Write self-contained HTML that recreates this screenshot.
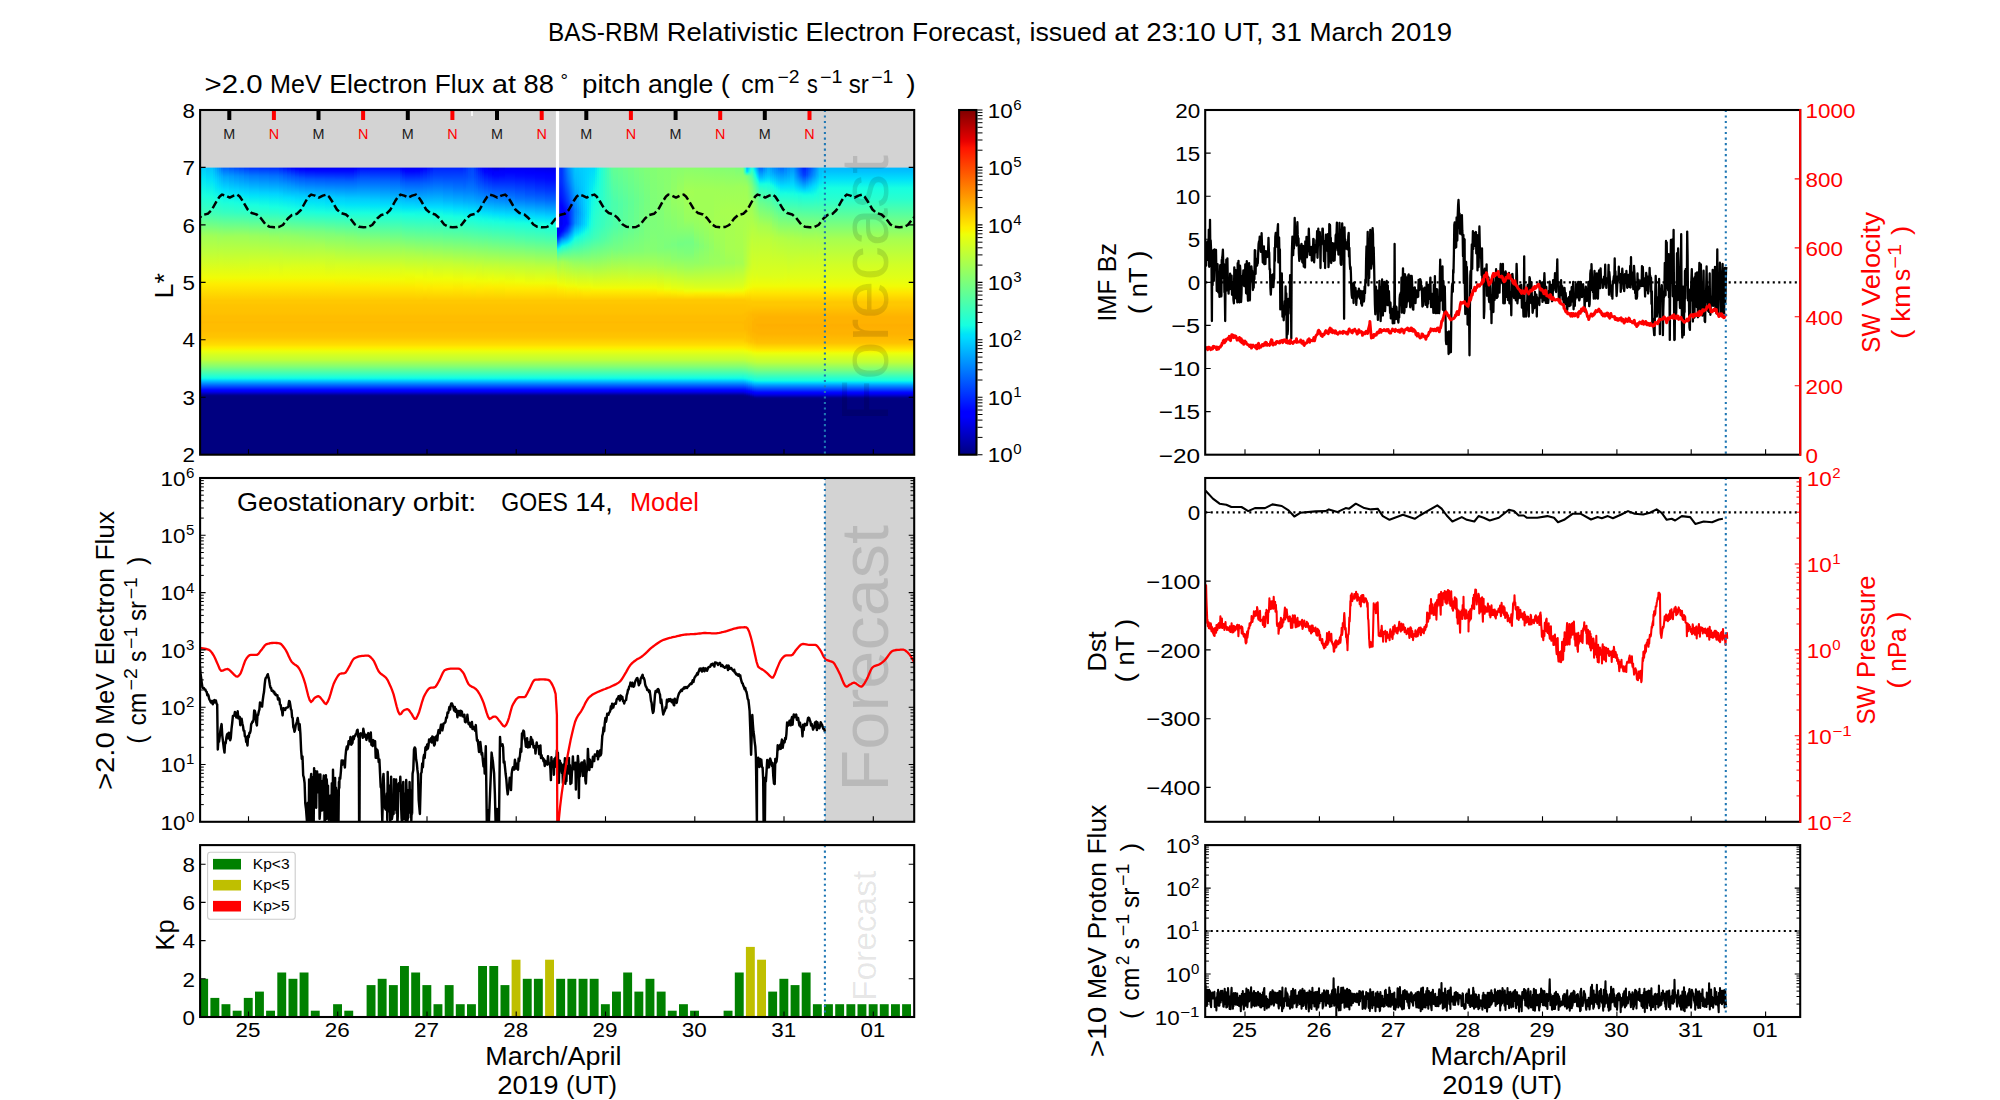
<!DOCTYPE html>
<html><head><meta charset="utf-8"><title>BAS-RBM Relativistic Electron Forecast</title><style>html,body{margin:0;padding:0;background:#fff}svg{display:block}text{font-family:"Liberation Sans",sans-serif}</style></head><body><svg width="2000" height="1100" viewBox="0 0 2000 1100" font-family="Liberation Sans, sans-serif"><defs><linearGradient id="h0" x1="0" y1="0" x2="0" y2="1"><stop offset="0.000" stop-color="#00cbff"/><stop offset="0.075" stop-color="#00e4f8"/><stop offset="0.209" stop-color="#19ffde"/><stop offset="0.336" stop-color="#3cffba"/><stop offset="0.515" stop-color="#a0ff56"/><stop offset="0.642" stop-color="#beff39"/><stop offset="0.828" stop-color="#f1fc06"/><stop offset="0.873" stop-color="#feed00"/><stop offset="1.000" stop-color="#ffc800"/></linearGradient><linearGradient id="h1" x1="0" y1="0" x2="0" y2="1"><stop offset="0.000" stop-color="#00c1ff"/><stop offset="0.097" stop-color="#00e2f9"/><stop offset="0.216" stop-color="#19ffde"/><stop offset="0.336" stop-color="#3bffbc"/><stop offset="0.515" stop-color="#a0ff56"/><stop offset="0.642" stop-color="#beff39"/><stop offset="0.828" stop-color="#f1fc06"/><stop offset="0.873" stop-color="#feed00"/><stop offset="1.000" stop-color="#ffc800"/></linearGradient><linearGradient id="h2" x1="0" y1="0" x2="0" y2="1"><stop offset="0.000" stop-color="#00b4ff"/><stop offset="0.104" stop-color="#00defc"/><stop offset="0.179" stop-color="#0cf4eb"/><stop offset="0.231" stop-color="#19ffde"/><stop offset="0.336" stop-color="#39ffbe"/><stop offset="0.500" stop-color="#97ff60"/><stop offset="0.530" stop-color="#a4ff53"/><stop offset="0.664" stop-color="#c4ff33"/><stop offset="0.828" stop-color="#f1fc06"/><stop offset="0.873" stop-color="#feed00"/><stop offset="1.000" stop-color="#ffc800"/></linearGradient><linearGradient id="h3" x1="0" y1="0" x2="0" y2="1"><stop offset="0.000" stop-color="#00a4ff"/><stop offset="0.104" stop-color="#00d6ff"/><stop offset="0.164" stop-color="#04eaf2"/><stop offset="0.231" stop-color="#18ffe0"/><stop offset="0.336" stop-color="#39ffbe"/><stop offset="0.515" stop-color="#a0ff56"/><stop offset="0.642" stop-color="#beff39"/><stop offset="0.828" stop-color="#f1fc06"/><stop offset="0.873" stop-color="#feed00"/><stop offset="1.000" stop-color="#ffc800"/></linearGradient><linearGradient id="h4" x1="0" y1="0" x2="0" y2="1"><stop offset="0.000" stop-color="#0094ff"/><stop offset="0.030" stop-color="#00a4ff"/><stop offset="0.082" stop-color="#00c4ff"/><stop offset="0.149" stop-color="#00e0fb"/><stop offset="0.239" stop-color="#18ffe0"/><stop offset="0.336" stop-color="#38ffc0"/><stop offset="0.507" stop-color="#9aff5d"/><stop offset="0.828" stop-color="#f1fc06"/><stop offset="0.873" stop-color="#feed00"/><stop offset="1.000" stop-color="#ffc800"/></linearGradient><linearGradient id="h5" x1="0" y1="0" x2="0" y2="1"><stop offset="0.000" stop-color="#0084ff"/><stop offset="0.022" stop-color="#0090ff"/><stop offset="0.082" stop-color="#00baff"/><stop offset="0.164" stop-color="#00e2fa"/><stop offset="0.246" stop-color="#19ffde"/><stop offset="0.343" stop-color="#3affbc"/><stop offset="0.515" stop-color="#9dff5a"/><stop offset="0.672" stop-color="#c7ff30"/><stop offset="0.828" stop-color="#f1fc06"/><stop offset="0.873" stop-color="#feed00"/><stop offset="1.000" stop-color="#ffc800"/></linearGradient><linearGradient id="h6" x1="0" y1="0" x2="0" y2="1"><stop offset="0.000" stop-color="#0070ff"/><stop offset="0.007" stop-color="#0070ff"/><stop offset="0.067" stop-color="#00aaff"/><stop offset="0.172" stop-color="#00e2fa"/><stop offset="0.246" stop-color="#16ffe1"/><stop offset="0.343" stop-color="#39ffbe"/><stop offset="0.485" stop-color="#8dff6a"/><stop offset="0.537" stop-color="#a4ff53"/><stop offset="0.672" stop-color="#c7ff30"/><stop offset="0.828" stop-color="#f1fc06"/><stop offset="0.873" stop-color="#feed00"/><stop offset="1.000" stop-color="#ffc800"/></linearGradient><linearGradient id="h7" x1="0" y1="0" x2="0" y2="1"><stop offset="0.000" stop-color="#0064ff"/><stop offset="0.015" stop-color="#006cff"/><stop offset="0.075" stop-color="#00a5ff"/><stop offset="0.172" stop-color="#00ddfe"/><stop offset="0.231" stop-color="#0ff8e7"/><stop offset="0.276" stop-color="#1fffd7"/><stop offset="0.336" stop-color="#34ffc3"/><stop offset="0.522" stop-color="#a0ff56"/><stop offset="0.642" stop-color="#beff39"/><stop offset="0.828" stop-color="#f1fc06"/><stop offset="0.873" stop-color="#feed00"/><stop offset="1.000" stop-color="#ffc800"/></linearGradient><linearGradient id="h8" x1="0" y1="0" x2="0" y2="1"><stop offset="0.000" stop-color="#0059ff"/><stop offset="0.007" stop-color="#0059ff"/><stop offset="0.067" stop-color="#0098ff"/><stop offset="0.187" stop-color="#00e0fb"/><stop offset="0.261" stop-color="#18ffdf"/><stop offset="0.343" stop-color="#37ffc0"/><stop offset="0.522" stop-color="#a0ff56"/><stop offset="0.642" stop-color="#beff39"/><stop offset="0.828" stop-color="#f1fc06"/><stop offset="0.873" stop-color="#feed00"/><stop offset="1.000" stop-color="#ffc800"/></linearGradient><linearGradient id="h9" x1="0" y1="0" x2="0" y2="1"><stop offset="0.000" stop-color="#0050ff"/><stop offset="0.007" stop-color="#0050ff"/><stop offset="0.067" stop-color="#0090ff"/><stop offset="0.172" stop-color="#00d4ff"/><stop offset="0.216" stop-color="#06ecf1"/><stop offset="0.269" stop-color="#19ffde"/><stop offset="0.336" stop-color="#31ffc6"/><stop offset="0.515" stop-color="#9dff5a"/><stop offset="0.687" stop-color="#caff2c"/><stop offset="0.828" stop-color="#f1fc06"/><stop offset="0.873" stop-color="#feed00"/><stop offset="1.000" stop-color="#ffc800"/></linearGradient><linearGradient id="h10" x1="0" y1="0" x2="0" y2="1"><stop offset="0.000" stop-color="#0047ff"/><stop offset="0.007" stop-color="#0047ff"/><stop offset="0.067" stop-color="#008aff"/><stop offset="0.194" stop-color="#00ddfd"/><stop offset="0.239" stop-color="#0cf4eb"/><stop offset="0.276" stop-color="#19ffde"/><stop offset="0.343" stop-color="#35ffc2"/><stop offset="0.515" stop-color="#9dff5a"/><stop offset="0.687" stop-color="#caff2c"/><stop offset="0.828" stop-color="#f1fc06"/><stop offset="0.873" stop-color="#feed00"/><stop offset="1.000" stop-color="#ffc800"/></linearGradient><linearGradient id="h11" x1="0" y1="0" x2="0" y2="1"><stop offset="0.000" stop-color="#003dff"/><stop offset="0.007" stop-color="#003dff"/><stop offset="0.067" stop-color="#0082ff"/><stop offset="0.157" stop-color="#00c2ff"/><stop offset="0.201" stop-color="#00defd"/><stop offset="0.276" stop-color="#18ffdf"/><stop offset="0.343" stop-color="#33ffc4"/><stop offset="0.515" stop-color="#9dff5a"/><stop offset="0.687" stop-color="#caff2c"/><stop offset="0.828" stop-color="#f1fc06"/><stop offset="0.873" stop-color="#feed00"/><stop offset="1.000" stop-color="#ffc800"/></linearGradient><linearGradient id="h12" x1="0" y1="0" x2="0" y2="1"><stop offset="0.000" stop-color="#0035ff"/><stop offset="0.007" stop-color="#0035ff"/><stop offset="0.067" stop-color="#007bff"/><stop offset="0.179" stop-color="#00ccff"/><stop offset="0.216" stop-color="#00e3f9"/><stop offset="0.284" stop-color="#19ffde"/><stop offset="0.336" stop-color="#2cffca"/><stop offset="0.515" stop-color="#9aff5d"/><stop offset="0.716" stop-color="#d4ff23"/><stop offset="0.828" stop-color="#f1fc06"/><stop offset="0.873" stop-color="#feed00"/><stop offset="1.000" stop-color="#ffc800"/></linearGradient><linearGradient id="h13" x1="0" y1="0" x2="0" y2="1"><stop offset="0.000" stop-color="#0031ff"/><stop offset="0.007" stop-color="#0031ff"/><stop offset="0.067" stop-color="#0076ff"/><stop offset="0.194" stop-color="#00d2ff"/><stop offset="0.239" stop-color="#06ecf1"/><stop offset="0.291" stop-color="#19ffde"/><stop offset="0.343" stop-color="#2fffc8"/><stop offset="0.515" stop-color="#98ff5e"/><stop offset="0.694" stop-color="#ceff29"/><stop offset="0.828" stop-color="#f1fc06"/><stop offset="0.873" stop-color="#feed00"/><stop offset="1.000" stop-color="#ffc800"/></linearGradient><linearGradient id="h14" x1="0" y1="0" x2="0" y2="1"><stop offset="0.000" stop-color="#002eff"/><stop offset="0.007" stop-color="#002eff"/><stop offset="0.067" stop-color="#0071ff"/><stop offset="0.201" stop-color="#00d4ff"/><stop offset="0.246" stop-color="#06ecf1"/><stop offset="0.299" stop-color="#18ffdf"/><stop offset="0.343" stop-color="#2cffca"/><stop offset="0.522" stop-color="#98ff5e"/><stop offset="0.761" stop-color="#e1ff16"/><stop offset="0.828" stop-color="#f1fc06"/><stop offset="0.873" stop-color="#feed00"/><stop offset="1.000" stop-color="#ffc800"/></linearGradient><linearGradient id="h15" x1="0" y1="0" x2="0" y2="1"><stop offset="0.000" stop-color="#0024ff"/><stop offset="0.007" stop-color="#0024ff"/><stop offset="0.067" stop-color="#006aff"/><stop offset="0.201" stop-color="#00d0ff"/><stop offset="0.254" stop-color="#07edf0"/><stop offset="0.306" stop-color="#19ffde"/><stop offset="0.343" stop-color="#29ffce"/><stop offset="0.500" stop-color="#8cff6b"/><stop offset="0.642" stop-color="#beff39"/><stop offset="0.828" stop-color="#f1fc06"/><stop offset="0.873" stop-color="#feed00"/><stop offset="1.000" stop-color="#ffc800"/></linearGradient><linearGradient id="h16" x1="0" y1="0" x2="0" y2="1"><stop offset="0.000" stop-color="#0018ff"/><stop offset="0.007" stop-color="#0018ff"/><stop offset="0.060" stop-color="#005aff"/><stop offset="0.134" stop-color="#009aff"/><stop offset="0.231" stop-color="#00e0fb"/><stop offset="0.306" stop-color="#17ffe0"/><stop offset="0.351" stop-color="#2cffca"/><stop offset="0.515" stop-color="#94ff63"/><stop offset="0.761" stop-color="#e1ff16"/><stop offset="0.828" stop-color="#f1fc06"/><stop offset="0.873" stop-color="#feed00"/><stop offset="1.000" stop-color="#ffc800"/></linearGradient><linearGradient id="h17" x1="0" y1="0" x2="0" y2="1"><stop offset="0.000" stop-color="#000dff"/><stop offset="0.007" stop-color="#000dff"/><stop offset="0.060" stop-color="#0052ff"/><stop offset="0.127" stop-color="#008fff"/><stop offset="0.231" stop-color="#00dffc"/><stop offset="0.313" stop-color="#18ffdf"/><stop offset="0.343" stop-color="#26ffd1"/><stop offset="0.478" stop-color="#7dff7a"/><stop offset="0.522" stop-color="#95ff62"/><stop offset="0.761" stop-color="#e1ff16"/><stop offset="0.828" stop-color="#f1fc06"/><stop offset="0.873" stop-color="#feed00"/><stop offset="1.000" stop-color="#ffc800"/></linearGradient><linearGradient id="h18" x1="0" y1="0" x2="0" y2="1"><stop offset="0.000" stop-color="#0003ff"/><stop offset="0.007" stop-color="#0003ff"/><stop offset="0.067" stop-color="#0053ff"/><stop offset="0.142" stop-color="#0097ff"/><stop offset="0.231" stop-color="#00dcfe"/><stop offset="0.313" stop-color="#16ffe1"/><stop offset="0.358" stop-color="#30ffc7"/><stop offset="0.515" stop-color="#91ff65"/><stop offset="0.739" stop-color="#dbff1c"/><stop offset="0.828" stop-color="#f1fc06"/><stop offset="0.873" stop-color="#feed00"/><stop offset="1.000" stop-color="#ffc800"/></linearGradient><linearGradient id="h19" x1="0" y1="0" x2="0" y2="1"><stop offset="0.000" stop-color="#0000ff"/><stop offset="0.015" stop-color="#0004ff"/><stop offset="0.075" stop-color="#0054ff"/><stop offset="0.194" stop-color="#00bfff"/><stop offset="0.246" stop-color="#00e1fa"/><stop offset="0.321" stop-color="#18ffe0"/><stop offset="0.515" stop-color="#90ff66"/><stop offset="0.739" stop-color="#dbff1c"/><stop offset="0.828" stop-color="#f1fc06"/><stop offset="0.873" stop-color="#feed00"/><stop offset="1.000" stop-color="#ffc800"/></linearGradient><linearGradient id="h20" x1="0" y1="0" x2="0" y2="1"><stop offset="0.000" stop-color="#0000fa"/><stop offset="0.022" stop-color="#0005ff"/><stop offset="0.082" stop-color="#0055ff"/><stop offset="0.209" stop-color="#00c7ff"/><stop offset="0.254" stop-color="#00e3f8"/><stop offset="0.328" stop-color="#18ffde"/><stop offset="0.478" stop-color="#7aff7d"/><stop offset="0.530" stop-color="#94ff62"/><stop offset="0.739" stop-color="#dbff1c"/><stop offset="0.828" stop-color="#f1fc06"/><stop offset="0.873" stop-color="#feed00"/><stop offset="1.000" stop-color="#ffc800"/></linearGradient><linearGradient id="h21" x1="0" y1="0" x2="0" y2="1"><stop offset="0.000" stop-color="#0000f1"/><stop offset="0.007" stop-color="#0000f1"/><stop offset="0.015" stop-color="#0000ff"/><stop offset="0.022" stop-color="#0000ff"/><stop offset="0.090" stop-color="#0057ff"/><stop offset="0.224" stop-color="#00d0ff"/><stop offset="0.269" stop-color="#02e7f5"/><stop offset="0.336" stop-color="#1bffdc"/><stop offset="0.485" stop-color="#7cff7b"/><stop offset="0.552" stop-color="#9bff5c"/><stop offset="0.739" stop-color="#dbff1c"/><stop offset="0.828" stop-color="#f1fc06"/><stop offset="0.873" stop-color="#feed00"/><stop offset="1.000" stop-color="#ffc800"/></linearGradient><linearGradient id="h22" x1="0" y1="0" x2="0" y2="1"><stop offset="0.000" stop-color="#0000f1"/><stop offset="0.007" stop-color="#0000f1"/><stop offset="0.015" stop-color="#0000ff"/><stop offset="0.030" stop-color="#0008ff"/><stop offset="0.090" stop-color="#0054ff"/><stop offset="0.231" stop-color="#00d3ff"/><stop offset="0.284" stop-color="#05ebf2"/><stop offset="0.336" stop-color="#19ffde"/><stop offset="0.485" stop-color="#7aff7d"/><stop offset="0.582" stop-color="#a6ff52"/><stop offset="0.739" stop-color="#dbff1c"/><stop offset="0.828" stop-color="#f1fc06"/><stop offset="0.873" stop-color="#feed00"/><stop offset="1.000" stop-color="#ffc800"/></linearGradient><linearGradient id="h23" x1="0" y1="0" x2="0" y2="1"><stop offset="0.000" stop-color="#0000f1"/><stop offset="0.007" stop-color="#0000f1"/><stop offset="0.015" stop-color="#0000ff"/><stop offset="0.030" stop-color="#0008ff"/><stop offset="0.090" stop-color="#0051ff"/><stop offset="0.224" stop-color="#00caff"/><stop offset="0.276" stop-color="#00e4f8"/><stop offset="0.343" stop-color="#1cffdb"/><stop offset="0.500" stop-color="#7fff78"/><stop offset="0.664" stop-color="#c1ff36"/><stop offset="0.828" stop-color="#f1fc06"/><stop offset="0.873" stop-color="#feed00"/><stop offset="1.000" stop-color="#ffc800"/></linearGradient><linearGradient id="h24" x1="0" y1="0" x2="0" y2="1"><stop offset="0.000" stop-color="#0000f1"/><stop offset="0.007" stop-color="#0000f1"/><stop offset="0.015" stop-color="#0000ff"/><stop offset="0.030" stop-color="#0008ff"/><stop offset="0.097" stop-color="#0057ff"/><stop offset="0.231" stop-color="#00ccff"/><stop offset="0.276" stop-color="#00e2f9"/><stop offset="0.343" stop-color="#1bffdc"/><stop offset="0.522" stop-color="#88ff6f"/><stop offset="0.731" stop-color="#d6ff21"/><stop offset="0.828" stop-color="#f1fc06"/><stop offset="0.896" stop-color="#ffe600"/><stop offset="1.000" stop-color="#ffc800"/></linearGradient><linearGradient id="h25" x1="0" y1="0" x2="0" y2="1"><stop offset="0.000" stop-color="#0000f3"/><stop offset="0.007" stop-color="#0000f3"/><stop offset="0.015" stop-color="#0000ff"/><stop offset="0.030" stop-color="#0008ff"/><stop offset="0.112" stop-color="#0064ff"/><stop offset="0.231" stop-color="#00c8ff"/><stop offset="0.284" stop-color="#00e4f8"/><stop offset="0.343" stop-color="#19ffde"/><stop offset="0.522" stop-color="#84ff72"/><stop offset="0.724" stop-color="#d3ff24"/><stop offset="0.828" stop-color="#f1fc06"/><stop offset="0.896" stop-color="#ffe600"/><stop offset="1.000" stop-color="#ffc800"/></linearGradient><linearGradient id="h26" x1="0" y1="0" x2="0" y2="1"><stop offset="0.000" stop-color="#0000ff"/><stop offset="0.015" stop-color="#0001ff"/><stop offset="0.097" stop-color="#0059ff"/><stop offset="0.231" stop-color="#00c8ff"/><stop offset="0.284" stop-color="#00e4f8"/><stop offset="0.343" stop-color="#19ffde"/><stop offset="0.522" stop-color="#82ff74"/><stop offset="0.716" stop-color="#d1ff26"/><stop offset="0.828" stop-color="#f1fc06"/><stop offset="0.896" stop-color="#ffe600"/><stop offset="1.000" stop-color="#ffc800"/></linearGradient><linearGradient id="h27" x1="0" y1="0" x2="0" y2="1"><stop offset="0.000" stop-color="#0003ff"/><stop offset="0.007" stop-color="#0003ff"/><stop offset="0.097" stop-color="#005fff"/><stop offset="0.231" stop-color="#00c8ff"/><stop offset="0.284" stop-color="#00e4f8"/><stop offset="0.343" stop-color="#19ffde"/><stop offset="0.522" stop-color="#80ff77"/><stop offset="0.709" stop-color="#ceff29"/><stop offset="0.828" stop-color="#f1fc06"/><stop offset="0.896" stop-color="#ffe600"/><stop offset="1.000" stop-color="#ffc800"/></linearGradient><linearGradient id="h28" x1="0" y1="0" x2="0" y2="1"><stop offset="0.000" stop-color="#000cff"/><stop offset="0.007" stop-color="#000cff"/><stop offset="0.075" stop-color="#0050ff"/><stop offset="0.239" stop-color="#00cbff"/><stop offset="0.284" stop-color="#00e3f9"/><stop offset="0.343" stop-color="#19ffde"/><stop offset="0.545" stop-color="#89ff6e"/><stop offset="0.739" stop-color="#d5ff22"/><stop offset="0.836" stop-color="#f2fb05"/><stop offset="0.896" stop-color="#ffe600"/><stop offset="1.000" stop-color="#ffc800"/></linearGradient><linearGradient id="h29" x1="0" y1="0" x2="0" y2="1"><stop offset="0.000" stop-color="#000cff"/><stop offset="0.015" stop-color="#0014ff"/><stop offset="0.090" stop-color="#005aff"/><stop offset="0.246" stop-color="#00ccff"/><stop offset="0.291" stop-color="#00e4f8"/><stop offset="0.351" stop-color="#1cffdb"/><stop offset="0.545" stop-color="#86ff71"/><stop offset="0.754" stop-color="#daff1d"/><stop offset="0.836" stop-color="#f1fc06"/><stop offset="0.881" stop-color="#feed00"/><stop offset="1.000" stop-color="#ffc800"/></linearGradient><linearGradient id="h30" x1="0" y1="0" x2="0" y2="1"><stop offset="0.000" stop-color="#000cff"/><stop offset="0.015" stop-color="#0014ff"/><stop offset="0.104" stop-color="#0064ff"/><stop offset="0.254" stop-color="#00ccff"/><stop offset="0.291" stop-color="#00e2fa"/><stop offset="0.343" stop-color="#16ffe1"/><stop offset="0.567" stop-color="#8dff6a"/><stop offset="0.746" stop-color="#d6ff21"/><stop offset="0.836" stop-color="#f1fc06"/><stop offset="0.903" stop-color="#ffe600"/><stop offset="1.000" stop-color="#ffc800"/></linearGradient><linearGradient id="h31" x1="0" y1="0" x2="0" y2="1"><stop offset="0.000" stop-color="#000bff"/><stop offset="0.015" stop-color="#0013ff"/><stop offset="0.112" stop-color="#0067ff"/><stop offset="0.291" stop-color="#00e0fb"/><stop offset="0.328" stop-color="#0df6e9"/><stop offset="0.351" stop-color="#19ffde"/><stop offset="0.597" stop-color="#98ff5f"/><stop offset="0.776" stop-color="#dfff18"/><stop offset="0.836" stop-color="#f1fc06"/><stop offset="0.903" stop-color="#ffe600"/><stop offset="1.000" stop-color="#ffc800"/></linearGradient><linearGradient id="h32" x1="0" y1="0" x2="0" y2="1"><stop offset="0.000" stop-color="#0000ff"/><stop offset="0.015" stop-color="#0004ff"/><stop offset="0.067" stop-color="#0038ff"/><stop offset="0.231" stop-color="#00b8ff"/><stop offset="0.299" stop-color="#00e2fa"/><stop offset="0.351" stop-color="#19ffde"/><stop offset="0.515" stop-color="#6eff88"/><stop offset="0.724" stop-color="#ceff29"/><stop offset="0.836" stop-color="#f1fc06"/><stop offset="0.903" stop-color="#ffe600"/><stop offset="1.000" stop-color="#ffc800"/></linearGradient><linearGradient id="h33" x1="0" y1="0" x2="0" y2="1"><stop offset="0.000" stop-color="#0000fa"/><stop offset="0.022" stop-color="#0001ff"/><stop offset="0.112" stop-color="#0059ff"/><stop offset="0.254" stop-color="#00c4ff"/><stop offset="0.306" stop-color="#00e4f8"/><stop offset="0.351" stop-color="#17ffe0"/><stop offset="0.627" stop-color="#a4ff53"/><stop offset="0.761" stop-color="#dbff1c"/><stop offset="0.836" stop-color="#f1fc06"/><stop offset="0.903" stop-color="#ffe600"/><stop offset="1.000" stop-color="#ffc800"/></linearGradient><linearGradient id="h34" x1="0" y1="0" x2="0" y2="1"><stop offset="0.000" stop-color="#0000f1"/><stop offset="0.007" stop-color="#0000f1"/><stop offset="0.015" stop-color="#0000ff"/><stop offset="0.030" stop-color="#0000ff"/><stop offset="0.119" stop-color="#005aff"/><stop offset="0.269" stop-color="#00cbff"/><stop offset="0.306" stop-color="#00e4f8"/><stop offset="0.351" stop-color="#16ffe1"/><stop offset="0.642" stop-color="#a8ff4f"/><stop offset="0.799" stop-color="#e7ff0f"/><stop offset="0.851" stop-color="#f4f802"/><stop offset="0.903" stop-color="#ffe600"/><stop offset="1.000" stop-color="#ffc800"/></linearGradient><linearGradient id="h35" x1="0" y1="0" x2="0" y2="1"><stop offset="0.000" stop-color="#0000f5"/><stop offset="0.007" stop-color="#0000f5"/><stop offset="0.015" stop-color="#0000ff"/><stop offset="0.030" stop-color="#0002ff"/><stop offset="0.112" stop-color="#0054ff"/><stop offset="0.239" stop-color="#00b4ff"/><stop offset="0.299" stop-color="#00dcfe"/><stop offset="0.336" stop-color="#0ff8e7"/><stop offset="0.366" stop-color="#1cffdb"/><stop offset="0.672" stop-color="#b4ff43"/><stop offset="0.821" stop-color="#eeff09"/><stop offset="0.888" stop-color="#feed00"/><stop offset="1.000" stop-color="#ffc800"/></linearGradient><linearGradient id="h36" x1="0" y1="0" x2="0" y2="1"><stop offset="0.000" stop-color="#0000ff"/><stop offset="0.022" stop-color="#0004ff"/><stop offset="0.119" stop-color="#005cff"/><stop offset="0.299" stop-color="#00dcfe"/><stop offset="0.336" stop-color="#0ff8e7"/><stop offset="0.366" stop-color="#1cffdb"/><stop offset="0.485" stop-color="#56ffa0"/><stop offset="0.672" stop-color="#b4ff43"/><stop offset="0.821" stop-color="#eeff09"/><stop offset="0.888" stop-color="#feed00"/><stop offset="1.000" stop-color="#ffc800"/></linearGradient><linearGradient id="h37" x1="0" y1="0" x2="0" y2="1"><stop offset="0.000" stop-color="#0001ff"/><stop offset="0.015" stop-color="#0007ff"/><stop offset="0.127" stop-color="#0065ff"/><stop offset="0.299" stop-color="#00dcfe"/><stop offset="0.336" stop-color="#0ff8e7"/><stop offset="0.366" stop-color="#1cffdb"/><stop offset="0.478" stop-color="#53ffa4"/><stop offset="0.724" stop-color="#caff2c"/><stop offset="0.836" stop-color="#f1fc06"/><stop offset="0.903" stop-color="#ffea00"/><stop offset="0.993" stop-color="#ffc800"/><stop offset="1.000" stop-color="#ffc800"/></linearGradient><linearGradient id="h38" x1="0" y1="0" x2="0" y2="1"><stop offset="0.000" stop-color="#000cff"/><stop offset="0.015" stop-color="#0013ff"/><stop offset="0.179" stop-color="#008cff"/><stop offset="0.299" stop-color="#00dcfe"/><stop offset="0.336" stop-color="#0ff8e7"/><stop offset="0.366" stop-color="#1cffdb"/><stop offset="0.485" stop-color="#55ffa1"/><stop offset="0.649" stop-color="#a7ff50"/><stop offset="0.791" stop-color="#e4ff13"/><stop offset="0.843" stop-color="#f1fc06"/><stop offset="0.888" stop-color="#feed00"/><stop offset="1.000" stop-color="#ffc800"/></linearGradient><linearGradient id="h39" x1="0" y1="0" x2="0" y2="1"><stop offset="0.000" stop-color="#0015ff"/><stop offset="0.022" stop-color="#0021ff"/><stop offset="0.216" stop-color="#00a4ff"/><stop offset="0.299" stop-color="#00dcfe"/><stop offset="0.336" stop-color="#0ff8e7"/><stop offset="0.366" stop-color="#1cffdb"/><stop offset="0.485" stop-color="#53ffa4"/><stop offset="0.649" stop-color="#a7ff50"/><stop offset="0.791" stop-color="#e4ff13"/><stop offset="0.843" stop-color="#f1fc06"/><stop offset="0.910" stop-color="#ffe600"/><stop offset="1.000" stop-color="#ffc800"/></linearGradient><linearGradient id="h40" x1="0" y1="0" x2="0" y2="1"><stop offset="0.000" stop-color="#0020ff"/><stop offset="0.060" stop-color="#0040ff"/><stop offset="0.299" stop-color="#00dcfe"/><stop offset="0.351" stop-color="#14fde3"/><stop offset="0.485" stop-color="#52ffa5"/><stop offset="0.701" stop-color="#beff39"/><stop offset="0.836" stop-color="#f0fd07"/><stop offset="0.903" stop-color="#ffea00"/><stop offset="1.000" stop-color="#ffc800"/></linearGradient><linearGradient id="h41" x1="0" y1="0" x2="0" y2="1"><stop offset="0.000" stop-color="#0020ff"/><stop offset="0.075" stop-color="#0048ff"/><stop offset="0.254" stop-color="#00b7ff"/><stop offset="0.306" stop-color="#00defd"/><stop offset="0.366" stop-color="#17ffe0"/><stop offset="0.500" stop-color="#56ffa0"/><stop offset="0.716" stop-color="#c3ff34"/><stop offset="0.828" stop-color="#eeff09"/><stop offset="0.896" stop-color="#feed00"/><stop offset="1.000" stop-color="#ffc800"/></linearGradient><linearGradient id="h42" x1="0" y1="0" x2="0" y2="1"><stop offset="0.000" stop-color="#0020ff"/><stop offset="0.164" stop-color="#0078ff"/><stop offset="0.269" stop-color="#00bcff"/><stop offset="0.313" stop-color="#00ddfd"/><stop offset="0.373" stop-color="#17ffe0"/><stop offset="0.552" stop-color="#6eff88"/><stop offset="0.731" stop-color="#c7ff30"/><stop offset="0.843" stop-color="#f1fc06"/><stop offset="0.910" stop-color="#ffe600"/><stop offset="1.000" stop-color="#ffc800"/></linearGradient><linearGradient id="h43" x1="0" y1="0" x2="0" y2="1"><stop offset="0.000" stop-color="#0028ff"/><stop offset="0.142" stop-color="#0068ff"/><stop offset="0.254" stop-color="#00acff"/><stop offset="0.321" stop-color="#00e0fb"/><stop offset="0.381" stop-color="#17ffe0"/><stop offset="0.567" stop-color="#74ff82"/><stop offset="0.739" stop-color="#c9ff2d"/><stop offset="0.836" stop-color="#eeff09"/><stop offset="0.896" stop-color="#feed00"/><stop offset="1.000" stop-color="#ffc800"/></linearGradient><linearGradient id="h44" x1="0" y1="0" x2="0" y2="1"><stop offset="0.000" stop-color="#0034ff"/><stop offset="0.075" stop-color="#004cff"/><stop offset="0.194" stop-color="#0088ff"/><stop offset="0.261" stop-color="#00b2ff"/><stop offset="0.321" stop-color="#00e0fb"/><stop offset="0.388" stop-color="#19ffde"/><stop offset="0.575" stop-color="#78ff7e"/><stop offset="0.724" stop-color="#c1ff36"/><stop offset="0.836" stop-color="#eeff09"/><stop offset="0.896" stop-color="#feed00"/><stop offset="1.000" stop-color="#ffc800"/></linearGradient><linearGradient id="h45" x1="0" y1="0" x2="0" y2="1"><stop offset="0.000" stop-color="#0040ff"/><stop offset="0.075" stop-color="#0051ff"/><stop offset="0.179" stop-color="#0080ff"/><stop offset="0.261" stop-color="#00b0ff"/><stop offset="0.321" stop-color="#00dcfe"/><stop offset="0.381" stop-color="#16ffe1"/><stop offset="0.575" stop-color="#77ff80"/><stop offset="0.731" stop-color="#c4ff33"/><stop offset="0.836" stop-color="#eeff09"/><stop offset="0.896" stop-color="#feed00"/><stop offset="1.000" stop-color="#ffc800"/></linearGradient><linearGradient id="h46" x1="0" y1="0" x2="0" y2="1"><stop offset="0.000" stop-color="#0045ff"/><stop offset="0.075" stop-color="#0053ff"/><stop offset="0.172" stop-color="#007bff"/><stop offset="0.269" stop-color="#00b5ff"/><stop offset="0.328" stop-color="#00e1fa"/><stop offset="0.381" stop-color="#16ffe1"/><stop offset="0.560" stop-color="#6eff89"/><stop offset="0.716" stop-color="#beff39"/><stop offset="0.836" stop-color="#edff0a"/><stop offset="0.888" stop-color="#fbf100"/><stop offset="1.000" stop-color="#ffc800"/></linearGradient><linearGradient id="h47" x1="0" y1="0" x2="0" y2="1"><stop offset="0.000" stop-color="#0034ff"/><stop offset="0.075" stop-color="#004aff"/><stop offset="0.179" stop-color="#007aff"/><stop offset="0.246" stop-color="#00a2ff"/><stop offset="0.328" stop-color="#00e0fb"/><stop offset="0.388" stop-color="#18ffe0"/><stop offset="0.567" stop-color="#70ff87"/><stop offset="0.664" stop-color="#a4ff53"/><stop offset="0.828" stop-color="#ebff0c"/><stop offset="0.888" stop-color="#fbf100"/><stop offset="1.000" stop-color="#ffc800"/></linearGradient><linearGradient id="h48" x1="0" y1="0" x2="0" y2="1"><stop offset="0.000" stop-color="#0024ff"/><stop offset="0.119" stop-color="#0056ff"/><stop offset="0.246" stop-color="#009eff"/><stop offset="0.328" stop-color="#00defc"/><stop offset="0.388" stop-color="#16ffe1"/><stop offset="0.575" stop-color="#75ff82"/><stop offset="0.761" stop-color="#d1ff26"/><stop offset="0.851" stop-color="#f1fc06"/><stop offset="0.918" stop-color="#ffe600"/><stop offset="1.000" stop-color="#ffc800"/></linearGradient><linearGradient id="h49" x1="0" y1="0" x2="0" y2="1"><stop offset="0.000" stop-color="#0014ff"/><stop offset="0.149" stop-color="#005eff"/><stop offset="0.254" stop-color="#00a2ff"/><stop offset="0.336" stop-color="#00e0fb"/><stop offset="0.373" stop-color="#0ff8e7"/><stop offset="0.403" stop-color="#1cffdb"/><stop offset="0.575" stop-color="#73ff83"/><stop offset="0.739" stop-color="#c7ff30"/><stop offset="0.851" stop-color="#f1fc06"/><stop offset="0.918" stop-color="#ffe600"/><stop offset="1.000" stop-color="#ffc800"/></linearGradient><linearGradient id="h50" x1="0" y1="0" x2="0" y2="1"><stop offset="0.000" stop-color="#0008ff"/><stop offset="0.075" stop-color="#0030ff"/><stop offset="0.246" stop-color="#0098ff"/><stop offset="0.336" stop-color="#00e0fb"/><stop offset="0.381" stop-color="#11fae6"/><stop offset="0.418" stop-color="#23ffd4"/><stop offset="0.582" stop-color="#77ff80"/><stop offset="0.739" stop-color="#c7ff30"/><stop offset="0.851" stop-color="#f1fc06"/><stop offset="0.918" stop-color="#ffe600"/><stop offset="1.000" stop-color="#ffc800"/></linearGradient><linearGradient id="h51" x1="0" y1="0" x2="0" y2="1"><stop offset="0.000" stop-color="#0000ff"/><stop offset="0.030" stop-color="#000cff"/><stop offset="0.254" stop-color="#009cff"/><stop offset="0.336" stop-color="#00dcfe"/><stop offset="0.396" stop-color="#18ffe0"/><stop offset="0.560" stop-color="#6aff8d"/><stop offset="0.701" stop-color="#b4ff43"/><stop offset="0.851" stop-color="#f1fc06"/><stop offset="0.918" stop-color="#ffe600"/><stop offset="1.000" stop-color="#ffc800"/></linearGradient><linearGradient id="h52" x1="0" y1="0" x2="0" y2="1"><stop offset="0.000" stop-color="#0000fa"/><stop offset="0.037" stop-color="#0004ff"/><stop offset="0.254" stop-color="#0099ff"/><stop offset="0.343" stop-color="#00e0fb"/><stop offset="0.381" stop-color="#0ff8e7"/><stop offset="0.410" stop-color="#1dffda"/><stop offset="0.597" stop-color="#7eff78"/><stop offset="0.761" stop-color="#ceff29"/><stop offset="0.851" stop-color="#f0fd07"/><stop offset="0.903" stop-color="#ffea00"/><stop offset="1.000" stop-color="#ffc800"/></linearGradient><linearGradient id="h53" x1="0" y1="0" x2="0" y2="1"><stop offset="0.000" stop-color="#0000ec"/><stop offset="0.015" stop-color="#0000f4"/><stop offset="0.030" stop-color="#0000ff"/><stop offset="0.060" stop-color="#000cff"/><stop offset="0.254" stop-color="#0095ff"/><stop offset="0.343" stop-color="#00ddfd"/><stop offset="0.396" stop-color="#15fee2"/><stop offset="0.575" stop-color="#70ff87"/><stop offset="0.739" stop-color="#c4ff33"/><stop offset="0.843" stop-color="#eeff09"/><stop offset="0.896" stop-color="#feed00"/><stop offset="1.000" stop-color="#ffc800"/></linearGradient><linearGradient id="h54" x1="0" y1="0" x2="0" y2="1"><stop offset="0.000" stop-color="#0000e1"/><stop offset="0.007" stop-color="#0000e1"/><stop offset="0.030" stop-color="#0000fc"/><stop offset="0.052" stop-color="#0000ff"/><stop offset="0.209" stop-color="#0070ff"/><stop offset="0.299" stop-color="#00b8ff"/><stop offset="0.351" stop-color="#00e0fb"/><stop offset="0.403" stop-color="#18ffe0"/><stop offset="0.537" stop-color="#5aff9d"/><stop offset="0.687" stop-color="#aaff4d"/><stop offset="0.813" stop-color="#e4ff13"/><stop offset="0.858" stop-color="#f1fc06"/><stop offset="0.903" stop-color="#ffea00"/><stop offset="1.000" stop-color="#ffc800"/></linearGradient><linearGradient id="h55" x1="0" y1="0" x2="0" y2="1"><stop offset="0.000" stop-color="#0000dd"/><stop offset="0.007" stop-color="#0000dd"/><stop offset="0.037" stop-color="#0000ff"/><stop offset="0.067" stop-color="#0008ff"/><stop offset="0.127" stop-color="#0034ff"/><stop offset="0.254" stop-color="#0090ff"/><stop offset="0.351" stop-color="#00defc"/><stop offset="0.388" stop-color="#0ff8e7"/><stop offset="0.418" stop-color="#1effd8"/><stop offset="0.552" stop-color="#62ff95"/><stop offset="0.731" stop-color="#c0ff37"/><stop offset="0.843" stop-color="#ecff0b"/><stop offset="0.888" stop-color="#fbf100"/><stop offset="1.000" stop-color="#ffc800"/></linearGradient><linearGradient id="h56" x1="0" y1="0" x2="0" y2="1"><stop offset="0.000" stop-color="#0000e6"/><stop offset="0.007" stop-color="#0000e6"/><stop offset="0.030" stop-color="#0000fd"/><stop offset="0.060" stop-color="#0006ff"/><stop offset="0.246" stop-color="#0087ff"/><stop offset="0.351" stop-color="#00dcfe"/><stop offset="0.388" stop-color="#0cf4eb"/><stop offset="0.410" stop-color="#19ffde"/><stop offset="0.560" stop-color="#64ff93"/><stop offset="0.724" stop-color="#baff3c"/><stop offset="0.836" stop-color="#eaff0c"/><stop offset="0.888" stop-color="#fbf100"/><stop offset="1.000" stop-color="#ffc800"/></linearGradient><linearGradient id="h57" x1="0" y1="0" x2="0" y2="1"><stop offset="0.000" stop-color="#0000f0"/><stop offset="0.015" stop-color="#0000f8"/><stop offset="0.037" stop-color="#0000ff"/><stop offset="0.090" stop-color="#001cff"/><stop offset="0.246" stop-color="#0082ff"/><stop offset="0.358" stop-color="#00defd"/><stop offset="0.396" stop-color="#0ef7e8"/><stop offset="0.425" stop-color="#1effd8"/><stop offset="0.560" stop-color="#62ff95"/><stop offset="0.746" stop-color="#c4ff33"/><stop offset="0.858" stop-color="#f1fc06"/><stop offset="0.910" stop-color="#ffea00"/><stop offset="1.000" stop-color="#ffc800"/></linearGradient><linearGradient id="h58" x1="0" y1="0" x2="0" y2="1"><stop offset="0.000" stop-color="#0000ee"/><stop offset="0.015" stop-color="#0000f6"/><stop offset="0.037" stop-color="#0000ff"/><stop offset="0.067" stop-color="#000aff"/><stop offset="0.239" stop-color="#0074ff"/><stop offset="0.358" stop-color="#00d9ff"/><stop offset="0.388" stop-color="#07eef0"/><stop offset="0.418" stop-color="#18ffdf"/><stop offset="0.537" stop-color="#52ffa6"/><stop offset="0.716" stop-color="#b4ff43"/><stop offset="0.851" stop-color="#eeff09"/><stop offset="0.903" stop-color="#feed00"/><stop offset="1.000" stop-color="#ffc800"/></linearGradient><linearGradient id="h59" x1="0" y1="0" x2="0" y2="1"><stop offset="0.000" stop-color="#0000ec"/><stop offset="0.022" stop-color="#0000f8"/><stop offset="0.045" stop-color="#0000ff"/><stop offset="0.082" stop-color="#000fff"/><stop offset="0.209" stop-color="#0059ff"/><stop offset="0.254" stop-color="#007aff"/><stop offset="0.351" stop-color="#00ceff"/><stop offset="0.381" stop-color="#00e4f8"/><stop offset="0.418" stop-color="#16ffe1"/><stop offset="0.545" stop-color="#52ffa5"/><stop offset="0.724" stop-color="#b6ff42"/><stop offset="0.866" stop-color="#f1fc06"/><stop offset="0.910" stop-color="#ffea00"/><stop offset="1.000" stop-color="#ffc800"/></linearGradient><linearGradient id="h60" x1="0" y1="0" x2="0" y2="1"><stop offset="0.000" stop-color="#0000e8"/><stop offset="0.015" stop-color="#0000ef"/><stop offset="0.045" stop-color="#0000ff"/><stop offset="0.082" stop-color="#000aff"/><stop offset="0.172" stop-color="#003bff"/><stop offset="0.246" stop-color="#006dff"/><stop offset="0.366" stop-color="#00d5ff"/><stop offset="0.396" stop-color="#05ebf2"/><stop offset="0.425" stop-color="#17ffe0"/><stop offset="0.545" stop-color="#4fffa8"/><stop offset="0.739" stop-color="#baff3c"/><stop offset="0.836" stop-color="#e4ff13"/><stop offset="0.866" stop-color="#f1fc06"/><stop offset="0.910" stop-color="#ffea00"/><stop offset="1.000" stop-color="#ffc800"/></linearGradient><linearGradient id="h61" x1="0" y1="0" x2="0" y2="1"><stop offset="0.000" stop-color="#0000e6"/><stop offset="0.022" stop-color="#0000f1"/><stop offset="0.052" stop-color="#0000ff"/><stop offset="0.090" stop-color="#0009ff"/><stop offset="0.179" stop-color="#0039ff"/><stop offset="0.246" stop-color="#0066ff"/><stop offset="0.373" stop-color="#00d6ff"/><stop offset="0.403" stop-color="#07edf0"/><stop offset="0.433" stop-color="#17ffe0"/><stop offset="0.545" stop-color="#4cffab"/><stop offset="0.754" stop-color="#c1ff36"/><stop offset="0.866" stop-color="#f1fc06"/><stop offset="0.918" stop-color="#ffe600"/><stop offset="1.000" stop-color="#ffc800"/></linearGradient><linearGradient id="h62" x1="0" y1="0" x2="0" y2="1"><stop offset="0.000" stop-color="#0000e3"/><stop offset="0.015" stop-color="#0000e8"/><stop offset="0.045" stop-color="#0000ff"/><stop offset="0.090" stop-color="#0006ff"/><stop offset="0.149" stop-color="#0022ff"/><stop offset="0.239" stop-color="#005cff"/><stop offset="0.358" stop-color="#00c8ff"/><stop offset="0.388" stop-color="#00e0fb"/><stop offset="0.433" stop-color="#16ffe1"/><stop offset="0.530" stop-color="#40ffb7"/><stop offset="0.687" stop-color="#9dff5a"/><stop offset="0.866" stop-color="#f1fc06"/><stop offset="0.918" stop-color="#ffe600"/><stop offset="1.000" stop-color="#ffc800"/></linearGradient><linearGradient id="h63" x1="0" y1="0" x2="0" y2="1"><stop offset="0.000" stop-color="#002cff"/><stop offset="0.104" stop-color="#0028ff"/><stop offset="0.246" stop-color="#0008ff"/><stop offset="0.291" stop-color="#0000ff"/><stop offset="0.321" stop-color="#0000fa"/><stop offset="0.433" stop-color="#0000ed"/><stop offset="0.478" stop-color="#0000f1"/><stop offset="0.493" stop-color="#0000ff"/><stop offset="0.515" stop-color="#0004ff"/><stop offset="0.567" stop-color="#0084ff"/><stop offset="0.597" stop-color="#00d0ff"/><stop offset="0.604" stop-color="#00e4f8"/><stop offset="0.612" stop-color="#0ff8e7"/><stop offset="0.627" stop-color="#29ffce"/><stop offset="0.657" stop-color="#5dff9a"/><stop offset="0.709" stop-color="#9dff5a"/><stop offset="0.866" stop-color="#ebff0c"/><stop offset="0.910" stop-color="#feed00"/><stop offset="1.000" stop-color="#ffc800"/></linearGradient><linearGradient id="h64" x1="0" y1="0" x2="0" y2="1"><stop offset="0.000" stop-color="#002cff"/><stop offset="0.112" stop-color="#0028ff"/><stop offset="0.239" stop-color="#000cff"/><stop offset="0.284" stop-color="#0000ff"/><stop offset="0.328" stop-color="#0000fa"/><stop offset="0.433" stop-color="#0000ed"/><stop offset="0.478" stop-color="#0000f6"/><stop offset="0.485" stop-color="#0000ff"/><stop offset="0.507" stop-color="#0004ff"/><stop offset="0.522" stop-color="#001cff"/><stop offset="0.597" stop-color="#00d8ff"/><stop offset="0.604" stop-color="#06ecf1"/><stop offset="0.612" stop-color="#16ffe1"/><stop offset="0.664" stop-color="#66ff90"/><stop offset="0.709" stop-color="#9dff5a"/><stop offset="0.866" stop-color="#ebff0c"/><stop offset="0.910" stop-color="#feed00"/><stop offset="1.000" stop-color="#ffc800"/></linearGradient><linearGradient id="h65" x1="0" y1="0" x2="0" y2="1"><stop offset="0.000" stop-color="#0030ff"/><stop offset="0.104" stop-color="#002cff"/><stop offset="0.246" stop-color="#000cff"/><stop offset="0.291" stop-color="#0000ff"/><stop offset="0.336" stop-color="#0000fa"/><stop offset="0.425" stop-color="#0000ed"/><stop offset="0.493" stop-color="#0000ff"/><stop offset="0.515" stop-color="#001cff"/><stop offset="0.545" stop-color="#0068ff"/><stop offset="0.590" stop-color="#00d4ff"/><stop offset="0.597" stop-color="#00e4f8"/><stop offset="0.604" stop-color="#0ff8e7"/><stop offset="0.619" stop-color="#29ffce"/><stop offset="0.649" stop-color="#5aff9d"/><stop offset="0.709" stop-color="#a0ff56"/><stop offset="0.881" stop-color="#f1fc06"/><stop offset="0.925" stop-color="#ffe600"/><stop offset="1.000" stop-color="#ffc800"/></linearGradient><linearGradient id="h66" x1="0" y1="0" x2="0" y2="1"><stop offset="0.000" stop-color="#0034ff"/><stop offset="0.090" stop-color="#0030ff"/><stop offset="0.239" stop-color="#0010ff"/><stop offset="0.284" stop-color="#0000ff"/><stop offset="0.321" stop-color="#0000ff"/><stop offset="0.418" stop-color="#0000f1"/><stop offset="0.470" stop-color="#0000ff"/><stop offset="0.485" stop-color="#0000ff"/><stop offset="0.515" stop-color="#0028ff"/><stop offset="0.537" stop-color="#006cff"/><stop offset="0.582" stop-color="#00d4ff"/><stop offset="0.590" stop-color="#00e4f8"/><stop offset="0.604" stop-color="#19ffde"/><stop offset="0.657" stop-color="#66ff90"/><stop offset="0.709" stop-color="#a0ff56"/><stop offset="0.881" stop-color="#f1fc06"/><stop offset="0.925" stop-color="#ffe600"/><stop offset="1.000" stop-color="#ffc800"/></linearGradient><linearGradient id="h67" x1="0" y1="0" x2="0" y2="1"><stop offset="0.000" stop-color="#0034ff"/><stop offset="0.112" stop-color="#0030ff"/><stop offset="0.239" stop-color="#0014ff"/><stop offset="0.291" stop-color="#0000ff"/><stop offset="0.328" stop-color="#0000ff"/><stop offset="0.425" stop-color="#0000f1"/><stop offset="0.455" stop-color="#0000ff"/><stop offset="0.478" stop-color="#0000ff"/><stop offset="0.515" stop-color="#0038ff"/><stop offset="0.537" stop-color="#0080ff"/><stop offset="0.575" stop-color="#00d0ff"/><stop offset="0.582" stop-color="#00e4f8"/><stop offset="0.597" stop-color="#19ffde"/><stop offset="0.679" stop-color="#83ff73"/><stop offset="0.709" stop-color="#a4ff53"/><stop offset="0.881" stop-color="#f1fc06"/><stop offset="0.925" stop-color="#ffe600"/><stop offset="1.000" stop-color="#ffc800"/></linearGradient><linearGradient id="h68" x1="0" y1="0" x2="0" y2="1"><stop offset="0.000" stop-color="#003cff"/><stop offset="0.097" stop-color="#0038ff"/><stop offset="0.231" stop-color="#001cff"/><stop offset="0.299" stop-color="#0000ff"/><stop offset="0.358" stop-color="#0000ff"/><stop offset="0.425" stop-color="#0000f6"/><stop offset="0.433" stop-color="#0000ff"/><stop offset="0.470" stop-color="#0004ff"/><stop offset="0.485" stop-color="#0014ff"/><stop offset="0.515" stop-color="#0048ff"/><stop offset="0.537" stop-color="#008cff"/><stop offset="0.575" stop-color="#00dcfe"/><stop offset="0.590" stop-color="#13fce4"/><stop offset="0.664" stop-color="#73ff83"/><stop offset="0.709" stop-color="#a4ff53"/><stop offset="0.881" stop-color="#f1fc06"/><stop offset="0.925" stop-color="#ffe600"/><stop offset="1.000" stop-color="#ffc800"/></linearGradient><linearGradient id="h69" x1="0" y1="0" x2="0" y2="1"><stop offset="0.000" stop-color="#004cff"/><stop offset="0.119" stop-color="#0040ff"/><stop offset="0.239" stop-color="#0020ff"/><stop offset="0.321" stop-color="#0000ff"/><stop offset="0.455" stop-color="#0004ff"/><stop offset="0.478" stop-color="#0014ff"/><stop offset="0.515" stop-color="#0054ff"/><stop offset="0.545" stop-color="#00a4ff"/><stop offset="0.575" stop-color="#00e0fb"/><stop offset="0.590" stop-color="#16ffe1"/><stop offset="0.649" stop-color="#63ff94"/><stop offset="0.709" stop-color="#a4ff53"/><stop offset="0.881" stop-color="#f1fc06"/><stop offset="0.925" stop-color="#ffe600"/><stop offset="1.000" stop-color="#ffc800"/></linearGradient><linearGradient id="h70" x1="0" y1="0" x2="0" y2="1"><stop offset="0.000" stop-color="#0058ff"/><stop offset="0.090" stop-color="#0050ff"/><stop offset="0.239" stop-color="#0028ff"/><stop offset="0.336" stop-color="#0000ff"/><stop offset="0.440" stop-color="#0004ff"/><stop offset="0.478" stop-color="#0020ff"/><stop offset="0.522" stop-color="#0074ff"/><stop offset="0.545" stop-color="#00acff"/><stop offset="0.567" stop-color="#00d8ff"/><stop offset="0.582" stop-color="#0cf4eb"/><stop offset="0.590" stop-color="#19ffde"/><stop offset="0.634" stop-color="#53ffa4"/><stop offset="0.709" stop-color="#a0ff56"/><stop offset="0.881" stop-color="#f1fc06"/><stop offset="0.925" stop-color="#ffea00"/><stop offset="1.000" stop-color="#ffc800"/></linearGradient><linearGradient id="h71" x1="0" y1="0" x2="0" y2="1"><stop offset="0.000" stop-color="#0068ff"/><stop offset="0.142" stop-color="#0050ff"/><stop offset="0.261" stop-color="#0028ff"/><stop offset="0.336" stop-color="#0004ff"/><stop offset="0.433" stop-color="#0004ff"/><stop offset="0.478" stop-color="#002cff"/><stop offset="0.522" stop-color="#0080ff"/><stop offset="0.560" stop-color="#00d0ff"/><stop offset="0.567" stop-color="#00dcfe"/><stop offset="0.582" stop-color="#0ff8e7"/><stop offset="0.597" stop-color="#26ffd1"/><stop offset="0.642" stop-color="#5dff9a"/><stop offset="0.709" stop-color="#a0ff56"/><stop offset="0.881" stop-color="#eeff09"/><stop offset="0.896" stop-color="#f8f500"/><stop offset="0.963" stop-color="#ffd700"/><stop offset="1.000" stop-color="#ffc800"/></linearGradient><linearGradient id="h72" x1="0" y1="0" x2="0" y2="1"><stop offset="0.000" stop-color="#0074ff"/><stop offset="0.097" stop-color="#0064ff"/><stop offset="0.246" stop-color="#0038ff"/><stop offset="0.336" stop-color="#000cff"/><stop offset="0.418" stop-color="#0004ff"/><stop offset="0.448" stop-color="#001cff"/><stop offset="0.478" stop-color="#0038ff"/><stop offset="0.560" stop-color="#00d4ff"/><stop offset="0.567" stop-color="#00e4f8"/><stop offset="0.582" stop-color="#13fce4"/><stop offset="0.627" stop-color="#4dffaa"/><stop offset="0.709" stop-color="#9dff5a"/><stop offset="0.888" stop-color="#f1fc06"/><stop offset="0.910" stop-color="#fbf100"/><stop offset="1.000" stop-color="#ffc800"/></linearGradient><linearGradient id="h73" x1="0" y1="0" x2="0" y2="1"><stop offset="0.000" stop-color="#0080ff"/><stop offset="0.097" stop-color="#0070ff"/><stop offset="0.246" stop-color="#0040ff"/><stop offset="0.336" stop-color="#0014ff"/><stop offset="0.425" stop-color="#000cff"/><stop offset="0.478" stop-color="#0044ff"/><stop offset="0.560" stop-color="#00dcfe"/><stop offset="0.575" stop-color="#0cf4eb"/><stop offset="0.582" stop-color="#16ffe1"/><stop offset="0.627" stop-color="#50ffa7"/><stop offset="0.709" stop-color="#9dff5a"/><stop offset="0.888" stop-color="#f1fc06"/><stop offset="0.933" stop-color="#ffe600"/><stop offset="1.000" stop-color="#ffc800"/></linearGradient><linearGradient id="h74" x1="0" y1="0" x2="0" y2="1"><stop offset="0.000" stop-color="#008cff"/><stop offset="0.090" stop-color="#007cff"/><stop offset="0.239" stop-color="#004cff"/><stop offset="0.343" stop-color="#001cff"/><stop offset="0.425" stop-color="#0018ff"/><stop offset="0.485" stop-color="#0060ff"/><stop offset="0.530" stop-color="#00b0ff"/><stop offset="0.552" stop-color="#00d8ff"/><stop offset="0.560" stop-color="#00e4f8"/><stop offset="0.575" stop-color="#13fce4"/><stop offset="0.619" stop-color="#49ffad"/><stop offset="0.716" stop-color="#a0ff56"/><stop offset="0.888" stop-color="#f1fc06"/><stop offset="0.933" stop-color="#ffe600"/><stop offset="1.000" stop-color="#ffc800"/></linearGradient><linearGradient id="h75" x1="0" y1="0" x2="0" y2="1"><stop offset="0.000" stop-color="#0094ff"/><stop offset="0.097" stop-color="#0084ff"/><stop offset="0.239" stop-color="#0058ff"/><stop offset="0.336" stop-color="#002cff"/><stop offset="0.425" stop-color="#002cff"/><stop offset="0.478" stop-color="#0064ff"/><stop offset="0.515" stop-color="#00a8ff"/><stop offset="0.552" stop-color="#00e0fb"/><stop offset="0.575" stop-color="#16ffe1"/><stop offset="0.619" stop-color="#4dffaa"/><stop offset="0.716" stop-color="#9dff5a"/><stop offset="0.888" stop-color="#f1fc06"/><stop offset="0.933" stop-color="#ffe600"/><stop offset="1.000" stop-color="#ffc800"/></linearGradient><linearGradient id="h76" x1="0" y1="0" x2="0" y2="1"><stop offset="0.000" stop-color="#00a0ff"/><stop offset="0.119" stop-color="#0088ff"/><stop offset="0.239" stop-color="#0064ff"/><stop offset="0.336" stop-color="#003cff"/><stop offset="0.425" stop-color="#003cff"/><stop offset="0.478" stop-color="#0078ff"/><stop offset="0.537" stop-color="#00d4ff"/><stop offset="0.545" stop-color="#00dcfe"/><stop offset="0.560" stop-color="#0cf4eb"/><stop offset="0.575" stop-color="#1cffdb"/><stop offset="0.619" stop-color="#4dffaa"/><stop offset="0.716" stop-color="#9dff5a"/><stop offset="0.888" stop-color="#f1fc06"/><stop offset="0.933" stop-color="#ffe600"/><stop offset="1.000" stop-color="#ffc800"/></linearGradient><linearGradient id="h77" x1="0" y1="0" x2="0" y2="1"><stop offset="0.000" stop-color="#00a8ff"/><stop offset="0.112" stop-color="#0094ff"/><stop offset="0.239" stop-color="#0070ff"/><stop offset="0.328" stop-color="#004cff"/><stop offset="0.425" stop-color="#0050ff"/><stop offset="0.485" stop-color="#0094ff"/><stop offset="0.537" stop-color="#00e0fb"/><stop offset="0.552" stop-color="#09f0ee"/><stop offset="0.560" stop-color="#13fce4"/><stop offset="0.634" stop-color="#5dff9a"/><stop offset="0.716" stop-color="#9dff5a"/><stop offset="0.888" stop-color="#f1fc06"/><stop offset="0.933" stop-color="#ffe600"/><stop offset="1.000" stop-color="#ffc800"/></linearGradient><linearGradient id="h78" x1="0" y1="0" x2="0" y2="1"><stop offset="0.000" stop-color="#00b0ff"/><stop offset="0.142" stop-color="#0098ff"/><stop offset="0.261" stop-color="#0074ff"/><stop offset="0.336" stop-color="#0058ff"/><stop offset="0.425" stop-color="#0060ff"/><stop offset="0.485" stop-color="#00a4ff"/><stop offset="0.530" stop-color="#00e0fb"/><stop offset="0.545" stop-color="#09f0ee"/><stop offset="0.552" stop-color="#13fce4"/><stop offset="0.619" stop-color="#53ffa4"/><stop offset="0.716" stop-color="#9aff5d"/><stop offset="0.851" stop-color="#deff19"/><stop offset="0.888" stop-color="#f1fc06"/><stop offset="0.933" stop-color="#ffe600"/><stop offset="1.000" stop-color="#ffc800"/></linearGradient><linearGradient id="h79" x1="0" y1="0" x2="0" y2="1"><stop offset="0.000" stop-color="#00b8ff"/><stop offset="0.075" stop-color="#00b0ff"/><stop offset="0.239" stop-color="#0088ff"/><stop offset="0.336" stop-color="#0068ff"/><stop offset="0.425" stop-color="#0070ff"/><stop offset="0.515" stop-color="#00dcfe"/><stop offset="0.537" stop-color="#0cf4eb"/><stop offset="0.552" stop-color="#19ffde"/><stop offset="0.634" stop-color="#60ff97"/><stop offset="0.716" stop-color="#9aff5d"/><stop offset="0.888" stop-color="#f1fc06"/><stop offset="0.933" stop-color="#ffe600"/><stop offset="1.000" stop-color="#ffc800"/></linearGradient><linearGradient id="h80" x1="0" y1="0" x2="0" y2="1"><stop offset="0.000" stop-color="#00c0ff"/><stop offset="0.082" stop-color="#00b8ff"/><stop offset="0.239" stop-color="#0094ff"/><stop offset="0.328" stop-color="#0078ff"/><stop offset="0.418" stop-color="#0080ff"/><stop offset="0.507" stop-color="#00e0fb"/><stop offset="0.537" stop-color="#16ffe1"/><stop offset="0.664" stop-color="#77ff80"/><stop offset="0.739" stop-color="#a4ff53"/><stop offset="0.888" stop-color="#f1fc06"/><stop offset="0.933" stop-color="#ffe600"/><stop offset="1.000" stop-color="#ffc800"/></linearGradient><linearGradient id="h81" x1="0" y1="0" x2="0" y2="1"><stop offset="0.000" stop-color="#00c8ff"/><stop offset="0.157" stop-color="#00b2ff"/><stop offset="0.328" stop-color="#0084ff"/><stop offset="0.418" stop-color="#0090ff"/><stop offset="0.493" stop-color="#00dafe"/><stop offset="0.515" stop-color="#0af2ec"/><stop offset="0.530" stop-color="#16ffe1"/><stop offset="0.709" stop-color="#94ff63"/><stop offset="0.881" stop-color="#ebff0c"/><stop offset="0.910" stop-color="#fbf100"/><stop offset="1.000" stop-color="#ffc800"/></linearGradient><linearGradient id="h82" x1="0" y1="0" x2="0" y2="1"><stop offset="0.000" stop-color="#00c8ff"/><stop offset="0.127" stop-color="#00beff"/><stop offset="0.284" stop-color="#00a0ff"/><stop offset="0.336" stop-color="#0094ff"/><stop offset="0.425" stop-color="#00a2ff"/><stop offset="0.493" stop-color="#00e2fa"/><stop offset="0.522" stop-color="#14fee2"/><stop offset="0.709" stop-color="#94ff63"/><stop offset="0.896" stop-color="#f1fc06"/><stop offset="0.925" stop-color="#ffea00"/><stop offset="1.000" stop-color="#ffc800"/></linearGradient><linearGradient id="h83" x1="0" y1="0" x2="0" y2="1"><stop offset="0.000" stop-color="#00ccff"/><stop offset="0.187" stop-color="#00beff"/><stop offset="0.343" stop-color="#00a4ff"/><stop offset="0.425" stop-color="#00b0ff"/><stop offset="0.478" stop-color="#00defc"/><stop offset="0.500" stop-color="#0af2ec"/><stop offset="0.522" stop-color="#1affdc"/><stop offset="0.731" stop-color="#a0ff56"/><stop offset="0.896" stop-color="#f1fc06"/><stop offset="0.940" stop-color="#ffe200"/><stop offset="1.000" stop-color="#ffc800"/></linearGradient><linearGradient id="h84" x1="0" y1="0" x2="0" y2="1"><stop offset="0.000" stop-color="#00ccff"/><stop offset="0.134" stop-color="#00c8ff"/><stop offset="0.284" stop-color="#00baff"/><stop offset="0.351" stop-color="#00b4ff"/><stop offset="0.425" stop-color="#00c0ff"/><stop offset="0.470" stop-color="#00e2fa"/><stop offset="0.507" stop-color="#14fee2"/><stop offset="0.731" stop-color="#a0ff56"/><stop offset="0.896" stop-color="#f1fc06"/><stop offset="0.940" stop-color="#ffe400"/><stop offset="1.000" stop-color="#ffc800"/></linearGradient><linearGradient id="h85" x1="0" y1="0" x2="0" y2="1"><stop offset="0.000" stop-color="#00d0ff"/><stop offset="0.261" stop-color="#00caff"/><stop offset="0.358" stop-color="#00c4ff"/><stop offset="0.425" stop-color="#00ceff"/><stop offset="0.463" stop-color="#03e8f4"/><stop offset="0.500" stop-color="#18ffe0"/><stop offset="0.739" stop-color="#a4ff53"/><stop offset="0.896" stop-color="#f1fc06"/><stop offset="0.940" stop-color="#ffe600"/><stop offset="1.000" stop-color="#ffc800"/></linearGradient><linearGradient id="h86" x1="0" y1="0" x2="0" y2="1"><stop offset="0.000" stop-color="#00d2ff"/><stop offset="0.269" stop-color="#00d6ff"/><stop offset="0.336" stop-color="#00d2ff"/><stop offset="0.433" stop-color="#00e0fb"/><stop offset="0.485" stop-color="#18ffe0"/><stop offset="0.582" stop-color="#4bffac"/><stop offset="0.754" stop-color="#aaff4d"/><stop offset="0.896" stop-color="#f1fc06"/><stop offset="0.940" stop-color="#ffe600"/><stop offset="1.000" stop-color="#ffc800"/></linearGradient><linearGradient id="h87" x1="0" y1="0" x2="0" y2="1"><stop offset="0.000" stop-color="#00d4ff"/><stop offset="0.276" stop-color="#00e2fa"/><stop offset="0.373" stop-color="#01e4f8"/><stop offset="0.433" stop-color="#09f0ee"/><stop offset="0.478" stop-color="#1affdc"/><stop offset="0.590" stop-color="#52ffa6"/><stop offset="0.799" stop-color="#c1ff36"/><stop offset="0.896" stop-color="#f1fc06"/><stop offset="0.940" stop-color="#ffe600"/><stop offset="1.000" stop-color="#ffc800"/></linearGradient><linearGradient id="h88" x1="0" y1="0" x2="0" y2="1"><stop offset="0.000" stop-color="#00d6ff"/><stop offset="0.187" stop-color="#03e8f4"/><stop offset="0.336" stop-color="#09f0ee"/><stop offset="0.425" stop-color="#12fce4"/><stop offset="0.530" stop-color="#36ffc1"/><stop offset="0.858" stop-color="#deff19"/><stop offset="0.896" stop-color="#f1fc06"/><stop offset="0.940" stop-color="#ffe600"/><stop offset="1.000" stop-color="#ffc800"/></linearGradient><linearGradient id="h89" x1="0" y1="0" x2="0" y2="1"><stop offset="0.000" stop-color="#00d8ff"/><stop offset="0.157" stop-color="#04eaf2"/><stop offset="0.261" stop-color="#11fae6"/><stop offset="0.440" stop-color="#21ffd6"/><stop offset="0.530" stop-color="#3affbc"/><stop offset="0.694" stop-color="#8dff6a"/><stop offset="0.896" stop-color="#f0fe08"/><stop offset="0.925" stop-color="#feed00"/><stop offset="1.000" stop-color="#ffc800"/></linearGradient><linearGradient id="h90" x1="0" y1="0" x2="0" y2="1"><stop offset="0.000" stop-color="#00dafe"/><stop offset="0.104" stop-color="#04eaf2"/><stop offset="0.194" stop-color="#11fae6"/><stop offset="0.343" stop-color="#21ffd6"/><stop offset="0.440" stop-color="#2affcc"/><stop offset="0.530" stop-color="#40ffb7"/><stop offset="0.679" stop-color="#85ff72"/><stop offset="0.903" stop-color="#f1fc06"/><stop offset="0.925" stop-color="#feed00"/><stop offset="1.000" stop-color="#ffc800"/></linearGradient><linearGradient id="h91" x1="0" y1="0" x2="0" y2="1"><stop offset="0.000" stop-color="#03e8f4"/><stop offset="0.209" stop-color="#1affdc"/><stop offset="0.440" stop-color="#30ffc7"/><stop offset="0.522" stop-color="#40ffb7"/><stop offset="0.657" stop-color="#7aff7d"/><stop offset="0.903" stop-color="#f1fc06"/><stop offset="0.925" stop-color="#feed00"/><stop offset="1.000" stop-color="#ffc800"/></linearGradient><linearGradient id="h92" x1="0" y1="0" x2="0" y2="1"><stop offset="0.000" stop-color="#0ef6e9"/><stop offset="0.164" stop-color="#1affdc"/><stop offset="0.313" stop-color="#28ffd0"/><stop offset="0.455" stop-color="#36ffc1"/><stop offset="0.530" stop-color="#46ffb1"/><stop offset="0.687" stop-color="#8aff6d"/><stop offset="0.903" stop-color="#f1fc06"/><stop offset="0.925" stop-color="#feed00"/><stop offset="1.000" stop-color="#ffc800"/></linearGradient><linearGradient id="h93" x1="0" y1="0" x2="0" y2="1"><stop offset="0.000" stop-color="#19ffde"/><stop offset="0.440" stop-color="#36ffc1"/><stop offset="0.545" stop-color="#4effa8"/><stop offset="0.672" stop-color="#83ff73"/><stop offset="0.903" stop-color="#f1fc06"/><stop offset="0.925" stop-color="#feed00"/><stop offset="1.000" stop-color="#ffc800"/></linearGradient><linearGradient id="h94" x1="0" y1="0" x2="0" y2="1"><stop offset="0.000" stop-color="#24ffd2"/><stop offset="0.209" stop-color="#2affcc"/><stop offset="0.448" stop-color="#3affbc"/><stop offset="0.560" stop-color="#56ffa0"/><stop offset="0.657" stop-color="#7eff78"/><stop offset="0.903" stop-color="#f1fc06"/><stop offset="0.925" stop-color="#feed00"/><stop offset="1.000" stop-color="#ffc800"/></linearGradient><linearGradient id="h95" x1="0" y1="0" x2="0" y2="1"><stop offset="0.000" stop-color="#30ffc7"/><stop offset="0.276" stop-color="#33ffc4"/><stop offset="0.433" stop-color="#3cffba"/><stop offset="0.545" stop-color="#54ffa2"/><stop offset="0.657" stop-color="#80ff77"/><stop offset="0.903" stop-color="#f1fc06"/><stop offset="0.925" stop-color="#feed00"/><stop offset="1.000" stop-color="#ffc800"/></linearGradient><linearGradient id="h96" x1="0" y1="0" x2="0" y2="1"><stop offset="0.000" stop-color="#3affbc"/><stop offset="0.358" stop-color="#39ffbe"/><stop offset="0.515" stop-color="#4effa8"/><stop offset="0.649" stop-color="#7dff7a"/><stop offset="0.903" stop-color="#f1fc06"/><stop offset="0.925" stop-color="#feed00"/><stop offset="1.000" stop-color="#ffc800"/></linearGradient><linearGradient id="h97" x1="0" y1="0" x2="0" y2="1"><stop offset="0.000" stop-color="#46ffb0"/><stop offset="0.313" stop-color="#3cffba"/><stop offset="0.448" stop-color="#46ffb1"/><stop offset="0.552" stop-color="#5dff9a"/><stop offset="0.627" stop-color="#77ff80"/><stop offset="0.903" stop-color="#f1fc06"/><stop offset="0.925" stop-color="#feed00"/><stop offset="1.000" stop-color="#ffc800"/></linearGradient><linearGradient id="h98" x1="0" y1="0" x2="0" y2="1"><stop offset="0.000" stop-color="#52ffa6"/><stop offset="0.239" stop-color="#42ffb6"/><stop offset="0.433" stop-color="#46ffb1"/><stop offset="0.552" stop-color="#60ff97"/><stop offset="0.649" stop-color="#80ff77"/><stop offset="0.903" stop-color="#f1fc06"/><stop offset="0.925" stop-color="#feed00"/><stop offset="1.000" stop-color="#ffc800"/></linearGradient><linearGradient id="h99" x1="0" y1="0" x2="0" y2="1"><stop offset="0.000" stop-color="#5dff9a"/><stop offset="0.239" stop-color="#48ffaf"/><stop offset="0.425" stop-color="#48ffaf"/><stop offset="0.582" stop-color="#6aff8d"/><stop offset="0.903" stop-color="#f1fc06"/><stop offset="0.925" stop-color="#feed00"/><stop offset="1.000" stop-color="#ffc800"/></linearGradient><linearGradient id="h100" x1="0" y1="0" x2="0" y2="1"><stop offset="0.000" stop-color="#64ff92"/><stop offset="0.276" stop-color="#4bffab"/><stop offset="0.440" stop-color="#50ffa7"/><stop offset="0.619" stop-color="#77ff80"/><stop offset="0.903" stop-color="#f1fc06"/><stop offset="0.925" stop-color="#feed00"/><stop offset="1.000" stop-color="#ffc800"/></linearGradient><linearGradient id="h101" x1="0" y1="0" x2="0" y2="1"><stop offset="0.000" stop-color="#69ff8e"/><stop offset="0.284" stop-color="#52ffa5"/><stop offset="0.440" stop-color="#56ffa0"/><stop offset="0.612" stop-color="#77ff80"/><stop offset="0.903" stop-color="#f1fc06"/><stop offset="0.925" stop-color="#feed00"/><stop offset="1.000" stop-color="#ffc800"/></linearGradient><linearGradient id="h102" x1="0" y1="0" x2="0" y2="1"><stop offset="0.000" stop-color="#6eff89"/><stop offset="0.269" stop-color="#59ff9e"/><stop offset="0.455" stop-color="#5fff98"/><stop offset="0.634" stop-color="#80ff77"/><stop offset="0.903" stop-color="#f1fc06"/><stop offset="0.925" stop-color="#feed00"/><stop offset="1.000" stop-color="#ffc800"/></linearGradient><linearGradient id="h103" x1="0" y1="0" x2="0" y2="1"><stop offset="0.000" stop-color="#72ff84"/><stop offset="0.269" stop-color="#60ff96"/><stop offset="0.455" stop-color="#65ff92"/><stop offset="0.627" stop-color="#80ff77"/><stop offset="0.806" stop-color="#c7ff30"/><stop offset="0.903" stop-color="#f1fc06"/><stop offset="0.925" stop-color="#feed00"/><stop offset="1.000" stop-color="#ffc800"/></linearGradient><linearGradient id="h104" x1="0" y1="0" x2="0" y2="1"><stop offset="0.000" stop-color="#78ff7f"/><stop offset="0.246" stop-color="#68ff8e"/><stop offset="0.463" stop-color="#6cff8b"/><stop offset="0.627" stop-color="#82ff75"/><stop offset="0.761" stop-color="#b4ff43"/><stop offset="0.903" stop-color="#f1fc06"/><stop offset="0.925" stop-color="#feed00"/><stop offset="1.000" stop-color="#ffc800"/></linearGradient><linearGradient id="h105" x1="0" y1="0" x2="0" y2="1"><stop offset="0.000" stop-color="#7cff7b"/><stop offset="0.239" stop-color="#6fff88"/><stop offset="0.478" stop-color="#73ff83"/><stop offset="0.627" stop-color="#83ff73"/><stop offset="0.739" stop-color="#aaff4d"/><stop offset="0.903" stop-color="#f1fc06"/><stop offset="0.925" stop-color="#feed00"/><stop offset="1.000" stop-color="#ffc800"/></linearGradient><linearGradient id="h106" x1="0" y1="0" x2="0" y2="1"><stop offset="0.000" stop-color="#80ff77"/><stop offset="0.239" stop-color="#76ff80"/><stop offset="0.522" stop-color="#7cff7b"/><stop offset="0.634" stop-color="#88ff6f"/><stop offset="0.739" stop-color="#aaff4d"/><stop offset="0.903" stop-color="#f1fc06"/><stop offset="0.925" stop-color="#feed00"/><stop offset="1.000" stop-color="#ffc800"/></linearGradient><linearGradient id="h107" x1="0" y1="0" x2="0" y2="1"><stop offset="0.000" stop-color="#83ff73"/><stop offset="0.440" stop-color="#7dff7a"/><stop offset="0.619" stop-color="#84ff72"/><stop offset="0.731" stop-color="#a5ff52"/><stop offset="0.903" stop-color="#f1fc06"/><stop offset="0.940" stop-color="#ffe600"/><stop offset="1.000" stop-color="#ffc800"/></linearGradient><linearGradient id="h108" x1="0" y1="0" x2="0" y2="1"><stop offset="0.000" stop-color="#87ff70"/><stop offset="0.515" stop-color="#7eff79"/><stop offset="0.619" stop-color="#81ff76"/><stop offset="0.739" stop-color="#a5ff52"/><stop offset="0.910" stop-color="#f1fb05"/><stop offset="0.940" stop-color="#ffea00"/><stop offset="0.993" stop-color="#ffc800"/><stop offset="1.000" stop-color="#ffc800"/></linearGradient><linearGradient id="h109" x1="0" y1="0" x2="0" y2="1"><stop offset="0.000" stop-color="#87ff70"/><stop offset="0.299" stop-color="#8bff6c"/><stop offset="0.597" stop-color="#7bff7c"/><stop offset="0.731" stop-color="#9eff58"/><stop offset="0.910" stop-color="#eeff09"/><stop offset="0.933" stop-color="#fbf000"/><stop offset="0.993" stop-color="#ffc800"/><stop offset="1.000" stop-color="#ffc800"/></linearGradient><linearGradient id="h110" x1="0" y1="0" x2="0" y2="1"><stop offset="0.000" stop-color="#8aff6e"/><stop offset="0.254" stop-color="#94ff62"/><stop offset="0.463" stop-color="#84ff72"/><stop offset="0.582" stop-color="#78ff80"/><stop offset="0.694" stop-color="#8eff69"/><stop offset="0.903" stop-color="#e6ff10"/><stop offset="0.933" stop-color="#faf300"/><stop offset="0.993" stop-color="#ffc800"/><stop offset="1.000" stop-color="#ffc800"/></linearGradient><linearGradient id="h111" x1="0" y1="0" x2="0" y2="1"><stop offset="0.000" stop-color="#8aff6d"/><stop offset="0.201" stop-color="#9bff5c"/><stop offset="0.440" stop-color="#8bff6c"/><stop offset="0.575" stop-color="#73ff83"/><stop offset="0.672" stop-color="#86ff71"/><stop offset="0.761" stop-color="#a5ff52"/><stop offset="0.910" stop-color="#e8ff0e"/><stop offset="0.940" stop-color="#fcf000"/><stop offset="0.993" stop-color="#ffc800"/><stop offset="1.000" stop-color="#ffc800"/></linearGradient><linearGradient id="h112" x1="0" y1="0" x2="0" y2="1"><stop offset="0.000" stop-color="#8bff6c"/><stop offset="0.187" stop-color="#a3ff54"/><stop offset="0.396" stop-color="#97ff60"/><stop offset="0.560" stop-color="#74ff83"/><stop offset="0.642" stop-color="#7dff7a"/><stop offset="0.746" stop-color="#9cff5c"/><stop offset="0.903" stop-color="#e1ff16"/><stop offset="0.925" stop-color="#effe08"/><stop offset="0.955" stop-color="#ffe600"/><stop offset="0.993" stop-color="#ffc800"/><stop offset="1.000" stop-color="#ffc800"/></linearGradient><linearGradient id="h113" x1="0" y1="0" x2="0" y2="1"><stop offset="0.000" stop-color="#8aff6d"/><stop offset="0.172" stop-color="#a0ff56"/><stop offset="0.321" stop-color="#a0ff56"/><stop offset="0.463" stop-color="#91ff65"/><stop offset="0.582" stop-color="#7cff7b"/><stop offset="0.716" stop-color="#93ff64"/><stop offset="0.896" stop-color="#dbff1c"/><stop offset="0.925" stop-color="#eeff09"/><stop offset="0.940" stop-color="#fbf100"/><stop offset="0.993" stop-color="#ffc800"/><stop offset="1.000" stop-color="#ffc800"/></linearGradient><linearGradient id="h114" x1="0" y1="0" x2="0" y2="1"><stop offset="0.000" stop-color="#8aff6d"/><stop offset="0.172" stop-color="#a0ff56"/><stop offset="0.343" stop-color="#a0ff56"/><stop offset="0.478" stop-color="#92ff65"/><stop offset="0.590" stop-color="#84ff73"/><stop offset="0.724" stop-color="#97ff60"/><stop offset="0.896" stop-color="#dbff1c"/><stop offset="0.925" stop-color="#eeff09"/><stop offset="0.940" stop-color="#fbf100"/><stop offset="0.993" stop-color="#ffc800"/><stop offset="1.000" stop-color="#ffc800"/></linearGradient><linearGradient id="h115" x1="0" y1="0" x2="0" y2="1"><stop offset="0.000" stop-color="#88ff6f"/><stop offset="0.172" stop-color="#a0ff56"/><stop offset="0.381" stop-color="#a0ff56"/><stop offset="0.597" stop-color="#8bff6c"/><stop offset="0.716" stop-color="#97ff60"/><stop offset="0.896" stop-color="#dbff1c"/><stop offset="0.925" stop-color="#eeff09"/><stop offset="0.940" stop-color="#fbf100"/><stop offset="0.993" stop-color="#ffc800"/><stop offset="1.000" stop-color="#ffc800"/></linearGradient><linearGradient id="h116" x1="0" y1="0" x2="0" y2="1"><stop offset="0.000" stop-color="#87ff70"/><stop offset="0.172" stop-color="#a0ff56"/><stop offset="0.425" stop-color="#a0ff56"/><stop offset="0.597" stop-color="#92ff65"/><stop offset="0.724" stop-color="#9bff5c"/><stop offset="0.896" stop-color="#dbff1c"/><stop offset="0.925" stop-color="#eeff09"/><stop offset="0.940" stop-color="#fbf100"/><stop offset="0.993" stop-color="#ffc800"/><stop offset="1.000" stop-color="#ffc800"/></linearGradient><linearGradient id="h117" x1="0" y1="0" x2="0" y2="1"><stop offset="0.000" stop-color="#86ff70"/><stop offset="0.179" stop-color="#a0ff56"/><stop offset="0.388" stop-color="#a5ff52"/><stop offset="0.657" stop-color="#98ff5e"/><stop offset="0.724" stop-color="#9dff5a"/><stop offset="0.896" stop-color="#dbff1c"/><stop offset="0.925" stop-color="#eeff09"/><stop offset="0.940" stop-color="#fbf100"/><stop offset="0.993" stop-color="#ffc800"/><stop offset="1.000" stop-color="#ffc800"/></linearGradient><linearGradient id="h118" x1="0" y1="0" x2="0" y2="1"><stop offset="0.000" stop-color="#83ff73"/><stop offset="0.149" stop-color="#9dff5a"/><stop offset="0.336" stop-color="#a7ff50"/><stop offset="0.664" stop-color="#9dff5a"/><stop offset="0.716" stop-color="#9dff5a"/><stop offset="0.896" stop-color="#dbff1c"/><stop offset="0.925" stop-color="#eeff09"/><stop offset="0.940" stop-color="#fbf100"/><stop offset="0.993" stop-color="#ffc800"/><stop offset="1.000" stop-color="#ffc800"/></linearGradient><linearGradient id="h119" x1="0" y1="0" x2="0" y2="1"><stop offset="0.000" stop-color="#82ff75"/><stop offset="0.157" stop-color="#9dff5a"/><stop offset="0.313" stop-color="#a7ff50"/><stop offset="0.612" stop-color="#a6ff51"/><stop offset="0.716" stop-color="#a0ff56"/><stop offset="0.896" stop-color="#dcff1b"/><stop offset="0.925" stop-color="#f0fd07"/><stop offset="0.955" stop-color="#ffe600"/><stop offset="0.993" stop-color="#ffc800"/><stop offset="1.000" stop-color="#ffc800"/></linearGradient><linearGradient id="h120" x1="0" y1="0" x2="0" y2="1"><stop offset="0.000" stop-color="#7dff7a"/><stop offset="0.149" stop-color="#9dff5a"/><stop offset="0.373" stop-color="#aaff4d"/><stop offset="0.597" stop-color="#a8ff4e"/><stop offset="0.716" stop-color="#a5ff52"/><stop offset="0.888" stop-color="#dbff1c"/><stop offset="0.925" stop-color="#f1fc06"/><stop offset="0.948" stop-color="#ffea00"/><stop offset="0.993" stop-color="#ffc800"/><stop offset="1.000" stop-color="#ffc800"/></linearGradient><linearGradient id="h121" x1="0" y1="0" x2="0" y2="1"><stop offset="0.000" stop-color="#66ff90"/><stop offset="0.045" stop-color="#7aff7d"/><stop offset="0.075" stop-color="#8dff6a"/><stop offset="0.179" stop-color="#a0ff56"/><stop offset="0.500" stop-color="#adff49"/><stop offset="0.724" stop-color="#aaff4d"/><stop offset="0.881" stop-color="#dbff1c"/><stop offset="0.918" stop-color="#eeff09"/><stop offset="0.933" stop-color="#f8f500"/><stop offset="0.955" stop-color="#ffe600"/><stop offset="0.993" stop-color="#ffc800"/><stop offset="1.000" stop-color="#ffc800"/></linearGradient><linearGradient id="h122" x1="0" y1="0" x2="0" y2="1"><stop offset="0.000" stop-color="#3cffba"/><stop offset="0.037" stop-color="#4dffaa"/><stop offset="0.067" stop-color="#87ff70"/><stop offset="0.149" stop-color="#9dff5a"/><stop offset="0.373" stop-color="#aaff4d"/><stop offset="0.731" stop-color="#b1ff46"/><stop offset="0.858" stop-color="#d7ff1f"/><stop offset="0.918" stop-color="#f1fc06"/><stop offset="0.948" stop-color="#ffea00"/><stop offset="0.993" stop-color="#ffc800"/><stop offset="1.000" stop-color="#ffc800"/></linearGradient><linearGradient id="h123" x1="0" y1="0" x2="0" y2="1"><stop offset="0.000" stop-color="#16ffe1"/><stop offset="0.037" stop-color="#26ffd1"/><stop offset="0.067" stop-color="#83ff73"/><stop offset="0.149" stop-color="#9dff5a"/><stop offset="0.373" stop-color="#aaff4d"/><stop offset="0.664" stop-color="#b1ff46"/><stop offset="0.731" stop-color="#b7ff40"/><stop offset="0.851" stop-color="#d7ff1f"/><stop offset="0.910" stop-color="#eeff09"/><stop offset="0.925" stop-color="#f8f500"/><stop offset="0.970" stop-color="#ffd700"/><stop offset="1.000" stop-color="#ffc800"/></linearGradient><linearGradient id="h124" x1="0" y1="0" x2="0" y2="1"><stop offset="0.000" stop-color="#00ccff"/><stop offset="0.015" stop-color="#00d0ff"/><stop offset="0.037" stop-color="#02e8f4"/><stop offset="0.045" stop-color="#1fffd7"/><stop offset="0.067" stop-color="#7dff7a"/><stop offset="0.149" stop-color="#9dff5a"/><stop offset="0.373" stop-color="#aaff4d"/><stop offset="0.716" stop-color="#b7ff40"/><stop offset="0.858" stop-color="#deff19"/><stop offset="0.910" stop-color="#f1fc06"/><stop offset="0.940" stop-color="#ffea00"/><stop offset="1.000" stop-color="#ffc800"/></linearGradient><linearGradient id="h125" x1="0" y1="0" x2="0" y2="1"><stop offset="0.000" stop-color="#00bcff"/><stop offset="0.015" stop-color="#00c4ff"/><stop offset="0.037" stop-color="#00dcfe"/><stop offset="0.045" stop-color="#16ffe1"/><stop offset="0.067" stop-color="#77ff80"/><stop offset="0.149" stop-color="#9aff5d"/><stop offset="0.306" stop-color="#a7ff50"/><stop offset="0.724" stop-color="#beff39"/><stop offset="0.881" stop-color="#e7ff0f"/><stop offset="0.903" stop-color="#eeff09"/><stop offset="0.918" stop-color="#f8f500"/><stop offset="0.963" stop-color="#ffdb00"/><stop offset="1.000" stop-color="#ffc800"/></linearGradient><linearGradient id="h126" x1="0" y1="0" x2="0" y2="1"><stop offset="0.000" stop-color="#00d0ff"/><stop offset="0.015" stop-color="#00d8ff"/><stop offset="0.037" stop-color="#09f0ee"/><stop offset="0.045" stop-color="#23ffd4"/><stop offset="0.067" stop-color="#70ff87"/><stop offset="0.149" stop-color="#94ff63"/><stop offset="0.291" stop-color="#a4ff53"/><stop offset="0.634" stop-color="#baff3c"/><stop offset="0.739" stop-color="#c4ff33"/><stop offset="0.896" stop-color="#eeff09"/><stop offset="0.933" stop-color="#feed00"/><stop offset="1.000" stop-color="#ffc800"/></linearGradient><linearGradient id="h127" x1="0" y1="0" x2="0" y2="1"><stop offset="0.000" stop-color="#00e4f8"/><stop offset="0.015" stop-color="#06ecf1"/><stop offset="0.037" stop-color="#19ffde"/><stop offset="0.067" stop-color="#6aff8d"/><stop offset="0.157" stop-color="#90ff66"/><stop offset="0.366" stop-color="#aaff4d"/><stop offset="0.627" stop-color="#beff39"/><stop offset="0.731" stop-color="#c7ff30"/><stop offset="0.836" stop-color="#deff19"/><stop offset="0.903" stop-color="#f1fc06"/><stop offset="0.940" stop-color="#ffe600"/><stop offset="1.000" stop-color="#ffc800"/></linearGradient><linearGradient id="h128" x1="0" y1="0" x2="0" y2="1"><stop offset="0.000" stop-color="#0ff8e7"/><stop offset="0.015" stop-color="#16ffe1"/><stop offset="0.037" stop-color="#29ffce"/><stop offset="0.067" stop-color="#60ff97"/><stop offset="0.142" stop-color="#87ff70"/><stop offset="0.291" stop-color="#a0ff56"/><stop offset="0.575" stop-color="#beff39"/><stop offset="0.731" stop-color="#caff2c"/><stop offset="0.851" stop-color="#e4ff13"/><stop offset="0.896" stop-color="#f1fc06"/><stop offset="0.940" stop-color="#ffe600"/><stop offset="1.000" stop-color="#ffc800"/></linearGradient><linearGradient id="h129" x1="0" y1="0" x2="0" y2="1"><stop offset="0.000" stop-color="#1fffd7"/><stop offset="0.015" stop-color="#26ffd1"/><stop offset="0.075" stop-color="#5dff9a"/><stop offset="0.142" stop-color="#80ff77"/><stop offset="0.276" stop-color="#9dff5a"/><stop offset="0.567" stop-color="#c1ff36"/><stop offset="0.731" stop-color="#ceff29"/><stop offset="0.821" stop-color="#deff19"/><stop offset="0.896" stop-color="#f1fc06"/><stop offset="0.940" stop-color="#ffe600"/><stop offset="1.000" stop-color="#ffcc00"/></linearGradient><linearGradient id="h130" x1="0" y1="0" x2="0" y2="1"><stop offset="0.000" stop-color="#1fffd7"/><stop offset="0.015" stop-color="#26ffd1"/><stop offset="0.082" stop-color="#56ffa0"/><stop offset="0.149" stop-color="#7aff7d"/><stop offset="0.299" stop-color="#9dff5a"/><stop offset="0.552" stop-color="#c1ff36"/><stop offset="0.761" stop-color="#d4ff23"/><stop offset="0.851" stop-color="#e7ff0f"/><stop offset="0.888" stop-color="#f1fc06"/><stop offset="0.933" stop-color="#ffea00"/><stop offset="1.000" stop-color="#ffcc00"/></linearGradient><linearGradient id="h131" x1="0" y1="0" x2="0" y2="1"><stop offset="0.000" stop-color="#0cf4eb"/><stop offset="0.015" stop-color="#13fce4"/><stop offset="0.090" stop-color="#4dffaa"/><stop offset="0.149" stop-color="#6dff8a"/><stop offset="0.246" stop-color="#8dff6a"/><stop offset="0.455" stop-color="#b4ff43"/><stop offset="0.672" stop-color="#caff2c"/><stop offset="0.821" stop-color="#deff19"/><stop offset="0.888" stop-color="#f1fc06"/><stop offset="0.933" stop-color="#ffea00"/><stop offset="1.000" stop-color="#ffcc00"/></linearGradient><linearGradient id="h132" x1="0" y1="0" x2="0" y2="1"><stop offset="0.000" stop-color="#00e0fb"/><stop offset="0.022" stop-color="#06ecf1"/><stop offset="0.045" stop-color="#19ffde"/><stop offset="0.142" stop-color="#60ff97"/><stop offset="0.246" stop-color="#87ff70"/><stop offset="0.463" stop-color="#b4ff43"/><stop offset="0.597" stop-color="#c4ff33"/><stop offset="0.806" stop-color="#dbff1c"/><stop offset="0.888" stop-color="#f1fc06"/><stop offset="0.940" stop-color="#ffe600"/><stop offset="1.000" stop-color="#ffcc00"/></linearGradient><linearGradient id="h133" x1="0" y1="0" x2="0" y2="1"><stop offset="0.000" stop-color="#00c8ff"/><stop offset="0.015" stop-color="#00d0ff"/><stop offset="0.037" stop-color="#02e8f4"/><stop offset="0.060" stop-color="#16ffe1"/><stop offset="0.149" stop-color="#5aff9d"/><stop offset="0.291" stop-color="#8dff6a"/><stop offset="0.470" stop-color="#b4ff43"/><stop offset="0.634" stop-color="#c7ff30"/><stop offset="0.806" stop-color="#dbff1c"/><stop offset="0.888" stop-color="#f1fc06"/><stop offset="0.940" stop-color="#ffe600"/><stop offset="1.000" stop-color="#ffcc00"/></linearGradient><linearGradient id="h134" x1="0" y1="0" x2="0" y2="1"><stop offset="0.000" stop-color="#00b0ff"/><stop offset="0.015" stop-color="#00b8ff"/><stop offset="0.052" stop-color="#00e0fb"/><stop offset="0.082" stop-color="#16ffe1"/><stop offset="0.142" stop-color="#49ffad"/><stop offset="0.269" stop-color="#80ff77"/><stop offset="0.433" stop-color="#adff49"/><stop offset="0.567" stop-color="#c1ff36"/><stop offset="0.761" stop-color="#d4ff23"/><stop offset="0.851" stop-color="#e7ff0f"/><stop offset="0.888" stop-color="#f1fc06"/><stop offset="0.940" stop-color="#ffe600"/><stop offset="1.000" stop-color="#ffcc00"/></linearGradient><linearGradient id="h135" x1="0" y1="0" x2="0" y2="1"><stop offset="0.000" stop-color="#0098ff"/><stop offset="0.015" stop-color="#00a0ff"/><stop offset="0.067" stop-color="#00dcfe"/><stop offset="0.082" stop-color="#06ecf1"/><stop offset="0.097" stop-color="#16ffe1"/><stop offset="0.149" stop-color="#43ffb4"/><stop offset="0.239" stop-color="#70ff87"/><stop offset="0.381" stop-color="#9dff5a"/><stop offset="0.515" stop-color="#baff3c"/><stop offset="0.761" stop-color="#d4ff23"/><stop offset="0.851" stop-color="#e7ff0f"/><stop offset="0.888" stop-color="#f1fc06"/><stop offset="0.940" stop-color="#ffe600"/><stop offset="1.000" stop-color="#ffcc00"/></linearGradient><linearGradient id="h136" x1="0" y1="0" x2="0" y2="1"><stop offset="0.000" stop-color="#0080ff"/><stop offset="0.007" stop-color="#0080ff"/><stop offset="0.075" stop-color="#00d0ff"/><stop offset="0.097" stop-color="#06ecf1"/><stop offset="0.112" stop-color="#16ffe1"/><stop offset="0.157" stop-color="#3cffba"/><stop offset="0.239" stop-color="#66ff90"/><stop offset="0.388" stop-color="#9dff5a"/><stop offset="0.522" stop-color="#baff3c"/><stop offset="0.806" stop-color="#dbff1c"/><stop offset="0.888" stop-color="#f1fc06"/><stop offset="0.940" stop-color="#ffe600"/><stop offset="1.000" stop-color="#ffcc00"/></linearGradient><linearGradient id="h137" x1="0" y1="0" x2="0" y2="1"><stop offset="0.000" stop-color="#006cff"/><stop offset="0.015" stop-color="#0074ff"/><stop offset="0.075" stop-color="#00b9ff"/><stop offset="0.104" stop-color="#00e2fa"/><stop offset="0.127" stop-color="#16fee1"/><stop offset="0.157" stop-color="#2effc8"/><stop offset="0.269" stop-color="#6aff8d"/><stop offset="0.433" stop-color="#a7ff50"/><stop offset="0.545" stop-color="#beff39"/><stop offset="0.806" stop-color="#dbff1c"/><stop offset="0.888" stop-color="#f1fc06"/><stop offset="0.940" stop-color="#ffe600"/><stop offset="1.000" stop-color="#ffcc00"/></linearGradient><linearGradient id="h138" x1="0" y1="0" x2="0" y2="1"><stop offset="0.000" stop-color="#0084ff"/><stop offset="0.022" stop-color="#0090ff"/><stop offset="0.082" stop-color="#00caff"/><stop offset="0.104" stop-color="#01e6f6"/><stop offset="0.127" stop-color="#16ffe1"/><stop offset="0.187" stop-color="#3cffba"/><stop offset="0.276" stop-color="#6aff8d"/><stop offset="0.448" stop-color="#aaff4d"/><stop offset="0.545" stop-color="#beff39"/><stop offset="0.806" stop-color="#dbff1c"/><stop offset="0.888" stop-color="#f1fc06"/><stop offset="0.940" stop-color="#ffe600"/><stop offset="1.000" stop-color="#ffcc00"/></linearGradient><linearGradient id="h139" x1="0" y1="0" x2="0" y2="1"><stop offset="0.000" stop-color="#0094ff"/><stop offset="0.030" stop-color="#00a4ff"/><stop offset="0.090" stop-color="#00dafe"/><stop offset="0.112" stop-color="#0af2ec"/><stop offset="0.127" stop-color="#18ffe0"/><stop offset="0.172" stop-color="#33ffc4"/><stop offset="0.261" stop-color="#60ff97"/><stop offset="0.440" stop-color="#a7ff50"/><stop offset="0.545" stop-color="#beff39"/><stop offset="0.806" stop-color="#dbff1c"/><stop offset="0.888" stop-color="#f1fc06"/><stop offset="0.940" stop-color="#ffe600"/><stop offset="1.000" stop-color="#ffcc00"/></linearGradient><linearGradient id="h140" x1="0" y1="0" x2="0" y2="1"><stop offset="0.000" stop-color="#00a3ff"/><stop offset="0.060" stop-color="#00c3ff"/><stop offset="0.090" stop-color="#00dffc"/><stop offset="0.127" stop-color="#16fee1"/><stop offset="0.261" stop-color="#5dff9a"/><stop offset="0.440" stop-color="#a5ff52"/><stop offset="0.545" stop-color="#beff39"/><stop offset="0.806" stop-color="#dbff1c"/><stop offset="0.888" stop-color="#f1fc06"/><stop offset="0.940" stop-color="#ffe600"/><stop offset="1.000" stop-color="#ffcc00"/></linearGradient><linearGradient id="h141" x1="0" y1="0" x2="0" y2="1"><stop offset="0.000" stop-color="#009aff"/><stop offset="0.060" stop-color="#00baff"/><stop offset="0.104" stop-color="#00e2fa"/><stop offset="0.134" stop-color="#14fee2"/><stop offset="0.246" stop-color="#4effa8"/><stop offset="0.425" stop-color="#9cff5c"/><stop offset="0.537" stop-color="#baff3c"/><stop offset="0.806" stop-color="#dbff1c"/><stop offset="0.888" stop-color="#f1fc06"/><stop offset="0.940" stop-color="#ffe600"/><stop offset="1.000" stop-color="#ffcc00"/></linearGradient><linearGradient id="h142" x1="0" y1="0" x2="0" y2="1"><stop offset="0.000" stop-color="#008eff"/><stop offset="0.037" stop-color="#00a2ff"/><stop offset="0.090" stop-color="#00ceff"/><stop offset="0.112" stop-color="#00e2fa"/><stop offset="0.142" stop-color="#14fee2"/><stop offset="0.343" stop-color="#75ff82"/><stop offset="0.515" stop-color="#b4ff43"/><stop offset="0.679" stop-color="#caff2c"/><stop offset="0.821" stop-color="#deff19"/><stop offset="0.888" stop-color="#f1fc06"/><stop offset="0.940" stop-color="#ffe600"/><stop offset="1.000" stop-color="#ffcc00"/></linearGradient><linearGradient id="h143" x1="0" y1="0" x2="0" y2="1"><stop offset="0.000" stop-color="#0086ff"/><stop offset="0.045" stop-color="#009eff"/><stop offset="0.119" stop-color="#00e2fa"/><stop offset="0.157" stop-color="#14fee2"/><stop offset="0.299" stop-color="#5cff9c"/><stop offset="0.478" stop-color="#a6ff52"/><stop offset="0.567" stop-color="#bcff3a"/><stop offset="0.821" stop-color="#deff19"/><stop offset="0.888" stop-color="#f1fc06"/><stop offset="0.940" stop-color="#ffe600"/><stop offset="1.000" stop-color="#ffcc00"/></linearGradient><linearGradient id="h144" x1="0" y1="0" x2="0" y2="1"><stop offset="0.000" stop-color="#007eff"/><stop offset="0.045" stop-color="#0096ff"/><stop offset="0.127" stop-color="#00defc"/><stop offset="0.157" stop-color="#0ef6e9"/><stop offset="0.179" stop-color="#1affdc"/><stop offset="0.381" stop-color="#7cff7c"/><stop offset="0.530" stop-color="#b4ff43"/><stop offset="0.679" stop-color="#caff2c"/><stop offset="0.821" stop-color="#deff19"/><stop offset="0.888" stop-color="#f1fc06"/><stop offset="0.940" stop-color="#ffe600"/><stop offset="1.000" stop-color="#ffcc00"/></linearGradient><linearGradient id="h145" x1="0" y1="0" x2="0" y2="1"><stop offset="0.000" stop-color="#0072ff"/><stop offset="0.015" stop-color="#007aff"/><stop offset="0.090" stop-color="#00b6ff"/><stop offset="0.134" stop-color="#00defc"/><stop offset="0.179" stop-color="#14fee2"/><stop offset="0.351" stop-color="#68ff8e"/><stop offset="0.530" stop-color="#b2ff44"/><stop offset="0.679" stop-color="#caff2c"/><stop offset="0.821" stop-color="#deff19"/><stop offset="0.888" stop-color="#f1fc06"/><stop offset="0.940" stop-color="#ffe600"/><stop offset="1.000" stop-color="#ffcc00"/></linearGradient><linearGradient id="h146" x1="0" y1="0" x2="0" y2="1"><stop offset="0.000" stop-color="#006fff"/><stop offset="0.015" stop-color="#0073ff"/><stop offset="0.142" stop-color="#00ddfd"/><stop offset="0.179" stop-color="#0df5ea"/><stop offset="0.201" stop-color="#19ffde"/><stop offset="0.381" stop-color="#71ff86"/><stop offset="0.530" stop-color="#b1ff46"/><stop offset="0.679" stop-color="#caff2c"/><stop offset="0.821" stop-color="#deff19"/><stop offset="0.888" stop-color="#f1fc06"/><stop offset="0.940" stop-color="#ffe600"/><stop offset="1.000" stop-color="#ffcc00"/></linearGradient><linearGradient id="h147" x1="0" y1="0" x2="0" y2="1"><stop offset="0.000" stop-color="#007cff"/><stop offset="0.045" stop-color="#0094ff"/><stop offset="0.142" stop-color="#00dffc"/><stop offset="0.179" stop-color="#0cf4eb"/><stop offset="0.194" stop-color="#16ffe1"/><stop offset="0.403" stop-color="#7aff7d"/><stop offset="0.537" stop-color="#b1ff46"/><stop offset="0.687" stop-color="#caff2c"/><stop offset="0.828" stop-color="#e1ff16"/><stop offset="0.888" stop-color="#f1fc06"/><stop offset="0.940" stop-color="#ffe600"/><stop offset="1.000" stop-color="#ffcc00"/></linearGradient><linearGradient id="h148" x1="0" y1="0" x2="0" y2="1"><stop offset="0.000" stop-color="#0088ff"/><stop offset="0.067" stop-color="#00abff"/><stop offset="0.142" stop-color="#00e0fb"/><stop offset="0.187" stop-color="#0ff8e7"/><stop offset="0.201" stop-color="#19ffde"/><stop offset="0.478" stop-color="#9aff5d"/><stop offset="0.552" stop-color="#b3ff44"/><stop offset="0.784" stop-color="#d7ff1f"/><stop offset="0.888" stop-color="#f1fc06"/><stop offset="0.940" stop-color="#ffe600"/><stop offset="1.000" stop-color="#ffcc00"/></linearGradient><linearGradient id="h149" x1="0" y1="0" x2="0" y2="1"><stop offset="0.000" stop-color="#0098ff"/><stop offset="0.030" stop-color="#00a0ff"/><stop offset="0.127" stop-color="#00d7ff"/><stop offset="0.164" stop-color="#06ecf1"/><stop offset="0.201" stop-color="#18ffdf"/><stop offset="0.418" stop-color="#7dff7a"/><stop offset="0.530" stop-color="#adff49"/><stop offset="0.754" stop-color="#d4ff23"/><stop offset="0.828" stop-color="#e1ff16"/><stop offset="0.888" stop-color="#f1fc06"/><stop offset="0.940" stop-color="#ffe600"/><stop offset="1.000" stop-color="#ffcc00"/></linearGradient><linearGradient id="h150" x1="0" y1="0" x2="0" y2="1"><stop offset="0.000" stop-color="#008cff"/><stop offset="0.030" stop-color="#0094ff"/><stop offset="0.090" stop-color="#00b4ff"/><stop offset="0.149" stop-color="#00e0fb"/><stop offset="0.187" stop-color="#0ff8e7"/><stop offset="0.216" stop-color="#1cffdb"/><stop offset="0.381" stop-color="#6dff8a"/><stop offset="0.537" stop-color="#adff49"/><stop offset="0.731" stop-color="#d1ff26"/><stop offset="0.828" stop-color="#e1ff16"/><stop offset="0.888" stop-color="#f1fc06"/><stop offset="0.940" stop-color="#ffe600"/><stop offset="1.000" stop-color="#ffcc00"/></linearGradient><linearGradient id="h151" x1="0" y1="0" x2="0" y2="1"><stop offset="0.000" stop-color="#0080ff"/><stop offset="0.030" stop-color="#0088ff"/><stop offset="0.075" stop-color="#00a0ff"/><stop offset="0.157" stop-color="#00e0fb"/><stop offset="0.201" stop-color="#16ffe1"/><stop offset="0.403" stop-color="#77ff80"/><stop offset="0.537" stop-color="#adff49"/><stop offset="0.731" stop-color="#d1ff26"/><stop offset="0.828" stop-color="#e1ff16"/><stop offset="0.888" stop-color="#f1fc06"/><stop offset="0.940" stop-color="#ffe600"/><stop offset="1.000" stop-color="#ffcc00"/></linearGradient><linearGradient id="h152" x1="0" y1="0" x2="0" y2="1"><stop offset="0.000" stop-color="#0074ff"/><stop offset="0.030" stop-color="#007cff"/><stop offset="0.082" stop-color="#009cff"/><stop offset="0.157" stop-color="#00dcfe"/><stop offset="0.187" stop-color="#0cf4eb"/><stop offset="0.201" stop-color="#16ffe1"/><stop offset="0.403" stop-color="#77ff80"/><stop offset="0.537" stop-color="#adff49"/><stop offset="0.731" stop-color="#d1ff26"/><stop offset="0.828" stop-color="#e1ff16"/><stop offset="0.888" stop-color="#f1fc06"/><stop offset="0.940" stop-color="#ffe600"/><stop offset="1.000" stop-color="#ffcc00"/></linearGradient><linearGradient id="h153" x1="0" y1="0" x2="0" y2="1"><stop offset="0.000" stop-color="#0068ff"/><stop offset="0.030" stop-color="#0070ff"/><stop offset="0.075" stop-color="#008cff"/><stop offset="0.164" stop-color="#00e0fb"/><stop offset="0.194" stop-color="#0ff8e7"/><stop offset="0.209" stop-color="#19ffde"/><stop offset="0.448" stop-color="#8aff6d"/><stop offset="0.537" stop-color="#adff49"/><stop offset="0.731" stop-color="#d1ff26"/><stop offset="0.828" stop-color="#e1ff16"/><stop offset="0.888" stop-color="#f1fc06"/><stop offset="0.940" stop-color="#ffe600"/><stop offset="1.000" stop-color="#ffcc00"/></linearGradient><linearGradient id="h154" x1="0" y1="0" x2="0" y2="1"><stop offset="0.000" stop-color="#005cff"/><stop offset="0.030" stop-color="#0064ff"/><stop offset="0.067" stop-color="#007cff"/><stop offset="0.164" stop-color="#00dcfe"/><stop offset="0.201" stop-color="#13fce4"/><stop offset="0.358" stop-color="#60ff97"/><stop offset="0.537" stop-color="#adff49"/><stop offset="0.731" stop-color="#d1ff26"/><stop offset="0.828" stop-color="#e1ff16"/><stop offset="0.888" stop-color="#f1fc06"/><stop offset="0.940" stop-color="#ffe600"/><stop offset="1.000" stop-color="#ffcc00"/></linearGradient><linearGradient id="h155" x1="0" y1="0" x2="0" y2="1"><stop offset="0.000" stop-color="#0050ff"/><stop offset="0.030" stop-color="#0058ff"/><stop offset="0.067" stop-color="#0070ff"/><stop offset="0.172" stop-color="#00e0fb"/><stop offset="0.201" stop-color="#13fce4"/><stop offset="0.358" stop-color="#60ff97"/><stop offset="0.530" stop-color="#aaff4d"/><stop offset="0.687" stop-color="#caff2c"/><stop offset="0.828" stop-color="#e1ff16"/><stop offset="0.888" stop-color="#f1fc06"/><stop offset="0.940" stop-color="#ffe600"/><stop offset="1.000" stop-color="#ffcc00"/></linearGradient><linearGradient id="h156" x1="0" y1="0" x2="0" y2="1"><stop offset="0.000" stop-color="#0040ff"/><stop offset="0.060" stop-color="#005cff"/><stop offset="0.172" stop-color="#00e0fb"/><stop offset="0.201" stop-color="#13fce4"/><stop offset="0.358" stop-color="#60ff97"/><stop offset="0.530" stop-color="#aaff4d"/><stop offset="0.687" stop-color="#caff2c"/><stop offset="0.828" stop-color="#e1ff16"/><stop offset="0.888" stop-color="#f1fc06"/><stop offset="0.940" stop-color="#ffe600"/><stop offset="1.000" stop-color="#ffcc00"/></linearGradient><linearGradient id="h157" x1="0" y1="0" x2="0" y2="1"><stop offset="0.000" stop-color="#0034ff"/><stop offset="0.060" stop-color="#0054ff"/><stop offset="0.172" stop-color="#00dcfe"/><stop offset="0.187" stop-color="#06ecf1"/><stop offset="0.201" stop-color="#13fce4"/><stop offset="0.381" stop-color="#6aff8d"/><stop offset="0.530" stop-color="#aaff4d"/><stop offset="0.687" stop-color="#caff2c"/><stop offset="0.828" stop-color="#e1ff16"/><stop offset="0.888" stop-color="#f1fc06"/><stop offset="0.940" stop-color="#ffe600"/><stop offset="1.000" stop-color="#ffcc00"/></linearGradient><linearGradient id="h158" x1="0" y1="0" x2="0" y2="1"><stop offset="0.000" stop-color="#0028ff"/><stop offset="0.045" stop-color="#0040ff"/><stop offset="0.067" stop-color="#0050ff"/><stop offset="0.172" stop-color="#00d8ff"/><stop offset="0.194" stop-color="#0cf4eb"/><stop offset="0.209" stop-color="#16ffe1"/><stop offset="0.366" stop-color="#63ff94"/><stop offset="0.545" stop-color="#adff49"/><stop offset="0.687" stop-color="#caff2c"/><stop offset="0.828" stop-color="#e1ff16"/><stop offset="0.888" stop-color="#f1fc06"/><stop offset="0.940" stop-color="#ffe600"/><stop offset="1.000" stop-color="#ffcc00"/></linearGradient><linearGradient id="h159" x1="0" y1="0" x2="0" y2="1"><stop offset="0.000" stop-color="#001fff"/><stop offset="0.060" stop-color="#003fff"/><stop offset="0.179" stop-color="#00e0fb"/><stop offset="0.201" stop-color="#0ff8e7"/><stop offset="0.216" stop-color="#19ffde"/><stop offset="0.388" stop-color="#6dff8a"/><stop offset="0.545" stop-color="#adff49"/><stop offset="0.687" stop-color="#caff2c"/><stop offset="0.828" stop-color="#e1ff16"/><stop offset="0.888" stop-color="#f1fc06"/><stop offset="0.940" stop-color="#ffe600"/><stop offset="1.000" stop-color="#ffcc00"/></linearGradient><linearGradient id="h160" x1="0" y1="0" x2="0" y2="1"><stop offset="0.000" stop-color="#0034ff"/><stop offset="0.060" stop-color="#0050ff"/><stop offset="0.149" stop-color="#00c2ff"/><stop offset="0.172" stop-color="#00dcfe"/><stop offset="0.201" stop-color="#0ff8e7"/><stop offset="0.216" stop-color="#19ffde"/><stop offset="0.388" stop-color="#6dff8a"/><stop offset="0.545" stop-color="#adff49"/><stop offset="0.687" stop-color="#caff2c"/><stop offset="0.828" stop-color="#e1ff16"/><stop offset="0.888" stop-color="#f1fc06"/><stop offset="0.940" stop-color="#ffe600"/><stop offset="1.000" stop-color="#ffcc00"/></linearGradient><linearGradient id="h161" x1="0" y1="0" x2="0" y2="1"><stop offset="0.000" stop-color="#0040ff"/><stop offset="0.060" stop-color="#0060ff"/><stop offset="0.164" stop-color="#00d8ff"/><stop offset="0.187" stop-color="#06ecf1"/><stop offset="0.209" stop-color="#16ffe1"/><stop offset="0.396" stop-color="#70ff87"/><stop offset="0.545" stop-color="#adff49"/><stop offset="0.687" stop-color="#caff2c"/><stop offset="0.828" stop-color="#e1ff16"/><stop offset="0.888" stop-color="#f1fc06"/><stop offset="0.940" stop-color="#ffe600"/><stop offset="1.000" stop-color="#ffcc00"/></linearGradient><linearGradient id="h162" x1="0" y1="0" x2="0" y2="1"><stop offset="0.000" stop-color="#0048ff"/><stop offset="0.060" stop-color="#0068ff"/><stop offset="0.142" stop-color="#00c8ff"/><stop offset="0.172" stop-color="#00e0fb"/><stop offset="0.209" stop-color="#16ffe1"/><stop offset="0.396" stop-color="#70ff87"/><stop offset="0.545" stop-color="#adff49"/><stop offset="0.687" stop-color="#caff2c"/><stop offset="0.828" stop-color="#e1ff16"/><stop offset="0.888" stop-color="#f1fc06"/><stop offset="0.940" stop-color="#ffe600"/><stop offset="1.000" stop-color="#ffcc00"/></linearGradient><linearGradient id="h163" x1="0" y1="0" x2="0" y2="1"><stop offset="0.000" stop-color="#0050ff"/><stop offset="0.045" stop-color="#0068ff"/><stop offset="0.075" stop-color="#0080ff"/><stop offset="0.157" stop-color="#00d8ff"/><stop offset="0.179" stop-color="#02e8f4"/><stop offset="0.209" stop-color="#16ffe1"/><stop offset="0.396" stop-color="#70ff87"/><stop offset="0.545" stop-color="#adff49"/><stop offset="0.687" stop-color="#caff2c"/><stop offset="0.828" stop-color="#e1ff16"/><stop offset="0.888" stop-color="#f1fc06"/><stop offset="0.940" stop-color="#ffe600"/><stop offset="1.000" stop-color="#ffcc00"/></linearGradient><linearGradient id="h164" x1="0" y1="0" x2="0" y2="1"><stop offset="0.000" stop-color="#005cff"/><stop offset="0.067" stop-color="#0080ff"/><stop offset="0.157" stop-color="#00dcfe"/><stop offset="0.179" stop-color="#06ecf1"/><stop offset="0.216" stop-color="#19ffde"/><stop offset="0.388" stop-color="#6dff8a"/><stop offset="0.545" stop-color="#adff49"/><stop offset="0.687" stop-color="#caff2c"/><stop offset="0.828" stop-color="#e1ff16"/><stop offset="0.888" stop-color="#f1fc06"/><stop offset="0.940" stop-color="#ffe600"/><stop offset="1.000" stop-color="#ffcc00"/></linearGradient><linearGradient id="h165" x1="0" y1="0" x2="0" y2="1"><stop offset="0.000" stop-color="#0064ff"/><stop offset="0.060" stop-color="#0084ff"/><stop offset="0.142" stop-color="#00d4ff"/><stop offset="0.179" stop-color="#06ecf1"/><stop offset="0.209" stop-color="#16ffe1"/><stop offset="0.396" stop-color="#70ff87"/><stop offset="0.545" stop-color="#adff49"/><stop offset="0.687" stop-color="#caff2c"/><stop offset="0.828" stop-color="#e1ff16"/><stop offset="0.888" stop-color="#f1fc06"/><stop offset="0.940" stop-color="#ffe600"/><stop offset="1.000" stop-color="#ffcc00"/></linearGradient><linearGradient id="h166" x1="0" y1="0" x2="0" y2="1"><stop offset="0.000" stop-color="#0070ff"/><stop offset="0.067" stop-color="#0094ff"/><stop offset="0.142" stop-color="#00d8ff"/><stop offset="0.187" stop-color="#0cf4eb"/><stop offset="0.216" stop-color="#19ffde"/><stop offset="0.388" stop-color="#6dff8a"/><stop offset="0.545" stop-color="#adff49"/><stop offset="0.687" stop-color="#caff2c"/><stop offset="0.828" stop-color="#e1ff16"/><stop offset="0.888" stop-color="#f1fc06"/><stop offset="0.940" stop-color="#ffe600"/><stop offset="1.000" stop-color="#ffcc00"/></linearGradient><linearGradient id="h167" x1="0" y1="0" x2="0" y2="1"><stop offset="0.000" stop-color="#007cff"/><stop offset="0.060" stop-color="#0094ff"/><stop offset="0.142" stop-color="#00dcfe"/><stop offset="0.179" stop-color="#09f0ee"/><stop offset="0.201" stop-color="#16ffe1"/><stop offset="0.485" stop-color="#97ff60"/><stop offset="0.560" stop-color="#b1ff46"/><stop offset="0.731" stop-color="#d1ff26"/><stop offset="0.828" stop-color="#e1ff16"/><stop offset="0.888" stop-color="#f1fc06"/><stop offset="0.940" stop-color="#ffe600"/><stop offset="1.000" stop-color="#ffcc00"/></linearGradient><linearGradient id="h168" x1="0" y1="0" x2="0" y2="1"><stop offset="0.000" stop-color="#0088ff"/><stop offset="0.045" stop-color="#0098ff"/><stop offset="0.075" stop-color="#00a8ff"/><stop offset="0.134" stop-color="#00dcfe"/><stop offset="0.179" stop-color="#0cf4eb"/><stop offset="0.209" stop-color="#19ffde"/><stop offset="0.478" stop-color="#94ff63"/><stop offset="0.560" stop-color="#b1ff46"/><stop offset="0.731" stop-color="#d1ff26"/><stop offset="0.828" stop-color="#e1ff16"/><stop offset="0.888" stop-color="#f1fc06"/><stop offset="0.940" stop-color="#ffe600"/><stop offset="1.000" stop-color="#ffcc00"/></linearGradient><linearGradient id="h169" x1="0" y1="0" x2="0" y2="1"><stop offset="0.000" stop-color="#0094ff"/><stop offset="0.030" stop-color="#009cff"/><stop offset="0.090" stop-color="#00bcff"/><stop offset="0.142" stop-color="#00e4f8"/><stop offset="0.201" stop-color="#19ffde"/><stop offset="0.313" stop-color="#49ffad"/><stop offset="0.522" stop-color="#a7ff50"/><stop offset="0.687" stop-color="#caff2c"/><stop offset="0.828" stop-color="#e1ff16"/><stop offset="0.888" stop-color="#f1fc06"/><stop offset="0.940" stop-color="#ffe600"/><stop offset="1.000" stop-color="#ffcc00"/></linearGradient><linearGradient id="h170" x1="0" y1="0" x2="0" y2="1"><stop offset="0.000" stop-color="#00a0ff"/><stop offset="0.060" stop-color="#00b0ff"/><stop offset="0.127" stop-color="#00e0fb"/><stop offset="0.179" stop-color="#13fce4"/><stop offset="0.246" stop-color="#29ffce"/><stop offset="0.425" stop-color="#7dff7a"/><stop offset="0.545" stop-color="#adff49"/><stop offset="0.687" stop-color="#caff2c"/><stop offset="0.828" stop-color="#e1ff16"/><stop offset="0.888" stop-color="#f1fc06"/><stop offset="0.940" stop-color="#ffe600"/><stop offset="1.000" stop-color="#ffcc00"/></linearGradient><linearGradient id="h171" x1="0" y1="0" x2="0" y2="1"><stop offset="0.000" stop-color="#00acff"/><stop offset="0.067" stop-color="#00bcff"/><stop offset="0.119" stop-color="#00e0fb"/><stop offset="0.172" stop-color="#13fce4"/><stop offset="0.239" stop-color="#26ffd1"/><stop offset="0.433" stop-color="#80ff77"/><stop offset="0.545" stop-color="#adff49"/><stop offset="0.687" stop-color="#caff2c"/><stop offset="0.828" stop-color="#e1ff16"/><stop offset="0.888" stop-color="#f1fc06"/><stop offset="0.940" stop-color="#ffe600"/><stop offset="1.000" stop-color="#ffcc00"/></linearGradient><linearGradient id="h172" x1="0" y1="0" x2="0" y2="1"><stop offset="0.000" stop-color="#00b8ff"/><stop offset="0.067" stop-color="#00c9ff"/><stop offset="0.112" stop-color="#01e4f8"/><stop offset="0.157" stop-color="#12fbe5"/><stop offset="0.239" stop-color="#29ffce"/><stop offset="0.530" stop-color="#a7ff50"/><stop offset="0.649" stop-color="#c4ff33"/><stop offset="0.828" stop-color="#e1ff16"/><stop offset="0.888" stop-color="#f1fc06"/><stop offset="0.940" stop-color="#ffe600"/><stop offset="1.000" stop-color="#ffcc00"/></linearGradient><linearGradient id="h173" x1="0" y1="0" x2="0" y2="1"><stop offset="0.000" stop-color="#00b8ff"/><stop offset="0.075" stop-color="#00d6ff"/><stop offset="0.112" stop-color="#04eaf2"/><stop offset="0.164" stop-color="#16ffe1"/><stop offset="0.246" stop-color="#2cffca"/><stop offset="0.530" stop-color="#a6ff52"/><stop offset="0.709" stop-color="#ceff29"/><stop offset="0.821" stop-color="#deff19"/><stop offset="0.888" stop-color="#f1fc06"/><stop offset="0.940" stop-color="#ffe600"/><stop offset="1.000" stop-color="#ffcc00"/></linearGradient><linearGradient id="h174" x1="0" y1="0" x2="0" y2="1"><stop offset="0.000" stop-color="#00b8ff"/><stop offset="0.030" stop-color="#00c0ff"/><stop offset="0.090" stop-color="#00e0fb"/><stop offset="0.157" stop-color="#16ffe1"/><stop offset="0.239" stop-color="#29ffce"/><stop offset="0.537" stop-color="#a7ff50"/><stop offset="0.731" stop-color="#d1ff26"/><stop offset="0.828" stop-color="#e1ff16"/><stop offset="0.888" stop-color="#f1fc06"/><stop offset="0.940" stop-color="#ffe600"/><stop offset="1.000" stop-color="#ffcc00"/></linearGradient><linearGradient id="h175" x1="0" y1="0" x2="0" y2="1"><stop offset="0.000" stop-color="#ffc800"/><stop offset="0.019" stop-color="#ffc800"/><stop offset="0.032" stop-color="#ffc400"/><stop offset="0.090" stop-color="#ffc100"/><stop offset="0.103" stop-color="#ffbd00"/><stop offset="0.135" stop-color="#ffbd00"/><stop offset="0.142" stop-color="#ffb900"/><stop offset="0.155" stop-color="#ffbd00"/><stop offset="0.200" stop-color="#ffbd00"/><stop offset="0.213" stop-color="#ffc100"/><stop offset="0.239" stop-color="#ffc400"/><stop offset="0.277" stop-color="#ffd700"/><stop offset="0.290" stop-color="#ffde00"/><stop offset="0.303" stop-color="#ffea00"/><stop offset="0.316" stop-color="#f8f500"/><stop offset="0.329" stop-color="#ebff0c"/><stop offset="0.355" stop-color="#d4ff23"/><stop offset="0.387" stop-color="#beff39"/><stop offset="0.400" stop-color="#aaff4d"/><stop offset="0.413" stop-color="#9aff5d"/><stop offset="0.432" stop-color="#80ff77"/><stop offset="0.458" stop-color="#56ffa0"/><stop offset="0.497" stop-color="#1cffdb"/><stop offset="0.503" stop-color="#13fce4"/><stop offset="0.510" stop-color="#09f0ee"/><stop offset="0.516" stop-color="#00d8ff"/><stop offset="0.548" stop-color="#006cff"/><stop offset="0.581" stop-color="#0004ff"/><stop offset="0.587" stop-color="#0000ff"/><stop offset="0.600" stop-color="#0000cd"/><stop offset="0.613" stop-color="#000092"/><stop offset="0.619" stop-color="#000084"/><stop offset="0.632" stop-color="#000080"/><stop offset="1.000" stop-color="#000080"/></linearGradient><linearGradient id="h176" x1="0" y1="0" x2="0" y2="1"><stop offset="0.000" stop-color="#ffc800"/><stop offset="0.019" stop-color="#ffc800"/><stop offset="0.032" stop-color="#ffc400"/><stop offset="0.084" stop-color="#ffc100"/><stop offset="0.097" stop-color="#ffbd00"/><stop offset="0.135" stop-color="#ffbd00"/><stop offset="0.148" stop-color="#ffb900"/><stop offset="0.161" stop-color="#ffbd00"/><stop offset="0.200" stop-color="#ffbd00"/><stop offset="0.213" stop-color="#ffc100"/><stop offset="0.239" stop-color="#ffc400"/><stop offset="0.277" stop-color="#ffd700"/><stop offset="0.290" stop-color="#ffde00"/><stop offset="0.303" stop-color="#ffea00"/><stop offset="0.316" stop-color="#f8f500"/><stop offset="0.329" stop-color="#ebff0c"/><stop offset="0.355" stop-color="#d4ff23"/><stop offset="0.387" stop-color="#beff39"/><stop offset="0.400" stop-color="#aaff4d"/><stop offset="0.413" stop-color="#9aff5d"/><stop offset="0.439" stop-color="#77ff80"/><stop offset="0.465" stop-color="#4dffaa"/><stop offset="0.503" stop-color="#13fce4"/><stop offset="0.510" stop-color="#09f0ee"/><stop offset="0.516" stop-color="#00d8ff"/><stop offset="0.548" stop-color="#006cff"/><stop offset="0.581" stop-color="#0004ff"/><stop offset="0.587" stop-color="#0000ff"/><stop offset="0.600" stop-color="#0000cd"/><stop offset="0.613" stop-color="#000092"/><stop offset="0.619" stop-color="#000084"/><stop offset="0.632" stop-color="#000080"/><stop offset="1.000" stop-color="#000080"/></linearGradient><linearGradient id="h177" x1="0" y1="0" x2="0" y2="1"><stop offset="0.000" stop-color="#ffc800"/><stop offset="0.019" stop-color="#ffc800"/><stop offset="0.032" stop-color="#ffc400"/><stop offset="0.077" stop-color="#ffc100"/><stop offset="0.090" stop-color="#ffbd00"/><stop offset="0.123" stop-color="#ffbd00"/><stop offset="0.135" stop-color="#ffb900"/><stop offset="0.187" stop-color="#ffb900"/><stop offset="0.200" stop-color="#ffbd00"/><stop offset="0.265" stop-color="#ffcc00"/><stop offset="0.310" stop-color="#feed00"/><stop offset="0.316" stop-color="#f8f500"/><stop offset="0.329" stop-color="#eeff09"/><stop offset="0.361" stop-color="#d1ff26"/><stop offset="0.387" stop-color="#beff39"/><stop offset="0.439" stop-color="#77ff80"/><stop offset="0.465" stop-color="#50ffa7"/><stop offset="0.484" stop-color="#30ffc7"/><stop offset="0.503" stop-color="#16ffe1"/><stop offset="0.510" stop-color="#0cf4eb"/><stop offset="0.516" stop-color="#00e0fb"/><stop offset="0.529" stop-color="#00b0ff"/><stop offset="0.574" stop-color="#001cff"/><stop offset="0.581" stop-color="#0008ff"/><stop offset="0.587" stop-color="#0000ff"/><stop offset="0.600" stop-color="#0000d6"/><stop offset="0.613" stop-color="#000096"/><stop offset="0.626" stop-color="#000080"/><stop offset="1.000" stop-color="#000080"/></linearGradient><linearGradient id="h178" x1="0" y1="0" x2="0" y2="1"><stop offset="0.000" stop-color="#ffcc00"/><stop offset="0.013" stop-color="#ffc800"/><stop offset="0.071" stop-color="#ffc100"/><stop offset="0.084" stop-color="#ffbd00"/><stop offset="0.103" stop-color="#ffbd00"/><stop offset="0.116" stop-color="#ffb900"/><stop offset="0.194" stop-color="#ffb900"/><stop offset="0.206" stop-color="#ffbd00"/><stop offset="0.219" stop-color="#ffbd00"/><stop offset="0.232" stop-color="#ffc100"/><stop offset="0.265" stop-color="#ffc800"/><stop offset="0.277" stop-color="#ffd300"/><stop offset="0.310" stop-color="#ffea00"/><stop offset="0.323" stop-color="#f4f802"/><stop offset="0.329" stop-color="#eeff09"/><stop offset="0.355" stop-color="#d7ff1f"/><stop offset="0.394" stop-color="#baff3c"/><stop offset="0.413" stop-color="#9dff5a"/><stop offset="0.426" stop-color="#8dff6a"/><stop offset="0.471" stop-color="#49ffad"/><stop offset="0.484" stop-color="#33ffc4"/><stop offset="0.497" stop-color="#23ffd4"/><stop offset="0.503" stop-color="#19ffde"/><stop offset="0.510" stop-color="#0ff8e7"/><stop offset="0.516" stop-color="#02e8f4"/><stop offset="0.523" stop-color="#00d0ff"/><stop offset="0.548" stop-color="#0078ff"/><stop offset="0.581" stop-color="#0010ff"/><stop offset="0.587" stop-color="#0000ff"/><stop offset="0.594" stop-color="#0000f6"/><stop offset="0.600" stop-color="#0000df"/><stop offset="0.613" stop-color="#0000a4"/><stop offset="0.619" stop-color="#000089"/><stop offset="0.632" stop-color="#000080"/><stop offset="1.000" stop-color="#000080"/></linearGradient><linearGradient id="h179" x1="0" y1="0" x2="0" y2="1"><stop offset="0.000" stop-color="#ffcc00"/><stop offset="0.013" stop-color="#ffc800"/><stop offset="0.026" stop-color="#ffc800"/><stop offset="0.039" stop-color="#ffc400"/><stop offset="0.065" stop-color="#ffc100"/><stop offset="0.077" stop-color="#ffbd00"/><stop offset="0.110" stop-color="#ffb900"/><stop offset="0.187" stop-color="#ffb600"/><stop offset="0.213" stop-color="#ffb900"/><stop offset="0.226" stop-color="#ffbd00"/><stop offset="0.271" stop-color="#ffc800"/><stop offset="0.297" stop-color="#ffde00"/><stop offset="0.316" stop-color="#feed00"/><stop offset="0.323" stop-color="#f8f500"/><stop offset="0.335" stop-color="#ebff0c"/><stop offset="0.361" stop-color="#d4ff23"/><stop offset="0.394" stop-color="#beff39"/><stop offset="0.406" stop-color="#aaff4d"/><stop offset="0.419" stop-color="#9aff5d"/><stop offset="0.445" stop-color="#77ff80"/><stop offset="0.471" stop-color="#4dffaa"/><stop offset="0.510" stop-color="#13fce4"/><stop offset="0.516" stop-color="#09f0ee"/><stop offset="0.523" stop-color="#00d8ff"/><stop offset="0.555" stop-color="#006cff"/><stop offset="0.587" stop-color="#0004ff"/><stop offset="0.594" stop-color="#0000ff"/><stop offset="0.606" stop-color="#0000cd"/><stop offset="0.619" stop-color="#000092"/><stop offset="0.626" stop-color="#000084"/><stop offset="0.639" stop-color="#000080"/><stop offset="1.000" stop-color="#000080"/></linearGradient><linearGradient id="h180" x1="0" y1="0" x2="0" y2="1"><stop offset="0.000" stop-color="#ffcc00"/><stop offset="0.065" stop-color="#ffc100"/><stop offset="0.090" stop-color="#ffb900"/><stop offset="0.200" stop-color="#ffb600"/><stop offset="0.226" stop-color="#ffb900"/><stop offset="0.239" stop-color="#ffbd00"/><stop offset="0.271" stop-color="#ffc400"/><stop offset="0.297" stop-color="#ffdb00"/><stop offset="0.316" stop-color="#ffea00"/><stop offset="0.329" stop-color="#f4f802"/><stop offset="0.335" stop-color="#eeff09"/><stop offset="0.361" stop-color="#d7ff1f"/><stop offset="0.394" stop-color="#c1ff36"/><stop offset="0.452" stop-color="#70ff87"/><stop offset="0.503" stop-color="#1fffd7"/><stop offset="0.510" stop-color="#19ffde"/><stop offset="0.516" stop-color="#0ff8e7"/><stop offset="0.523" stop-color="#00e4f8"/><stop offset="0.529" stop-color="#00ccff"/><stop offset="0.561" stop-color="#0060ff"/><stop offset="0.574" stop-color="#0038ff"/><stop offset="0.587" stop-color="#000cff"/><stop offset="0.594" stop-color="#0000ff"/><stop offset="0.600" stop-color="#0000f1"/><stop offset="0.613" stop-color="#0000bf"/><stop offset="0.619" stop-color="#00009f"/><stop offset="0.626" stop-color="#000089"/><stop offset="0.639" stop-color="#000080"/><stop offset="1.000" stop-color="#000080"/></linearGradient><linearGradient id="h181" x1="0" y1="0" x2="0" y2="1"><stop offset="0.000" stop-color="#ffd000"/><stop offset="0.013" stop-color="#ffc800"/><stop offset="0.032" stop-color="#ffc800"/><stop offset="0.097" stop-color="#ffb600"/><stop offset="0.129" stop-color="#ffb600"/><stop offset="0.142" stop-color="#ffb200"/><stop offset="0.200" stop-color="#ffb200"/><stop offset="0.213" stop-color="#ffb600"/><stop offset="0.239" stop-color="#ffb900"/><stop offset="0.277" stop-color="#ffc800"/><stop offset="0.323" stop-color="#feed00"/><stop offset="0.329" stop-color="#f8f500"/><stop offset="0.342" stop-color="#ebff0c"/><stop offset="0.368" stop-color="#d4ff23"/><stop offset="0.394" stop-color="#c1ff36"/><stop offset="0.413" stop-color="#aaff4d"/><stop offset="0.458" stop-color="#6aff8d"/><stop offset="0.490" stop-color="#36ffc1"/><stop offset="0.503" stop-color="#26ffd1"/><stop offset="0.516" stop-color="#13fce4"/><stop offset="0.523" stop-color="#06ecf1"/><stop offset="0.529" stop-color="#00d8ff"/><stop offset="0.568" stop-color="#0054ff"/><stop offset="0.581" stop-color="#002cff"/><stop offset="0.594" stop-color="#0000ff"/><stop offset="0.600" stop-color="#0000fa"/><stop offset="0.606" stop-color="#0000e8"/><stop offset="0.619" stop-color="#0000ad"/><stop offset="0.626" stop-color="#00008d"/><stop offset="0.639" stop-color="#000080"/><stop offset="1.000" stop-color="#000080"/></linearGradient><linearGradient id="h182" x1="0" y1="0" x2="0" y2="1"><stop offset="0.000" stop-color="#ffd000"/><stop offset="0.013" stop-color="#ffc800"/><stop offset="0.032" stop-color="#ffc800"/><stop offset="0.045" stop-color="#ffc400"/><stop offset="0.097" stop-color="#ffb600"/><stop offset="0.110" stop-color="#ffb600"/><stop offset="0.123" stop-color="#ffb200"/><stop offset="0.206" stop-color="#ffb200"/><stop offset="0.219" stop-color="#ffb600"/><stop offset="0.245" stop-color="#ffb900"/><stop offset="0.258" stop-color="#ffbd00"/><stop offset="0.277" stop-color="#ffc400"/><stop offset="0.316" stop-color="#ffe600"/><stop offset="0.329" stop-color="#f8f500"/><stop offset="0.342" stop-color="#eeff09"/><stop offset="0.374" stop-color="#d1ff26"/><stop offset="0.400" stop-color="#beff39"/><stop offset="0.452" stop-color="#77ff80"/><stop offset="0.484" stop-color="#46ffb1"/><stop offset="0.490" stop-color="#39ffbe"/><stop offset="0.503" stop-color="#29ffce"/><stop offset="0.516" stop-color="#16ffe1"/><stop offset="0.523" stop-color="#0cf4eb"/><stop offset="0.529" stop-color="#00e0fb"/><stop offset="0.542" stop-color="#00b4ff"/><stop offset="0.568" stop-color="#005cff"/><stop offset="0.594" stop-color="#0008ff"/><stop offset="0.600" stop-color="#0000ff"/><stop offset="0.613" stop-color="#0000d6"/><stop offset="0.626" stop-color="#00009b"/><stop offset="0.632" stop-color="#000089"/><stop offset="0.639" stop-color="#000080"/><stop offset="1.000" stop-color="#000080"/></linearGradient><linearGradient id="h183" x1="0" y1="0" x2="0" y2="1"><stop offset="0.000" stop-color="#ffd000"/><stop offset="0.013" stop-color="#ffc800"/><stop offset="0.032" stop-color="#ffc800"/><stop offset="0.045" stop-color="#ffc400"/><stop offset="0.097" stop-color="#ffb600"/><stop offset="0.129" stop-color="#ffb200"/><stop offset="0.148" stop-color="#ffb200"/><stop offset="0.161" stop-color="#ffae00"/><stop offset="0.174" stop-color="#ffb200"/><stop offset="0.213" stop-color="#ffb200"/><stop offset="0.226" stop-color="#ffb600"/><stop offset="0.252" stop-color="#ffb900"/><stop offset="0.277" stop-color="#ffc100"/><stop offset="0.310" stop-color="#ffde00"/><stop offset="0.323" stop-color="#ffea00"/><stop offset="0.335" stop-color="#f4f802"/><stop offset="0.342" stop-color="#eeff09"/><stop offset="0.368" stop-color="#d7ff1f"/><stop offset="0.400" stop-color="#c1ff36"/><stop offset="0.458" stop-color="#70ff87"/><stop offset="0.510" stop-color="#1fffd7"/><stop offset="0.516" stop-color="#19ffde"/><stop offset="0.523" stop-color="#0ff8e7"/><stop offset="0.529" stop-color="#00e4f8"/><stop offset="0.535" stop-color="#00ccff"/><stop offset="0.568" stop-color="#0060ff"/><stop offset="0.594" stop-color="#000cff"/><stop offset="0.600" stop-color="#0000ff"/><stop offset="0.606" stop-color="#0000f1"/><stop offset="0.619" stop-color="#0000bf"/><stop offset="0.626" stop-color="#00009f"/><stop offset="0.632" stop-color="#000089"/><stop offset="0.645" stop-color="#000080"/><stop offset="1.000" stop-color="#000080"/></linearGradient><linearGradient id="h184" x1="0" y1="0" x2="0" y2="1"><stop offset="0.000" stop-color="#ffd000"/><stop offset="0.013" stop-color="#ffc800"/><stop offset="0.032" stop-color="#ffc800"/><stop offset="0.045" stop-color="#ffc400"/><stop offset="0.110" stop-color="#ffb200"/><stop offset="0.148" stop-color="#ffb200"/><stop offset="0.161" stop-color="#ffae00"/><stop offset="0.194" stop-color="#ffb200"/><stop offset="0.219" stop-color="#ffb200"/><stop offset="0.232" stop-color="#ffb600"/><stop offset="0.277" stop-color="#ffc100"/><stop offset="0.310" stop-color="#ffde00"/><stop offset="0.323" stop-color="#ffea00"/><stop offset="0.335" stop-color="#f4f802"/><stop offset="0.342" stop-color="#eeff09"/><stop offset="0.368" stop-color="#d7ff1f"/><stop offset="0.400" stop-color="#c1ff36"/><stop offset="0.452" stop-color="#7aff7d"/><stop offset="0.503" stop-color="#29ffce"/><stop offset="0.516" stop-color="#19ffde"/><stop offset="0.523" stop-color="#0ff8e7"/><stop offset="0.529" stop-color="#00e4f8"/><stop offset="0.535" stop-color="#00d0ff"/><stop offset="0.548" stop-color="#00a0ff"/><stop offset="0.581" stop-color="#0038ff"/><stop offset="0.594" stop-color="#000cff"/><stop offset="0.600" stop-color="#0000ff"/><stop offset="0.606" stop-color="#0000f1"/><stop offset="0.619" stop-color="#0000bf"/><stop offset="0.626" stop-color="#00009f"/><stop offset="0.632" stop-color="#000089"/><stop offset="0.645" stop-color="#000080"/><stop offset="1.000" stop-color="#000080"/></linearGradient><clipPath id="c1"><rect x="200.1" y="110.0" width="714.1" height="344.7"/></clipPath><linearGradient id="cb" x1="0" y1="0" x2="0" y2="1"><stop offset="0.000" stop-color="#800000"/><stop offset="0.090" stop-color="#e80000"/><stop offset="0.110" stop-color="#ff1300"/><stop offset="0.340" stop-color="#feed00"/><stop offset="0.350" stop-color="#f8f500"/><stop offset="0.360" stop-color="#eeff09"/><stop offset="0.625" stop-color="#16ffe1"/><stop offset="0.650" stop-color="#00e4f8"/><stop offset="0.660" stop-color="#00dcfe"/><stop offset="0.875" stop-color="#0000ff"/><stop offset="0.890" stop-color="#0000ff"/><stop offset="1.000" stop-color="#000080"/></linearGradient><clipPath id="c2"><rect x="200.1" y="478.0" width="714.1" height="343.8"/></clipPath><clipPath id="c3"><rect x="200.1" y="845.1" width="714.1" height="171.9"/></clipPath><clipPath id="r1"><rect x="1205.2" y="110.0" width="595.0" height="344.7"/></clipPath><clipPath id="r2"><rect x="1205.2" y="478.0" width="595.0" height="343.8"/></clipPath><clipPath id="r3"><rect x="1205.2" y="845.1" width="595.0" height="171.9"/></clipPath></defs><rect width="2000" height="1100" fill="#fff"/><g><text x="548.00" y="40.50" font-size="25.20" textLength="111.14" lengthAdjust="spacingAndGlyphs">BAS-RBM</text><text x="666.81" y="40.50" font-size="25.20" textLength="131.07" lengthAdjust="spacingAndGlyphs">Relativistic</text><text x="805.54" y="40.50" font-size="25.20" textLength="98.90" lengthAdjust="spacingAndGlyphs">Electron</text><text x="912.10" y="40.50" font-size="25.20" textLength="109.69" lengthAdjust="spacingAndGlyphs">Forecast,</text><text x="1029.46" y="40.50" font-size="25.20" textLength="77.25" lengthAdjust="spacingAndGlyphs">issued</text><text x="1114.37" y="40.50" font-size="25.20" textLength="24.23" lengthAdjust="spacingAndGlyphs">at</text><text x="1146.27" y="40.50" font-size="25.20" textLength="69.49" lengthAdjust="spacingAndGlyphs">23:10</text><text x="1223.42" y="40.50" font-size="25.20" textLength="40.04" lengthAdjust="spacingAndGlyphs">UT,</text><text x="1271.12" y="40.50" font-size="25.20" textLength="30.68" lengthAdjust="spacingAndGlyphs">31</text><text x="1309.47" y="40.50" font-size="25.20" textLength="73.50" lengthAdjust="spacingAndGlyphs">March</text><text x="1390.64" y="40.50" font-size="25.20" textLength="61.36" lengthAdjust="spacingAndGlyphs">2019</text></g><g clip-path="url(#c1)"><rect x="200" y="167" width="6.7" height="134" fill="url(#h0)"/><rect x="206" y="167" width="7.7" height="134" fill="url(#h1)"/><rect x="213" y="167" width="2.7" height="134" fill="url(#h2)"/><rect x="215" y="167" width="2.7" height="134" fill="url(#h3)"/><rect x="217" y="167" width="2.7" height="134" fill="url(#h4)"/><rect x="219" y="167" width="2.7" height="134" fill="url(#h5)"/><rect x="221" y="167" width="2.7" height="134" fill="url(#h6)"/><rect x="223" y="167" width="6.7" height="134" fill="url(#h7)"/><rect x="229" y="167" width="5.7" height="134" fill="url(#h8)"/><rect x="234" y="167" width="5.7" height="134" fill="url(#h9)"/><rect x="239" y="167" width="5.7" height="134" fill="url(#h10)"/><rect x="244" y="167" width="5.7" height="134" fill="url(#h11)"/><rect x="249" y="167" width="10.7" height="134" fill="url(#h12)"/><rect x="259" y="167" width="10.7" height="134" fill="url(#h13)"/><rect x="269" y="167" width="10.7" height="134" fill="url(#h14)"/><rect x="279" y="167" width="4.7" height="134" fill="url(#h15)"/><rect x="283" y="167" width="4.7" height="134" fill="url(#h16)"/><rect x="287" y="167" width="4.7" height="134" fill="url(#h17)"/><rect x="291" y="167" width="4.7" height="134" fill="url(#h18)"/><rect x="295" y="167" width="4.7" height="134" fill="url(#h19)"/><rect x="299" y="167" width="6.7" height="134" fill="url(#h20)"/><rect x="305" y="167" width="10.7" height="134" fill="url(#h21)"/><rect x="315" y="167" width="10.7" height="134" fill="url(#h22)"/><rect x="325" y="167" width="10.7" height="134" fill="url(#h23)"/><rect x="335" y="167" width="10.7" height="134" fill="url(#h24)"/><rect x="345" y="167" width="9.7" height="134" fill="url(#h25)"/><rect x="354" y="167" width="3.7" height="134" fill="url(#h26)"/><rect x="357" y="167" width="3.7" height="134" fill="url(#h27)"/><rect x="360" y="167" width="10.7" height="134" fill="url(#h28)"/><rect x="370" y="167" width="10.7" height="134" fill="url(#h29)"/><rect x="380" y="167" width="10.7" height="134" fill="url(#h30)"/><rect x="390" y="167" width="10.7" height="134" fill="url(#h31)"/><rect x="400" y="167" width="2.7" height="134" fill="url(#h32)"/><rect x="402" y="167" width="3.7" height="134" fill="url(#h33)"/><rect x="405" y="167" width="10.7" height="134" fill="url(#h34)"/><rect x="415" y="167" width="5.7" height="134" fill="url(#h35)"/><rect x="420" y="167" width="3.7" height="134" fill="url(#h36)"/><rect x="423" y="167" width="4.7" height="134" fill="url(#h37)"/><rect x="427" y="167" width="3.7" height="134" fill="url(#h38)"/><rect x="430" y="167" width="3.7" height="134" fill="url(#h39)"/><rect x="433" y="167" width="10.7" height="134" fill="url(#h40)"/><rect x="443" y="167" width="10.7" height="134" fill="url(#h41)"/><rect x="453" y="167" width="10.7" height="134" fill="url(#h42)"/><rect x="463" y="167" width="3.7" height="134" fill="url(#h43)"/><rect x="466" y="167" width="2.7" height="134" fill="url(#h44)"/><rect x="468" y="167" width="3.7" height="134" fill="url(#h45)"/><rect x="471" y="167" width="3.7" height="134" fill="url(#h46)"/><rect x="474" y="167" width="2.7" height="134" fill="url(#h47)"/><rect x="476" y="167" width="2.7" height="134" fill="url(#h48)"/><rect x="478" y="167" width="2.7" height="134" fill="url(#h49)"/><rect x="480" y="167" width="2.7" height="134" fill="url(#h50)"/><rect x="482" y="167" width="2.7" height="134" fill="url(#h51)"/><rect x="484" y="167" width="4.7" height="134" fill="url(#h52)"/><rect x="488" y="167" width="4.7" height="134" fill="url(#h53)"/><rect x="492" y="167" width="2.7" height="134" fill="url(#h54)"/><rect x="494" y="167" width="5.7" height="134" fill="url(#h55)"/><rect x="499" y="167" width="6.7" height="134" fill="url(#h56)"/><rect x="505" y="167" width="10.7" height="134" fill="url(#h57)"/><rect x="515" y="167" width="10.7" height="134" fill="url(#h58)"/><rect x="525" y="167" width="10.7" height="134" fill="url(#h59)"/><rect x="535" y="167" width="10.7" height="134" fill="url(#h60)"/><rect x="545" y="167" width="10.7" height="134" fill="url(#h61)"/><rect x="555" y="167" width="2.7" height="134" fill="url(#h62)"/><rect x="557" y="167" width="1.7" height="134" fill="url(#h63)"/><rect x="558" y="167" width="1.7" height="134" fill="url(#h64)"/><rect x="559" y="167" width="1.7" height="134" fill="url(#h65)"/><rect x="560" y="167" width="1.7" height="134" fill="url(#h66)"/><rect x="561" y="167" width="1.7" height="134" fill="url(#h67)"/><rect x="562" y="167" width="1.7" height="134" fill="url(#h68)"/><rect x="563" y="167" width="1.7" height="134" fill="url(#h69)"/><rect x="564" y="167" width="1.7" height="134" fill="url(#h70)"/><rect x="565" y="167" width="1.7" height="134" fill="url(#h71)"/><rect x="566" y="167" width="1.7" height="134" fill="url(#h72)"/><rect x="567" y="167" width="1.7" height="134" fill="url(#h73)"/><rect x="568" y="167" width="1.7" height="134" fill="url(#h74)"/><rect x="569" y="167" width="1.7" height="134" fill="url(#h75)"/><rect x="570" y="167" width="1.7" height="134" fill="url(#h76)"/><rect x="571" y="167" width="1.7" height="134" fill="url(#h77)"/><rect x="572" y="167" width="1.7" height="134" fill="url(#h78)"/><rect x="573" y="167" width="1.7" height="134" fill="url(#h79)"/><rect x="574" y="167" width="1.7" height="134" fill="url(#h80)"/><rect x="575" y="167" width="2.7" height="134" fill="url(#h81)"/><rect x="577" y="167" width="2.7" height="134" fill="url(#h82)"/><rect x="579" y="167" width="2.7" height="134" fill="url(#h83)"/><rect x="581" y="167" width="2.7" height="134" fill="url(#h84)"/><rect x="583" y="167" width="2.7" height="134" fill="url(#h85)"/><rect x="585" y="167" width="2.7" height="134" fill="url(#h86)"/><rect x="587" y="167" width="2.7" height="134" fill="url(#h87)"/><rect x="589" y="167" width="2.7" height="134" fill="url(#h88)"/><rect x="591" y="167" width="2.7" height="134" fill="url(#h89)"/><rect x="593" y="167" width="2.7" height="134" fill="url(#h90)"/><rect x="595" y="167" width="2.7" height="134" fill="url(#h91)"/><rect x="597" y="167" width="2.7" height="134" fill="url(#h92)"/><rect x="599" y="167" width="2.7" height="134" fill="url(#h93)"/><rect x="601" y="167" width="2.7" height="134" fill="url(#h94)"/><rect x="603" y="167" width="2.7" height="134" fill="url(#h95)"/><rect x="605" y="167" width="2.7" height="134" fill="url(#h96)"/><rect x="607" y="167" width="2.7" height="134" fill="url(#h97)"/><rect x="609" y="167" width="2.7" height="134" fill="url(#h98)"/><rect x="611" y="167" width="2.7" height="134" fill="url(#h99)"/><rect x="613" y="167" width="5.7" height="134" fill="url(#h100)"/><rect x="618" y="167" width="5.7" height="134" fill="url(#h101)"/><rect x="623" y="167" width="5.7" height="134" fill="url(#h102)"/><rect x="628" y="167" width="6.7" height="134" fill="url(#h103)"/><rect x="634" y="167" width="5.7" height="134" fill="url(#h104)"/><rect x="639" y="167" width="5.7" height="134" fill="url(#h105)"/><rect x="644" y="167" width="6.7" height="134" fill="url(#h106)"/><rect x="650" y="167" width="7.7" height="134" fill="url(#h107)"/><rect x="657" y="167" width="7.7" height="134" fill="url(#h108)"/><rect x="664" y="167" width="7.7" height="134" fill="url(#h109)"/><rect x="671" y="167" width="6.7" height="134" fill="url(#h110)"/><rect x="677" y="167" width="7.7" height="134" fill="url(#h111)"/><rect x="684" y="167" width="10.7" height="134" fill="url(#h112)"/><rect x="694" y="167" width="5.7" height="134" fill="url(#h113)"/><rect x="699" y="167" width="5.7" height="134" fill="url(#h114)"/><rect x="704" y="167" width="5.7" height="134" fill="url(#h115)"/><rect x="709" y="167" width="5.7" height="134" fill="url(#h116)"/><rect x="714" y="167" width="6.7" height="134" fill="url(#h117)"/><rect x="720" y="167" width="5.7" height="134" fill="url(#h118)"/><rect x="725" y="167" width="10.7" height="134" fill="url(#h119)"/><rect x="735" y="167" width="8.7" height="134" fill="url(#h120)"/><rect x="743" y="167" width="1.7" height="134" fill="url(#h121)"/><rect x="744" y="167" width="1.7" height="134" fill="url(#h122)"/><rect x="745" y="167" width="1.7" height="134" fill="url(#h123)"/><rect x="746" y="167" width="1.7" height="134" fill="url(#h124)"/><rect x="747" y="167" width="1.7" height="134" fill="url(#h125)"/><rect x="748" y="167" width="1.7" height="134" fill="url(#h126)"/><rect x="749" y="167" width="1.7" height="134" fill="url(#h127)"/><rect x="750" y="167" width="1.7" height="134" fill="url(#h128)"/><rect x="751" y="167" width="1.7" height="134" fill="url(#h129)"/><rect x="752" y="167" width="1.7" height="134" fill="url(#h130)"/><rect x="753" y="167" width="1.7" height="134" fill="url(#h131)"/><rect x="754" y="167" width="1.7" height="134" fill="url(#h132)"/><rect x="755" y="167" width="1.7" height="134" fill="url(#h133)"/><rect x="756" y="167" width="1.7" height="134" fill="url(#h134)"/><rect x="757" y="167" width="1.7" height="134" fill="url(#h135)"/><rect x="758" y="167" width="1.7" height="134" fill="url(#h136)"/><rect x="759" y="167" width="4.7" height="134" fill="url(#h137)"/><rect x="763" y="167" width="2.7" height="134" fill="url(#h138)"/><rect x="765" y="167" width="2.7" height="134" fill="url(#h139)"/><rect x="767" y="167" width="3.7" height="134" fill="url(#h140)"/><rect x="770" y="167" width="2.7" height="134" fill="url(#h141)"/><rect x="772" y="167" width="2.7" height="134" fill="url(#h142)"/><rect x="774" y="167" width="2.7" height="134" fill="url(#h143)"/><rect x="776" y="167" width="2.7" height="134" fill="url(#h144)"/><rect x="778" y="167" width="2.7" height="134" fill="url(#h145)"/><rect x="780" y="167" width="4.7" height="134" fill="url(#h146)"/><rect x="784" y="167" width="3.7" height="134" fill="url(#h147)"/><rect x="787" y="167" width="3.7" height="134" fill="url(#h148)"/><rect x="790" y="167" width="4.7" height="134" fill="url(#h149)"/><rect x="794" y="167" width="1.7" height="134" fill="url(#h150)"/><rect x="795" y="167" width="1.7" height="134" fill="url(#h151)"/><rect x="796" y="167" width="1.7" height="134" fill="url(#h152)"/><rect x="797" y="167" width="1.7" height="134" fill="url(#h153)"/><rect x="798" y="167" width="1.7" height="134" fill="url(#h154)"/><rect x="799" y="167" width="1.7" height="134" fill="url(#h155)"/><rect x="800" y="167" width="1.7" height="134" fill="url(#h156)"/><rect x="801" y="167" width="1.7" height="134" fill="url(#h157)"/><rect x="802" y="167" width="1.7" height="134" fill="url(#h158)"/><rect x="803" y="167" width="3.7" height="134" fill="url(#h159)"/><rect x="806" y="167" width="2.7" height="134" fill="url(#h160)"/><rect x="808" y="167" width="1.7" height="134" fill="url(#h161)"/><rect x="809" y="167" width="1.7" height="134" fill="url(#h162)"/><rect x="810" y="167" width="1.7" height="134" fill="url(#h163)"/><rect x="811" y="167" width="1.7" height="134" fill="url(#h164)"/><rect x="812" y="167" width="1.7" height="134" fill="url(#h165)"/><rect x="813" y="167" width="1.7" height="134" fill="url(#h166)"/><rect x="814" y="167" width="1.7" height="134" fill="url(#h167)"/><rect x="815" y="167" width="1.7" height="134" fill="url(#h168)"/><rect x="816" y="167" width="1.7" height="134" fill="url(#h169)"/><rect x="817" y="167" width="1.7" height="134" fill="url(#h170)"/><rect x="818" y="167" width="1.7" height="134" fill="url(#h171)"/><rect x="819" y="167" width="3.7" height="134" fill="url(#h172)"/><rect x="822" y="167" width="3.7" height="134" fill="url(#h173)"/><rect x="825" y="167" width="90.2" height="134" fill="url(#h174)"/><rect x="200" y="300" width="542.7" height="155" fill="url(#h175)"/><rect x="742" y="300" width="2.7" height="155" fill="url(#h176)"/><rect x="744" y="300" width="2.7" height="155" fill="url(#h177)"/><rect x="746" y="300" width="2.7" height="155" fill="url(#h178)"/><rect x="748" y="300" width="2.7" height="155" fill="url(#h179)"/><rect x="750" y="300" width="2.7" height="155" fill="url(#h180)"/><rect x="752" y="300" width="2.7" height="155" fill="url(#h181)"/><rect x="754" y="300" width="2.7" height="155" fill="url(#h182)"/><rect x="756" y="300" width="2.7" height="155" fill="url(#h183)"/><rect x="758" y="300" width="157.9" height="155" fill="url(#h184)"/><rect x="200.1" y="110.0" width="714.1" height="57.6" fill="#d3d3d3"/><rect x="227.3" y="110.0" width="4" height="10" fill="#000"/><text x="229.25" y="139.20" font-size="14.60" textLength="11.99" lengthAdjust="spacingAndGlyphs" text-anchor="middle" fill="#1a1a1a">M</text><rect x="271.9" y="110.0" width="4" height="10" fill="#f00"/><text x="273.89" y="139.20" font-size="14.60" textLength="10.40" lengthAdjust="spacingAndGlyphs" text-anchor="middle" fill="#f00">N</text><rect x="316.5" y="110.0" width="4" height="10" fill="#000"/><text x="318.52" y="139.20" font-size="14.60" textLength="11.99" lengthAdjust="spacingAndGlyphs" text-anchor="middle" fill="#1a1a1a">M</text><rect x="361.1" y="110.0" width="4" height="10" fill="#f00"/><text x="363.15" y="139.20" font-size="14.60" textLength="10.40" lengthAdjust="spacingAndGlyphs" text-anchor="middle" fill="#f00">N</text><rect x="405.8" y="110.0" width="4" height="10" fill="#000"/><text x="407.78" y="139.20" font-size="14.60" textLength="11.99" lengthAdjust="spacingAndGlyphs" text-anchor="middle" fill="#1a1a1a">M</text><rect x="450.4" y="110.0" width="4" height="10" fill="#f00"/><text x="452.41" y="139.20" font-size="14.60" textLength="10.40" lengthAdjust="spacingAndGlyphs" text-anchor="middle" fill="#f00">N</text><rect x="495.0" y="110.0" width="4" height="10" fill="#000"/><text x="497.04" y="139.20" font-size="14.60" textLength="11.99" lengthAdjust="spacingAndGlyphs" text-anchor="middle" fill="#1a1a1a">M</text><rect x="539.7" y="110.0" width="4" height="10" fill="#f00"/><text x="541.67" y="139.20" font-size="14.60" textLength="10.40" lengthAdjust="spacingAndGlyphs" text-anchor="middle" fill="#f00">N</text><rect x="584.3" y="110.0" width="4" height="10" fill="#000"/><text x="586.30" y="139.20" font-size="14.60" textLength="11.99" lengthAdjust="spacingAndGlyphs" text-anchor="middle" fill="#1a1a1a">M</text><rect x="628.9" y="110.0" width="4" height="10" fill="#f00"/><text x="630.94" y="139.20" font-size="14.60" textLength="10.40" lengthAdjust="spacingAndGlyphs" text-anchor="middle" fill="#f00">N</text><rect x="673.6" y="110.0" width="4" height="10" fill="#000"/><text x="675.57" y="139.20" font-size="14.60" textLength="11.99" lengthAdjust="spacingAndGlyphs" text-anchor="middle" fill="#1a1a1a">M</text><rect x="718.2" y="110.0" width="4" height="10" fill="#f00"/><text x="720.20" y="139.20" font-size="14.60" textLength="10.40" lengthAdjust="spacingAndGlyphs" text-anchor="middle" fill="#f00">N</text><rect x="762.8" y="110.0" width="4" height="10" fill="#000"/><text x="764.83" y="139.20" font-size="14.60" textLength="11.99" lengthAdjust="spacingAndGlyphs" text-anchor="middle" fill="#1a1a1a">M</text><rect x="807.5" y="110.0" width="4" height="10" fill="#f00"/><text x="809.46" y="139.20" font-size="14.60" textLength="10.40" lengthAdjust="spacingAndGlyphs" text-anchor="middle" fill="#f00">N</text><rect x="471.2" y="110.0" width="1.6" height="6" fill="#fff"/><path d="M95.8,227.3 100.4,227 104.4,225 109.4,218.5 113.4,215 118.4,213.8 122.4,210 127.4,201 130.4,196.5 132.8,194.6 136.4,195.6 140.4,197.6 144.4,195.6 148,194.6 150.4,196.5 153.4,201 158.4,209.5 162.4,213 167.4,214.5 171.4,218 176.4,224.5 180.4,226.8 185.1,227.3 189.7,227 193.7,225 198.7,218.5 202.7,215 207.7,213.8 211.7,210 216.7,201 219.7,196.5 222.1,194.6 225.7,195.6 229.7,197.6 233.7,195.6 237.3,194.6 239.7,196.5 242.7,201 247.7,209.5 251.7,213 256.7,214.5 260.7,218 265.7,224.5 269.7,226.8 274.3,227.3 278.9,227 282.9,225 287.9,218.5 291.9,215 296.9,213.8 300.9,210 305.9,201 308.9,196.5 311.3,194.6 314.9,195.6 318.9,197.6 322.9,195.6 326.5,194.6 328.9,196.5 331.9,201 336.9,209.5 340.9,213 345.9,214.5 349.9,218 354.9,224.5 358.9,226.8 363.6,227.3 368.2,227 372.2,225 377.2,218.5 381.2,215 386.2,213.8 390.2,210 395.2,201 398.2,196.5 400.6,194.6 404.2,195.6 408.2,197.6 412.2,195.6 415.8,194.6 418.2,196.5 421.2,201 426.2,209.5 430.2,213 435.2,214.5 439.2,218 444.2,224.5 448.2,226.8 452.8,227.3 457.4,227 461.4,225 466.4,218.5 470.4,215 475.4,213.8 479.4,210 484.4,201 487.4,196.5 489.8,194.6 493.4,195.6 497.4,197.6 501.4,195.6 505,194.6 507.4,196.5 510.4,201 515.4,209.5 519.4,213 524.4,214.5 528.4,218 533.4,224.5 537.4,226.8 542.1,227.3 546.7,227 550.7,225 555.7,218.5 559.7,215 564.7,213.8 568.7,210 573.7,201 576.7,196.5 579.1,194.6 582.7,195.6 586.7,197.6 590.7,195.6 594.3,194.6 596.7,196.5 599.7,201 604.7,209.5 608.7,213 613.7,214.5 617.7,218 622.7,224.5 626.7,226.8 631.4,227.3 636,227 640,225 645,218.5 649,215 654,213.8 658,210 663,201 666,196.5 668.4,194.6 672,195.6 676,197.6 680,195.6 683.6,194.6 686,196.5 689,201 694,209.5 698,213 703,214.5 707,218 712,224.5 716,226.8 720.6,227.3 725.2,227 729.2,225 734.2,218.5 738.2,215 743.2,213.8 747.2,210 752.2,201 755.2,196.5 757.6,194.6 761.2,195.6 765.2,197.6 769.2,195.6 772.8,194.6 775.2,196.5 778.2,201 783.2,209.5 787.2,213 792.2,214.5 796.2,218 801.2,224.5 805.2,226.8 809.9,227.3 814.5,227 818.5,225 823.5,218.5 827.5,215 832.5,213.8 836.5,210 841.5,201 844.5,196.5 846.9,194.6 850.5,195.6 854.5,197.6 858.5,195.6 862.1,194.6 864.5,196.5 867.5,201 872.5,209.5 876.5,213 881.5,214.5 885.5,218 890.5,224.5 894.5,226.8 899.2,227.3 903.8,227 907.8,225 912.8,218.5 916.8,215 921.8,213.8 925.8,210 930.8,201 933.8,196.5 936.2,194.6 939.8,195.6 943.8,197.6 947.8,195.6 951.4,194.6 953.8,196.5 956.8,201 961.8,209.5 965.8,213 970.8,214.5 974.8,218 979.8,224.5 983.8,226.8" fill="none" stroke="#000" stroke-width="2.5" stroke-dasharray="7.9 3.2" stroke-linejoin="round"/><rect x="555.9" y="110.0" width="3.2" height="117.5" fill="#fff"/><line x1="824.9" y1="110.0" x2="824.9" y2="454.7" stroke="#1f77b4" stroke-width="2.08" stroke-dasharray="2.08 3.43"/></g><text x="0" y="0" font-size="66.15" textLength="266.60" lengthAdjust="spacingAndGlyphs" fill-opacity="0.12" transform="translate(887.50 421.50) rotate(-90)">Forecast</text><rect x="200.1" y="110.0" width="714.1" height="344.7" fill="none" stroke="#000" stroke-width="2.08"/><path d="M200.1,397.2h5.5M200.1,339.8h5.5M200.1,282.4h5.5M200.1,224.9h5.5M200.1,167.4h5.5" stroke="#000" stroke-width="1.1" fill="none"/><path d="M914.2,397.2h-5.5M914.2,339.8h-5.5M914.2,282.4h-5.5M914.2,224.9h-5.5M914.2,167.4h-5.5" stroke="#000" stroke-width="1.1" fill="none"/><path d="M248.5,454.7v-5.5M337.7,454.7v-5.5M427.0,454.7v-5.5M516.2,454.7v-5.5M605.5,454.7v-5.5M694.8,454.7v-5.5M784.0,454.7v-5.5M873.3,454.7v-5.5" stroke="#000" stroke-width="1.1" fill="none"/><text x="195.00" y="462.30" font-size="20.58" textLength="12.47" lengthAdjust="spacingAndGlyphs" text-anchor="end">2</text><text x="195.00" y="404.85" font-size="20.58" textLength="12.47" lengthAdjust="spacingAndGlyphs" text-anchor="end">3</text><text x="195.00" y="347.40" font-size="20.58" textLength="12.47" lengthAdjust="spacingAndGlyphs" text-anchor="end">4</text><text x="195.00" y="289.95" font-size="20.58" textLength="12.47" lengthAdjust="spacingAndGlyphs" text-anchor="end">5</text><text x="195.00" y="232.50" font-size="20.58" textLength="12.47" lengthAdjust="spacingAndGlyphs" text-anchor="end">6</text><text x="195.00" y="175.05" font-size="20.58" textLength="12.47" lengthAdjust="spacingAndGlyphs" text-anchor="end">7</text><text x="195.00" y="117.60" font-size="20.58" textLength="12.47" lengthAdjust="spacingAndGlyphs" text-anchor="end">8</text><text x="0" y="0" font-size="25.20" textLength="25.37" lengthAdjust="spacingAndGlyphs" text-anchor="middle" transform="translate(173.00 285.80) rotate(-90)">L*</text><g><text x="204.50" y="92.50" font-size="25.20" textLength="57.98" lengthAdjust="spacingAndGlyphs">&gt;2.0</text><text x="270.07" y="92.50" font-size="25.20" textLength="51.63" lengthAdjust="spacingAndGlyphs">MeV</text><text x="329.29" y="92.50" font-size="25.20" textLength="97.94" lengthAdjust="spacingAndGlyphs">Electron</text><text x="434.81" y="92.50" font-size="25.20" textLength="49.63" lengthAdjust="spacingAndGlyphs">Flux</text><text x="492.03" y="92.50" font-size="25.20" textLength="23.99" lengthAdjust="spacingAndGlyphs">at</text><text x="523.62" y="92.50" font-size="25.20" textLength="30.38" lengthAdjust="spacingAndGlyphs">88</text></g><text x="560.60" y="86.20" font-size="15.75" textLength="7.50" lengthAdjust="spacingAndGlyphs">°</text><g><text x="582.00" y="92.50" font-size="25.20" textLength="58.56" lengthAdjust="spacingAndGlyphs">pitch</text><text x="648.04" y="92.50" font-size="25.20" textLength="65.29" lengthAdjust="spacingAndGlyphs">angle</text><text x="720.82" y="92.50" font-size="25.20" textLength="9.18" lengthAdjust="spacingAndGlyphs">(</text></g><text x="741.30" y="92.50" font-size="25.20" textLength="33.20" lengthAdjust="spacingAndGlyphs">cm</text><text x="777.50" y="83.20" font-size="17.64" textLength="22.00" lengthAdjust="spacingAndGlyphs">−2</text><text x="807.00" y="92.50" font-size="25.20" textLength="10.80" lengthAdjust="spacingAndGlyphs">s</text><text x="820.00" y="83.20" font-size="17.64" textLength="22.50" lengthAdjust="spacingAndGlyphs">−1</text><text x="848.80" y="92.50" font-size="25.20" textLength="20.00" lengthAdjust="spacingAndGlyphs">sr</text><text x="871.30" y="83.20" font-size="17.64" textLength="22.00" lengthAdjust="spacingAndGlyphs">−1</text><text x="906.30" y="92.50" font-size="25.20" textLength="9.36" lengthAdjust="spacingAndGlyphs">)</text><rect x="959.1" y="110.0" width="17.4" height="344.7" fill="url(#cb)" stroke="#000" stroke-width="2.08"/><path d="M977.5,454.7h5.0M977.5,397.2h5.0M977.5,339.8h5.0M977.5,282.4h5.0M977.5,224.9h5.0M977.5,167.4h5.0M977.5,110.0h5.0" stroke="#000" stroke-width="1.1" fill="none"/><path d="M977.5,437.4h5.0M977.5,427.3h5.0M977.5,420.1h5.0M977.5,414.5h5.0M977.5,410.0h5.0M977.5,406.1h5.0M977.5,402.8h5.0M977.5,399.9h5.0M977.5,380.0h5.0M977.5,369.8h5.0M977.5,362.7h5.0M977.5,357.1h5.0M977.5,352.5h5.0M977.5,348.7h5.0M977.5,345.4h5.0M977.5,342.4h5.0M977.5,322.5h5.0M977.5,312.4h5.0M977.5,305.2h5.0M977.5,299.6h5.0M977.5,295.1h5.0M977.5,291.2h5.0M977.5,287.9h5.0M977.5,285.0h5.0M977.5,265.1h5.0M977.5,254.9h5.0M977.5,247.8h5.0M977.5,242.2h5.0M977.5,237.6h5.0M977.5,233.8h5.0M977.5,230.5h5.0M977.5,227.5h5.0M977.5,207.6h5.0M977.5,197.5h5.0M977.5,190.3h5.0M977.5,184.7h5.0M977.5,180.2h5.0M977.5,176.3h5.0M977.5,173.0h5.0M977.5,170.1h5.0M977.5,150.2h5.0M977.5,140.0h5.0M977.5,132.9h5.0M977.5,127.3h5.0M977.5,122.7h5.0M977.5,118.9h5.0M977.5,115.6h5.0M977.5,112.6h5.0" stroke="#000" stroke-width="1.0" fill="none"/><text x="987.80" y="462.30" font-size="20.58" textLength="24.94" lengthAdjust="spacingAndGlyphs">10</text><text x="1013.24" y="454.46" font-size="13.79" textLength="8.36" lengthAdjust="spacingAndGlyphs">0</text><text x="987.80" y="404.85" font-size="20.58" textLength="24.94" lengthAdjust="spacingAndGlyphs">10</text><text x="1013.24" y="397.01" font-size="13.79" textLength="8.36" lengthAdjust="spacingAndGlyphs">1</text><text x="987.80" y="347.40" font-size="20.58" textLength="24.94" lengthAdjust="spacingAndGlyphs">10</text><text x="1013.24" y="339.56" font-size="13.79" textLength="8.36" lengthAdjust="spacingAndGlyphs">2</text><text x="987.80" y="289.95" font-size="20.58" textLength="24.94" lengthAdjust="spacingAndGlyphs">10</text><text x="1013.24" y="282.11" font-size="13.79" textLength="8.36" lengthAdjust="spacingAndGlyphs">3</text><text x="987.80" y="232.50" font-size="20.58" textLength="24.94" lengthAdjust="spacingAndGlyphs">10</text><text x="1013.24" y="224.66" font-size="13.79" textLength="8.36" lengthAdjust="spacingAndGlyphs">4</text><text x="987.80" y="175.05" font-size="20.58" textLength="24.94" lengthAdjust="spacingAndGlyphs">10</text><text x="1013.24" y="167.21" font-size="13.79" textLength="8.36" lengthAdjust="spacingAndGlyphs">5</text><text x="987.80" y="117.60" font-size="20.58" textLength="24.94" lengthAdjust="spacingAndGlyphs">10</text><text x="1013.24" y="109.76" font-size="13.79" textLength="8.36" lengthAdjust="spacingAndGlyphs">6</text><rect x="824.9" y="478.0" width="89.3" height="343.8" fill="#d3d3d3"/><text x="0" y="0" font-size="66.15" textLength="266.60" lengthAdjust="spacingAndGlyphs" fill-opacity="0.12" transform="translate(887.50 791.50) rotate(-90)">Forecast</text><g clip-path="url(#c2)" fill="none" stroke-linejoin="round"><path d="M200.1,668 200.5,673.2 201.2,678.1 201.8,683.3 202.5,687.8 203.2,688.2 203.9,688.1 204.6,689.4 205.3,689.4 206,691.4 206.7,692 207.3,695.3 207.9,694.3 208.5,695.5 209.1,698.7 209.7,700 210.3,701.1 210.9,702.4 211.5,700.9 212.2,702.8 212.8,704.3 213.4,700.7 214.1,702.6 214.7,700.1 215.3,701.4 215.9,700.6 216.6,703.8 217.2,704.5 217.8,749.5 218.4,740.1 219,741.7 219.7,736.9 220.3,731.3 220.9,727.5 221.6,724.1 222.3,735.6 223.1,742.4 223.8,748 224.5,752.6 225.1,742.5 225.7,743.2 226.4,737.6 227,734.7 227.6,733.8 228.2,738.3 228.9,732.7 229.5,736.2 230.2,740.3 230.8,738 231.5,728.8 232.2,723 232.9,716 233.6,715.9 234.3,715.5 234.9,712 235.6,714.8 236.3,717.5 237,713.9 237.7,711.3 238.3,718.4 239,717.7 239.7,716.9 240.3,725.2 241,723 241.6,718.8 242.3,723.3 243,726.2 243.6,730.5 244.3,730.7 244.9,736.4 245.6,736.5 246.2,741.9 246.9,742.1 247.5,745.5 248.1,735.8 248.8,737.1 249.4,732.8 250,732.9 250.6,730.6 251.2,724.1 251.8,723.2 252.4,721.6 253,721.7 253.6,719.3 254.2,710.5 254.8,710.8 255.5,713.7 256.2,722.3 256.9,725.4 257.5,715.3 258.1,715 258.8,711.4 259.4,709.6 260,702.4 260.7,705.1 261.4,704.6 262.1,706.6 262.7,700.5 263.4,695.3 264,692.1 264.7,684.3 265.3,679.4 265.9,677.7 266.6,677.2 267.2,675.4 267.8,674.2 268.5,677.4 269.1,679.7 269.8,684.4 270.5,687.8 271.1,688 271.7,690.7 272.4,690.8 273,690.7 273.6,692.3 274.2,691.7 274.8,694.3 275.5,693.6 276.1,695.2 276.7,695.1 277.4,695.1 278,699.6 278.7,698 279.4,699.2 280,704.3 280.7,705 281.3,709.2 282,710.8 282.6,715.4 283.3,708.2 283.9,708.2 284.6,709.6 285.2,709.9 285.9,708 286.6,707.6 287.2,707.6 287.8,707.5 288.4,705.5 289.1,701 289.7,701.4 290.3,705 290.9,709.1 291.5,710.3 292.1,717.2 292.7,718 293.3,727 293.9,728.5 294.5,731.7 295.1,729.4 295.8,724.7 296.4,723.5 297,721.2 297.7,718 298.4,722.8 299,729.9 299.7,724.3 300.4,733.8 301.1,749.8 301.8,758.9 302.5,756.5 303.2,775.4 303.9,777.7 304.6,783 305.3,803.7 306,809 307,822 307.4,823.8 307.8,802.8 308.2,814.6 308.7,821.7 309.1,779.6 309.5,823.8 309.9,811.2 310.3,793.3 310.8,778.6 311.2,774 311.6,806.9 312,823.8 312.4,809 312.9,797.4 313.3,777.1 313.7,821.6 314.1,768.2 314.5,788.9 315,778 315.4,771.1 315.8,804 316.2,807.8 316.6,778.1 317.1,771.4 317.5,781.9 317.9,792.3 318.3,782.7 318.7,786.3 319.2,774.6 319.6,818.8 320,813.5 320.4,774.5 320.8,805.3 321.3,789.1 321.7,781.3 322.1,810.4 322.5,795.3 322.9,788.9 323.4,780.2 323.8,775.6 324.2,782.9 324.6,823.1 325,819.3 325.5,798.6 325.9,775.3 326.3,818.9 326.7,779.3 327.1,785.9 327.6,814.9 328,785.6 328.4,813.5 328.8,819.8 329.2,809.3 329.7,815.4 330.1,795.7 330.5,819.9 330.9,804.5 331.3,819.2 331.8,783.2 332.2,783.7 332.6,823.8 333,769.8 333.4,799.2 333.9,823.6 334.3,779.5 334.7,792.3 335.1,778 335.5,823.6 336,787.8 336.4,802.2 336.8,820.7 337.2,810.8 337.6,790.7 338.1,803.9 338.5,821.4 338.9,781.9 339.3,788 339.5,777.7 340.2,778.8 340.9,771.3 341.6,760.5 342.2,764.7 342.9,760.5 343.6,761 344.2,762.1 344.9,767.5 345.5,756.3 346.1,750 346.8,746.5 347.4,749.4 348,747 348.6,741.3 349.3,744.4 349.9,742.1 350.5,737 351.2,744.7 351.9,743.7 352.5,743 353.1,736.5 353.8,739.3 354.5,736.2 355.1,735.9 355.7,734.2 356.3,734.1 357,730.5 357.6,729.7 358.2,737 358.8,734 359.1,822 359.5,822 359.8,734 360.6,733.3 361.4,733.8 362,734.8 362.7,737.8 363.3,728.8 363.9,732.3 364.5,736 365.2,737 365.8,734.7 366.4,739.9 367.1,737.3 367.7,736.9 368.3,733.1 368.9,734.6 369.6,741.4 370.2,740.7 370.8,732.5 371.4,745 372,742.8 372.7,746.1 373.3,740.1 373.9,742.1 374.5,742.7 375.1,741.2 375.7,757.8 376.3,748.6 376.9,757.9 377.5,750.1 378.1,754.7 378.7,762.1 379.4,759.5 380,772.6 380.7,787 381.3,788 382.3,822 382.7,805.3 383.1,778.1 383.5,773.9 384,786.2 384.4,799.6 384.8,804.8 385.2,808.3 385.6,809.4 386.1,796.6 386.5,800.3 386.9,793.6 387.3,819.9 387.7,771.9 388.2,806.1 388.6,811.2 389,785.5 389.4,798.4 389.8,799.3 390.3,823.8 390.7,789.9 391.1,776.7 391.5,801.7 391.9,819.1 392.4,815.9 392.8,804.4 393.2,812.7 393.6,814.1 394,779.2 394.5,809.5 394.9,789.4 395.3,808.8 395.7,791 396.1,779.5 396.6,812.9 397,792.7 397.4,823.8 397.8,815.9 398.2,789.4 398.7,783.4 399.1,783.1 399.5,790.7 399.9,785.6 400.3,776.8 400.8,790 401.2,808.1 401.6,818.5 402,822.5 402.4,810.5 402.9,787.1 403.3,781.9 403.7,819.2 404.1,807.8 404.5,805.6 405,793.5 405.4,813.7 405.8,820.3 406.2,780 406.6,791.8 407.1,790.5 407.5,820.4 407.9,816.9 408.3,817.6 408.7,789.9 409.2,812.5 409.6,782.1 410,804.6 410.4,790.3 410.8,792.3 411.3,820.8 411.7,809.1 412.1,813.7 412.5,777.4 412.6,773.5 413.3,770 414,749.3 414.7,747.4 415.4,748.6 416.1,759.3 416.8,763 417.4,769.7 418,774.5 418.7,800.2 419.3,807.2 419.9,814 421,773.5 421.6,772.3 422.2,763.6 422.9,767.2 423.5,757.4 424.1,754.7 424.7,758 425.4,747.9 426,746.7 426.6,749.7 427.2,744.5 427.9,748.6 428.5,745.4 429.1,739.4 429.8,741.7 430.4,740 431,738.3 431.7,742.5 432.3,736.5 432.9,736.8 433.5,742.3 434.2,745.5 434.8,744.2 435.4,736.9 436.1,737.1 436.7,735.9 437.3,740.4 437.9,733.8 438.6,730.1 439.2,732.9 439.8,733.2 440.4,728.2 441,724.8 441.7,724.6 442.3,730.4 442.9,727.5 443.6,723.4 444.2,723.4 444.9,722.6 445.5,721.9 446.2,717.5 446.9,717.8 447.5,712.6 448.2,712.9 448.8,710.2 449.4,706.9 450.1,709.6 450.7,705.3 451.3,703.5 452,703.4 452.7,705.6 453.4,707.2 454.1,710.5 454.8,706.9 455.5,711.8 456.1,709.3 456.8,710.7 457.4,717.2 458.1,713.5 458.8,710.9 459.4,712.7 460.1,715.5 460.7,710.8 461.3,711.1 461.9,711.7 462.5,716.3 463.1,715.5 463.7,716.8 464.4,714.7 465,721.8 465.6,722.2 466.2,720.1 466.8,721.3 467.4,714.8 468,721.2 468.6,724 469.3,722.6 469.9,725.4 470.6,727.1 471.2,725 471.9,721.9 472.5,729.1 473.2,726.6 473.8,728.9 474.5,728.9 475.1,730.7 475.8,725.1 476.4,733.8 477,740.7 477.7,740 478.4,745.8 479,752 479.6,747 480.3,742 481,748.2 481.6,754.7 482.2,752.9 482.8,759.8 483.5,766.4 484.1,759.4 484.7,773.5 485.8,746.3 486.8,822 487.5,823.8 488.2,810.2 488.9,822 490,794.4 490.8,775.1 491.6,752.6 492.2,757.3 492.9,761.5 493.5,767.9 494.1,773.5 494.9,794.2 495.6,822 496.3,817.2 497,808.9 497.6,821.8 498.3,823.8 499,822 500,736.9 500.6,745.9 501.2,745.5 501.9,745.1 502.5,744.2 503.1,747.2 503.7,762.4 504.4,761.5 505,767.3 505.6,773.5 506.3,778.8 507,788 507.7,794.4 508.4,788.3 509,787.1 509.7,777.8 510.4,778.7 511,790.1 511.7,773.6 512.3,769.4 513,767.2 513.6,769.3 514.2,769.5 514.9,759.8 515.5,763.7 516.1,768.6 516.7,764.8 517.3,763.5 518,769.7 518.6,758.4 519.2,761 519.9,756.3 520.6,748.7 521.3,751.7 522,733.4 522.7,733.3 523.4,730.6 524,731.5 524.6,738.4 525.3,741 525.9,746.7 526.5,744.2 527.1,738.2 527.8,747.5 528.4,743.5 529.1,742.2 529.7,747.1 530.4,741.5 531,737.1 531.7,744 532.3,739.7 533,743.2 533.6,747.5 534.3,747.4 534.9,746.3 535.5,753.6 536.1,747.2 536.7,742.5 537.3,746.6 538,746.7 538.6,746.3 539.2,754.2 539.8,750.4 540.4,745.4 541,758 541.6,755.3 542.2,758.3 542.9,758 543.5,761.3 544.1,759.4 544.7,766 545.3,761 546,763.6 546.6,764 547.3,764.7 548,756.2 548.7,763.1 549.3,763.2 550,765 550.4,768.7 550.9,780.1 551.4,757.3 551.9,764.7 552.4,761.3 552.9,761.9 553.4,761.2 553.9,774.8 554.4,758.9 554.9,760.3 555.4,757.8 555.9,766.8 556.4,759.3 556.9,750.2 557.4,779.3 557.9,752.8 558.4,773.4 558.9,782.9 559.4,762.4 559.9,760.6 560.4,768.8 560.9,763.2 561.4,769.5 561.9,773.1 562.4,766.3 562.9,783.3 563.4,764.8 563.9,767.9 564.4,769.5 564.9,758.2 565.4,783.8 565.9,769 566.4,781.3 566.9,766.1 567.4,773 567.9,769.5 568.4,768 568.9,757.9 569.4,774 569.9,765.1 570.4,784 570.9,776.1 571.4,783.2 571.9,772.9 572.4,767.8 572.9,756.4 573.4,766.6 573.9,768.5 574.4,769.2 574.9,767.3 575.4,762.8 575.9,789.5 576.4,767.5 576.9,763.3 577.4,765.5 577.9,755.9 578.4,761.9 578.9,798 579.4,764.1 579.9,776.5 580.4,770.3 580.9,769.4 581.4,762.7 581.9,767.5 582.4,762.5 582.9,775.9 583.4,774.1 583.9,771.7 584.4,760.4 584.9,764.5 585.4,780.6 585.9,783.5 586.4,772.9 586.9,770.6 587.4,766.4 587.9,748.9 588.4,758.7 588.9,765.2 589.4,770 589.9,759.7 590.4,766.8 590.9,765.8 591.4,765.9 591.9,767.1 592.9,756.8 593.5,759.2 594.2,761.1 594.8,754.5 595.5,754.7 596.1,754.8 596.7,755.7 597.4,751.1 598,759.4 598.6,752.8 599.3,756.4 599.9,750.5 600.6,755.4 601.2,753.6 602.3,735.9 602.9,733.6 603.5,727.5 604.2,731.2 604.8,722.7 605.4,718.1 606,721.8 606.6,718.8 607.2,713.8 607.8,713.7 608.4,714.8 609,713 609.7,712.1 610.3,710.5 610.9,706.2 611.5,708.9 612.1,703.8 612.7,707.6 613.3,707.5 614,704.4 614.6,703.6 615.3,703.7 615.9,703.7 616.6,699.7 617.2,698.4 617.9,698.7 618.5,696.3 619.2,697.2 619.8,700.5 620.5,695.4 621.1,696.2 621.7,698.7 622.3,696.8 623,701.1 623.6,701.5 624.2,703.5 624.8,701.3 625.5,700.3 626.1,700 626.7,695.4 627.4,693.2 628,689.7 628.6,689.6 629.2,686.5 629.9,685.7 630.5,682.6 631.1,683.4 631.7,686.3 632.4,682.7 633,685.5 633.6,686.7 634.2,686.1 634.8,683 635.5,680.8 636.1,679.7 636.7,678.4 637.4,678 638.1,681.1 638.8,685.2 639.5,683.6 640.1,683.2 640.7,678.7 641.4,677.3 642,676.1 642.6,674.8 643.3,678.2 643.9,678.1 644.6,680.4 645.2,684.5 645.9,686.6 646.5,687.3 647.2,689.9 647.8,689.5 648.4,690 649.1,692.1 649.7,690.9 650.3,695.1 651,700.8 651.6,702.8 652.3,709.5 653,712.9 653.6,711.3 654.3,704 655,694.7 655.6,690.9 656.2,691.8 656.8,691.9 657.5,689.4 658.1,689 658.7,689.9 659.4,693.3 660,694.5 660.7,703 661.3,699.4 662,705.2 662.6,710.4 663.3,714.5 663.9,712.2 664.5,711.3 665.1,709.8 665.7,707 666.3,707.9 666.9,699.8 667.5,702.1 668.1,700.3 668.7,699.2 669.3,700.7 669.9,701 670.5,699.1 671.1,699.6 671.8,702.2 672.4,701.6 673,699.8 673.6,704.7 674.2,705.3 674.8,698.7 675.4,701.4 676,700.6 676.7,702.9 677.4,698.7 678,696.5 678.6,694.5 679.3,692.8 680,691.9 680.6,690.9 681.3,689.8 681.9,691 682.6,689.3 683.2,688.8 683.9,687.5 684.6,688.5 685.2,687.1 685.9,687.8 686.5,687.1 687.1,688 687.8,686.7 688.4,686.3 689,685.6 689.6,684.8 690.2,684 690.9,683.3 691.5,684 692.1,682.6 692.7,680.2 693.4,682.1 694,679.5 694.6,677.5 695.2,676.8 695.9,675.5 696.5,675.4 697.1,673.3 697.8,674.5 698.4,672.1 699,670.9 699.6,668.8 700.3,670.3 700.9,668.5 701.5,670.5 702.1,671.5 702.7,670.7 703.3,668 704,668.4 704.6,671.2 705.2,669.1 705.8,668.4 706.4,669.4 707,670.8 707.7,669.1 708.3,667.4 708.9,666.9 709.5,667 710.1,666.9 710.7,665.1 711.3,664.2 711.9,665.2 712.5,663.7 713.2,664.4 713.8,664.2 714.4,666.6 715,662.4 715.6,662.9 716.2,662.7 716.8,662.9 717.4,663.9 718,665 718.6,663.5 719.2,663.5 719.9,662.8 720.5,664 721.1,666.1 721.7,665.9 722.3,665 722.9,666.1 723.5,666.9 724.1,667.1 724.8,667.8 725.4,666.7 726.1,667.2 726.7,665.5 727.3,666.5 728,670 728.6,665.6 729.2,667.9 729.9,668.8 730.5,668.2 731.2,667.9 731.8,669 732.4,669.7 733,670.5 733.6,671.1 734.2,669.7 734.8,672.5 735.4,672.4 736,674.2 736.6,673.7 737.2,674.8 737.8,675.4 738.4,675.8 739,674.3 739.6,676.2 740.2,675.2 740.8,678.7 741.4,680.8 742.1,683.2 742.7,683.4 743.3,685.7 743.9,686.8 744.6,689.2 745.2,687.8 745.9,691 746.5,692 747.1,695 747.7,698.9 748.4,700 749,705.2 749.6,710.8 750.4,732.7 751.1,754.7 752.3,715 752.9,724.5 753.5,732 754.1,735.6 754.7,742.1 755.3,746.4 755.9,756.8 756.9,822 757,758.9 757.6,760.8 758.2,757.8 758.8,761.7 759.4,767 760,758.9 760.6,762.9 761.3,759.7 761.9,766.9 762.6,767.6 763.2,779.8 763.6,822 764.2,812.7 764.9,822 765.3,777.7 765.9,781.4 766.5,772.2 767.2,760 767.8,767.6 768.4,761 769,767.3 769.6,759.9 770.2,758.6 770.8,760.5 771.4,763.8 772,765.8 772.6,763 773.3,776.1 774,783.7 774.7,784 775.3,758.9 775.9,762.6 776.5,761.5 777.1,756.5 777.7,745.3 778.3,749.6 778.9,748.4 779.5,748.6 780.2,744.8 780.8,748.9 781.4,742.8 782,739.6 782.7,747.7 783.3,743.6 783.9,740.9 784.6,742.4 785.2,738 785.8,739.2 786.4,734.1 787.1,722.5 787.7,725.8 788.3,725.4 788.9,723.2 789.5,720.8 790.1,723.4 790.7,725.3 791.3,719.7 792,717.1 792.6,724.7 793.2,717.3 793.8,714.4 794.4,717.3 795,716.9 795.6,715 796.2,714.6 796.9,719.8 797.5,717.8 798.1,717.9 798.8,722.3 799.4,725.4 800,722.7 800.6,726.9 801.3,727 801.9,728.6 802.5,736.4 803.1,724.7 803.7,730.1 804.3,724.9 804.9,723.9 805.5,725.4 806.2,725 806.8,725.1 807.4,721.6 808,718.2 808.6,717.6 809.2,718.1 809.9,720.6 810.5,722 811.1,725.5 811.8,724 812.5,727 813.1,729.6 813.8,726.8 814.4,727.5 815,722.5 815.7,722.9 816.3,721.6 816.9,730.1 817.5,722.4 818.2,728 818.8,725.6 819.4,728.3 820.1,725.7 820.7,722.3 821.4,723.6 822.1,724.8 822.8,727.3 823.5,729.1 824.2,728.4 824.9,731.7" stroke="#000" stroke-width="2.45"/><path d="M200.1,648 201.6,648.2 203.1,648.4 204.6,648.7 206.1,649 207.6,649.3 209.1,649.8 210.6,651.1 212.1,653 213.6,655.3 215.1,658.3 216.6,661.7 218.1,665.1 219.6,668.8 221.1,670.9 222.6,670.7 224.1,669.9 225.6,669.4 227.1,669 228.6,669.3 230.1,670.6 231.6,672.1 233.1,673.6 234.6,675.2 236.1,676.4 237.6,676.6 239.1,675.4 240.6,673.3 242.1,669.5 243.6,665 245.1,660.9 246.6,658.3 248.1,656.4 249.6,655.1 251.1,654.8 252.6,654.8 254.1,654.8 255.6,654.8 257.1,654.8 258.6,653.7 260.1,651.6 261.6,649.8 263.1,647.7 264.6,645.7 266.1,644.4 267.6,643.9 269.1,643.5 270.6,643.2 272.1,643 273.6,642.9 275.1,642.9 276.6,643 278.1,643.2 279.6,643.4 281.1,644.1 282.6,645.7 284.1,647.7 285.6,649.8 287.1,652.6 288.6,655.9 290.1,659.1 291.6,661.7 293.1,663.3 294.6,664.4 296.1,665.3 297.6,666.5 299.1,668.5 300.6,671.2 302.1,674.6 303.6,678.6 305.1,683.3 306.6,689.3 308.1,695.3 309.6,700 311.1,702 312.6,700.7 314.1,698.4 315.6,697.3 317.1,696.5 318.6,696.2 320.1,697.2 321.6,699.1 323.1,701 324.6,703.2 326.1,704.1 327.6,701.9 329.1,698.6 330.6,693.9 332.1,688.6 333.6,684 335.1,680.8 336.6,678 338.1,675.6 339.6,674 341.1,673.5 342.6,673.4 344.1,673.3 345.6,672.6 347.1,670.4 348.6,667.7 350.1,665.1 351.6,662 353.1,659.5 354.6,658.2 356.1,657.5 357.6,656.9 359.1,656.4 360.6,656.1 362.1,655.9 363.6,655.8 365.1,655.7 366.6,655.6 368.1,655.6 369.6,656.3 371.1,657.7 372.6,659.3 374.1,661.4 375.6,664.7 377.1,668.2 378.6,671.2 380.1,673.1 381.6,674.3 383.1,675.4 384.6,676.5 386.1,677.9 387.6,680.1 389.1,683.2 390.6,686.4 392.1,690.2 393.6,694.4 395.1,700.2 396.6,706.3 398.1,711.4 399.6,714.3 401.1,713.8 402.6,711.5 404.1,710.2 405.6,709.5 407.1,709.1 408.6,709.8 410.1,711.8 411.6,713.9 413.1,716.6 414.6,718.8 416.1,718.6 417.6,715.8 419.1,712.2 420.6,707.2 422.1,701.8 423.6,697.3 425.1,694.3 426.6,691.7 428.1,689.5 429.6,688.1 431.1,687.7 432.6,687.6 434.1,687.5 435.6,686.7 437.1,684.5 438.6,681.7 440.1,678.9 441.6,675.5 443.1,672.3 444.6,670.2 446.1,669.6 447.6,669.1 449.1,668.8 450.6,668.6 452.1,668.6 453.6,668.6 455.1,668.6 456.6,668.6 458.1,668.6 459.6,668.9 461.1,670.2 462.6,671.9 464.1,674.2 465.6,677.8 467.1,681.4 468.6,684.2 470.1,685.7 471.6,686.6 473.1,687.3 474.6,688.1 476.1,689.2 477.6,690.9 479.1,693.3 480.6,696 482.1,699.2 483.6,702.9 485.1,707.7 486.6,712.7 488.1,716.8 489.6,719 491.1,718.3 492.6,717 494.1,716.7 495.6,716.7 497.1,717.9 498.6,719.9 500.1,721.7 501.6,723.8 503.1,725.7 504.6,726.5 506.1,724.9 507.6,721.8 509.1,717.3 510.6,711.5 512.1,706.3 513.6,703.3 515.1,700.8 516.6,698.8 518.1,697.5 519.6,697.2 521.1,697.2 522.6,697.2 524.1,697.2 525.6,696.4 527.1,693.7 528.6,690.7 530.1,687.9 531.6,684.5 533.1,681.5 534.6,679.9 536.1,679.7 537.6,679.6 539.1,679.5 540.6,679.4 542.1,679.4 543.6,679.4 545.1,679.5 546.6,679.7 548.1,679.9 549.6,680.6 551.1,682.6 552.6,685.4 554.1,688.8 555.6,693.8 556.9,715 557.3,822 558.6,822 560.1,806.6 561.6,794.4 563.1,783.9 564.6,773.9 566.1,764.6 567.6,755.8 569.1,747.7 570.6,740.1 572.1,733.4 573.6,727.2 575.1,721.8 576.6,718.1 578.1,715.5 579.6,713.4 581.1,711.3 582.6,708.6 584.1,705.7 585.6,702.6 587.1,700 588.6,697.9 590.1,696.5 591.6,695.3 593.1,694.3 594.6,693.5 596.1,692.7 597.6,692 599.1,691.4 600.6,690.7 602.1,690.1 603.6,689.5 605.1,689 606.6,688.4 608.1,687.8 609.6,687.2 611.1,686.5 612.6,685.8 614.1,685.1 615.6,684.4 617.1,683.6 618.6,682.6 620.1,681.4 621.6,679.6 623.1,677.2 624.6,674.6 626.1,672.1 627.6,669.4 629.1,666.8 630.6,664.7 632.1,663.1 633.6,661.8 635.1,660.7 636.6,659.6 638.1,658.7 639.6,657.9 641.1,657 642.6,656 644.1,654.7 645.6,653.3 647.1,651.9 648.6,650.4 650.1,648.9 651.6,647.6 653.1,646.5 654.6,645.4 656.1,644.3 657.6,643.2 659.1,642.2 660.6,641.3 662.1,640.5 663.6,639.8 665.1,639.3 666.6,638.8 668.1,638.3 669.6,637.9 671.1,637.6 672.6,637.2 674.1,636.9 675.6,636.6 677.1,636.2 678.6,635.8 680.1,635.5 681.6,635.2 683.1,634.9 684.6,634.6 686.1,634.5 687.6,634.4 689.1,634.3 690.6,634.2 692.1,634.1 693.6,634.1 695.1,634 696.6,633.9 698.1,633.7 699.6,633.5 701.1,633.3 702.6,633.1 704.1,633 705.6,633 707.1,633.1 708.6,633.1 710.1,633.2 711.6,633.3 713.1,633.4 714.6,633.4 716.1,633.3 717.6,633.1 719.1,632.9 720.6,632.6 722.1,632.2 723.6,631.9 725.1,631.5 726.6,631.2 728.1,630.7 729.6,630.2 731.1,629.7 732.6,629.1 734.1,628.7 735.6,628.3 737.1,628 738.6,627.7 740.1,627.5 741.6,627.3 743.1,627.3 744.6,627.2 746.1,627.3 747.6,628.4 749.1,631.5 750.6,636.3 752.1,642 753.6,648.4 755.1,655.3 756.6,662 758.1,666.6 759.6,667.9 761.1,668.9 762.6,669.6 764.1,670.6 765.6,671.9 767.1,673.2 768.6,674.6 770.1,676.2 771.6,677.5 773.1,677.5 774.6,674.8 776.1,670.8 777.6,667.1 779.1,663.6 780.6,660.5 782.1,658.4 783.6,656.8 785.1,655.7 786.6,655.4 788.1,655.4 789.6,655.4 791.1,655.4 792.6,654.8 794.1,652.8 795.6,650.5 797.1,648.7 798.6,647 800.1,645.4 801.6,644.3 803.1,643.9 804.6,644.1 806.1,644.4 807.6,644.7 809.1,644.9 810.6,644.9 812.1,644.9 813.6,644.9 815.1,644.9 816.6,645.4 818.1,647.1 819.6,649.1 821.1,651.5 822.6,654.6 824.1,657.4 825.6,659.4 827.1,660.2 828.6,660.7 830.1,661.2 831.6,661.6 833.1,662.2 834.6,664 836.1,666.7 837.6,669.4 839.1,672.4 840.6,675.6 842.1,679.5 843.6,683.1 845.1,685.8 846.6,686.7 848.1,685.9 849.6,684.7 851.1,683.9 852.6,683 854.1,682.6 855.6,683.2 857.1,684.4 858.6,685.4 860.1,686.3 861.6,686.7 863.1,685.3 864.6,683.1 866.1,680.5 867.6,677.6 869.1,674 870.6,670.5 872.1,667.8 873.6,666.5 875.1,665.9 876.6,665.4 878.1,664.9 879.6,664.2 881.1,663.2 882.6,662.1 884.1,660.9 885.6,659.3 887.1,657.3 888.6,655.1 890.1,653.1 891.6,651.5 893.1,650.7 894.6,650.3 896.1,650 897.6,649.8 899.1,649.8 900.6,649.7 902.1,649.7 903.6,649.7 905.1,650.3 906.6,651.5 908.1,652.9 909.6,654.6 911.1,656.8 912.6,659.4 914.1,662.1 915.6,665.1" stroke="#f00" stroke-width="2.3"/></g><line x1="824.9" y1="478.0" x2="824.9" y2="821.8" stroke="#1f77b4" stroke-width="2.08" stroke-dasharray="2.08 3.43"/><rect x="200.1" y="478.0" width="714.1" height="343.8" fill="none" stroke="#000" stroke-width="2.08"/><path d="M200.1,764.5h5.5M200.1,707.2h5.5M200.1,649.9h5.5M200.1,592.6h5.5M200.1,535.3h5.5" stroke="#000" stroke-width="1.1" fill="none"/><path d="M200.1,804.6h3.7M200.1,794.5h3.7M200.1,787.3h3.7M200.1,781.7h3.7M200.1,777.2h3.7M200.1,773.4h3.7M200.1,770.1h3.7M200.1,767.1h3.7M200.1,747.3h3.7M200.1,737.2h3.7M200.1,730.0h3.7M200.1,724.4h3.7M200.1,719.9h3.7M200.1,716.1h3.7M200.1,712.8h3.7M200.1,709.8h3.7M200.1,690.0h3.7M200.1,679.9h3.7M200.1,672.7h3.7M200.1,667.1h3.7M200.1,662.6h3.7M200.1,658.8h3.7M200.1,655.5h3.7M200.1,652.5h3.7M200.1,632.7h3.7M200.1,622.6h3.7M200.1,615.4h3.7M200.1,609.8h3.7M200.1,605.3h3.7M200.1,601.5h3.7M200.1,598.2h3.7M200.1,595.2h3.7M200.1,575.4h3.7M200.1,565.3h3.7M200.1,558.1h3.7M200.1,552.5h3.7M200.1,548.0h3.7M200.1,544.2h3.7M200.1,540.9h3.7M200.1,537.9h3.7M200.1,518.1h3.7M200.1,508.0h3.7M200.1,500.8h3.7M200.1,495.2h3.7M200.1,490.7h3.7M200.1,486.9h3.7M200.1,483.6h3.7M200.1,480.6h3.7" stroke="#000" stroke-width="1.0" fill="none"/><path d="M914.2,764.5h-5.5M914.2,707.2h-5.5M914.2,649.9h-5.5M914.2,592.6h-5.5M914.2,535.3h-5.5" stroke="#000" stroke-width="1.1" fill="none"/><path d="M914.2,804.6h-3.7M914.2,794.5h-3.7M914.2,787.3h-3.7M914.2,781.7h-3.7M914.2,777.2h-3.7M914.2,773.4h-3.7M914.2,770.1h-3.7M914.2,767.1h-3.7M914.2,747.3h-3.7M914.2,737.2h-3.7M914.2,730.0h-3.7M914.2,724.4h-3.7M914.2,719.9h-3.7M914.2,716.1h-3.7M914.2,712.8h-3.7M914.2,709.8h-3.7M914.2,690.0h-3.7M914.2,679.9h-3.7M914.2,672.7h-3.7M914.2,667.1h-3.7M914.2,662.6h-3.7M914.2,658.8h-3.7M914.2,655.5h-3.7M914.2,652.5h-3.7M914.2,632.7h-3.7M914.2,622.6h-3.7M914.2,615.4h-3.7M914.2,609.8h-3.7M914.2,605.3h-3.7M914.2,601.5h-3.7M914.2,598.2h-3.7M914.2,595.2h-3.7M914.2,575.4h-3.7M914.2,565.3h-3.7M914.2,558.1h-3.7M914.2,552.5h-3.7M914.2,548.0h-3.7M914.2,544.2h-3.7M914.2,540.9h-3.7M914.2,537.9h-3.7M914.2,518.1h-3.7M914.2,508.0h-3.7M914.2,500.8h-3.7M914.2,495.2h-3.7M914.2,490.7h-3.7M914.2,486.9h-3.7M914.2,483.6h-3.7M914.2,480.6h-3.7" stroke="#000" stroke-width="1.0" fill="none"/><path d="M248.5,821.8v-5.5M337.7,821.8v-5.5M427.0,821.8v-5.5M516.2,821.8v-5.5M605.5,821.8v-5.5M694.8,821.8v-5.5M784.0,821.8v-5.5M873.3,821.8v-5.5" stroke="#000" stroke-width="1.1" fill="none"/><text x="160.50" y="829.60" font-size="20.58" textLength="24.94" lengthAdjust="spacingAndGlyphs">10</text><text x="185.94" y="821.76" font-size="13.79" textLength="8.36" lengthAdjust="spacingAndGlyphs">0</text><text x="160.50" y="772.30" font-size="20.58" textLength="24.94" lengthAdjust="spacingAndGlyphs">10</text><text x="185.94" y="764.46" font-size="13.79" textLength="8.36" lengthAdjust="spacingAndGlyphs">1</text><text x="160.50" y="715.00" font-size="20.58" textLength="24.94" lengthAdjust="spacingAndGlyphs">10</text><text x="185.94" y="707.16" font-size="13.79" textLength="8.36" lengthAdjust="spacingAndGlyphs">2</text><text x="160.50" y="657.70" font-size="20.58" textLength="24.94" lengthAdjust="spacingAndGlyphs">10</text><text x="185.94" y="649.86" font-size="13.79" textLength="8.36" lengthAdjust="spacingAndGlyphs">3</text><text x="160.50" y="600.40" font-size="20.58" textLength="24.94" lengthAdjust="spacingAndGlyphs">10</text><text x="185.94" y="592.56" font-size="13.79" textLength="8.36" lengthAdjust="spacingAndGlyphs">4</text><text x="160.50" y="543.10" font-size="20.58" textLength="24.94" lengthAdjust="spacingAndGlyphs">10</text><text x="185.94" y="535.26" font-size="13.79" textLength="8.36" lengthAdjust="spacingAndGlyphs">5</text><text x="160.50" y="485.80" font-size="20.58" textLength="24.94" lengthAdjust="spacingAndGlyphs">10</text><text x="185.94" y="477.96" font-size="13.79" textLength="8.36" lengthAdjust="spacingAndGlyphs">6</text><g><text x="237.00" y="511.30" font-size="25.20" textLength="168.23" lengthAdjust="spacingAndGlyphs">Geostationary</text><text x="412.80" y="511.30" font-size="25.20" textLength="63.50" lengthAdjust="spacingAndGlyphs">orbit:</text></g><g><text x="501.30" y="511.30" font-size="25.20" textLength="66.58" lengthAdjust="spacingAndGlyphs">GOES</text><text x="575.37" y="511.30" font-size="25.20" textLength="37.43" lengthAdjust="spacingAndGlyphs">14,</text></g><text x="630.00" y="511.30" font-size="25.20" textLength="69.00" lengthAdjust="spacingAndGlyphs" fill="#f00">Model</text><g transform="translate(113.50 650.50) rotate(-90)"><text x="-139.50" y="0" font-size="25.20" textLength="57.78" lengthAdjust="spacingAndGlyphs">&gt;2.0</text><text x="-74.15" y="0" font-size="25.20" textLength="51.45" lengthAdjust="spacingAndGlyphs">MeV</text><text x="-15.13" y="0" font-size="25.20" textLength="97.61" lengthAdjust="spacingAndGlyphs">Electron</text><text x="90.04" y="0" font-size="25.20" textLength="49.46" lengthAdjust="spacingAndGlyphs">Flux</text></g><g transform="translate(146.0 650.2) rotate(-90)"><text x="-93.50" y="0.00" font-size="25.20" textLength="8.40" lengthAdjust="spacingAndGlyphs">(</text><text x="-75.36" y="0.00" font-size="25.20" textLength="32.82" lengthAdjust="spacingAndGlyphs">cm</text><text x="-40.31" y="-9.30" font-size="17.64" textLength="22.22" lengthAdjust="spacingAndGlyphs">−2</text><text x="-11.81" y="0.00" font-size="25.20" textLength="11.22" lengthAdjust="spacingAndGlyphs">s</text><text x="1.21" y="-9.30" font-size="17.64" textLength="22.22" lengthAdjust="spacingAndGlyphs">−1</text><text x="29.08" y="0.00" font-size="25.20" textLength="20.07" lengthAdjust="spacingAndGlyphs">sr</text><text x="50.95" y="-9.30" font-size="17.64" textLength="22.22" lengthAdjust="spacingAndGlyphs">−1</text><text x="85.10" y="0.00" font-size="25.20" textLength="8.40" lengthAdjust="spacingAndGlyphs">)</text></g><g clip-path="url(#c3)"><rect x="199.2" y="978.8" width="8.9" height="38.2" fill="#008000"/><rect x="210.4" y="997.9" width="8.9" height="19.1" fill="#008000"/><rect x="221.5" y="1004.2" width="8.9" height="12.8" fill="#008000"/><rect x="232.7" y="1010.7" width="8.9" height="6.3" fill="#008000"/><rect x="243.8" y="997.9" width="8.9" height="19.1" fill="#008000"/><rect x="255.0" y="991.6" width="8.9" height="25.4" fill="#008000"/><rect x="266.1" y="1010.7" width="8.9" height="6.3" fill="#008000"/><rect x="277.3" y="972.5" width="8.9" height="44.5" fill="#008000"/><rect x="288.5" y="978.8" width="8.9" height="38.2" fill="#008000"/><rect x="299.6" y="972.5" width="8.9" height="44.5" fill="#008000"/><rect x="310.8" y="1010.7" width="8.9" height="6.3" fill="#008000"/><rect x="333.1" y="1004.2" width="8.9" height="12.8" fill="#008000"/><rect x="344.3" y="1010.7" width="8.9" height="6.3" fill="#008000"/><rect x="366.6" y="985.1" width="8.9" height="31.9" fill="#008000"/><rect x="377.7" y="978.8" width="8.9" height="38.2" fill="#008000"/><rect x="388.9" y="985.1" width="8.9" height="31.9" fill="#008000"/><rect x="400.0" y="966.0" width="8.9" height="51.0" fill="#008000"/><rect x="411.2" y="972.5" width="8.9" height="44.5" fill="#008000"/><rect x="422.4" y="985.1" width="8.9" height="31.9" fill="#008000"/><rect x="433.5" y="1004.2" width="8.9" height="12.8" fill="#008000"/><rect x="444.7" y="985.1" width="8.9" height="31.9" fill="#008000"/><rect x="455.8" y="1004.2" width="8.9" height="12.8" fill="#008000"/><rect x="467.0" y="1004.2" width="8.9" height="12.8" fill="#008000"/><rect x="478.1" y="966.0" width="8.9" height="51.0" fill="#008000"/><rect x="489.3" y="966.0" width="8.9" height="51.0" fill="#008000"/><rect x="500.5" y="985.1" width="8.9" height="31.9" fill="#008000"/><rect x="511.6" y="959.7" width="8.9" height="57.3" fill="#bfbf00"/><rect x="522.8" y="978.8" width="8.9" height="38.2" fill="#008000"/><rect x="533.9" y="978.8" width="8.9" height="38.2" fill="#008000"/><rect x="545.1" y="959.7" width="8.9" height="57.3" fill="#bfbf00"/><rect x="556.2" y="978.8" width="8.9" height="38.2" fill="#008000"/><rect x="567.4" y="978.8" width="8.9" height="38.2" fill="#008000"/><rect x="578.6" y="978.8" width="8.9" height="38.2" fill="#008000"/><rect x="589.7" y="978.8" width="8.9" height="38.2" fill="#008000"/><rect x="600.9" y="1004.2" width="8.9" height="12.8" fill="#008000"/><rect x="612.0" y="991.6" width="8.9" height="25.4" fill="#008000"/><rect x="623.2" y="972.5" width="8.9" height="44.5" fill="#008000"/><rect x="634.4" y="991.6" width="8.9" height="25.4" fill="#008000"/><rect x="645.5" y="978.8" width="8.9" height="38.2" fill="#008000"/><rect x="656.7" y="991.6" width="8.9" height="25.4" fill="#008000"/><rect x="667.8" y="1010.7" width="8.9" height="6.3" fill="#008000"/><rect x="679.0" y="1004.2" width="8.9" height="12.8" fill="#008000"/><rect x="690.1" y="1010.7" width="8.9" height="6.3" fill="#008000"/><rect x="723.6" y="1010.7" width="8.9" height="6.3" fill="#008000"/><rect x="734.8" y="972.5" width="8.9" height="44.5" fill="#008000"/><rect x="745.9" y="946.9" width="8.9" height="70.1" fill="#bfbf00"/><rect x="757.1" y="959.7" width="8.9" height="57.3" fill="#bfbf00"/><rect x="768.2" y="991.6" width="8.9" height="25.4" fill="#008000"/><rect x="779.4" y="978.8" width="8.9" height="38.2" fill="#008000"/><rect x="790.6" y="985.1" width="8.9" height="31.9" fill="#008000"/><rect x="801.7" y="972.5" width="8.9" height="44.5" fill="#008000"/><rect x="812.9" y="1004.2" width="8.9" height="12.8" fill="#008000"/><rect x="824.0" y="1004.2" width="8.9" height="12.8" fill="#008000"/><rect x="835.2" y="1004.2" width="8.9" height="12.8" fill="#008000"/><rect x="846.4" y="1004.2" width="8.9" height="12.8" fill="#008000"/><rect x="857.5" y="1004.2" width="8.9" height="12.8" fill="#008000"/><rect x="868.7" y="1004.2" width="8.9" height="12.8" fill="#008000"/><rect x="879.8" y="1004.2" width="8.9" height="12.8" fill="#008000"/><rect x="891.0" y="1004.2" width="8.9" height="12.8" fill="#008000"/><rect x="902.1" y="1004.2" width="8.9" height="12.8" fill="#008000"/></g><line x1="824.9" y1="845.1" x2="824.9" y2="1017.0" stroke="#1f77b4" stroke-width="2.08" stroke-dasharray="2.08 3.43"/><text x="0" y="0" font-size="32.34" textLength="130.30" lengthAdjust="spacingAndGlyphs" fill-opacity="0.105" transform="translate(876.40 1001.00) rotate(-90)">Forecast</text><rect x="200.1" y="845.1" width="714.1" height="171.9" fill="none" stroke="#000" stroke-width="2.08"/><path d="M200.1,978.8h5.5M200.1,940.6h5.5M200.1,902.4h5.5M200.1,864.2h5.5" stroke="#000" stroke-width="1.1" fill="none"/><path d="M914.2,978.8h-5.5M914.2,940.6h-5.5M914.2,902.4h-5.5M914.2,864.2h-5.5" stroke="#000" stroke-width="1.1" fill="none"/><path d="M248.5,1017.0v-5.5M337.7,1017.0v-5.5M427.0,1017.0v-5.5M516.2,1017.0v-5.5M605.5,1017.0v-5.5M694.8,1017.0v-5.5M784.0,1017.0v-5.5M873.3,1017.0v-5.5" stroke="#000" stroke-width="1.1" fill="none"/><text x="195.00" y="1024.80" font-size="20.58" textLength="12.47" lengthAdjust="spacingAndGlyphs" text-anchor="end">0</text><text x="195.00" y="986.60" font-size="20.58" textLength="12.47" lengthAdjust="spacingAndGlyphs" text-anchor="end">2</text><text x="195.00" y="948.40" font-size="20.58" textLength="12.47" lengthAdjust="spacingAndGlyphs" text-anchor="end">4</text><text x="195.00" y="910.20" font-size="20.58" textLength="12.47" lengthAdjust="spacingAndGlyphs" text-anchor="end">6</text><text x="195.00" y="872.00" font-size="20.58" textLength="12.47" lengthAdjust="spacingAndGlyphs" text-anchor="end">8</text><text x="248.05" y="1037.30" font-size="20.58" textLength="24.94" lengthAdjust="spacingAndGlyphs" text-anchor="middle">25</text><text x="337.31" y="1037.30" font-size="20.58" textLength="24.94" lengthAdjust="spacingAndGlyphs" text-anchor="middle">26</text><text x="426.58" y="1037.30" font-size="20.58" textLength="24.94" lengthAdjust="spacingAndGlyphs" text-anchor="middle">27</text><text x="515.84" y="1037.30" font-size="20.58" textLength="24.94" lengthAdjust="spacingAndGlyphs" text-anchor="middle">28</text><text x="605.10" y="1037.30" font-size="20.58" textLength="24.94" lengthAdjust="spacingAndGlyphs" text-anchor="middle">29</text><text x="694.36" y="1037.30" font-size="20.58" textLength="24.94" lengthAdjust="spacingAndGlyphs" text-anchor="middle">30</text><text x="783.63" y="1037.30" font-size="20.58" textLength="24.94" lengthAdjust="spacingAndGlyphs" text-anchor="middle">31</text><text x="872.89" y="1037.30" font-size="20.58" textLength="24.94" lengthAdjust="spacingAndGlyphs" text-anchor="middle">01</text><text x="0" y="0" font-size="25.20" textLength="30.97" lengthAdjust="spacingAndGlyphs" text-anchor="middle" transform="translate(173.50 935.00) rotate(-90)">Kp</text><text x="553.40" y="1065.30" font-size="25.20" textLength="136.10" lengthAdjust="spacingAndGlyphs" text-anchor="middle">March/April</text><g><text x="497.37" y="1094.00" font-size="25.20" textLength="61.08" lengthAdjust="spacingAndGlyphs">2019</text><text x="566.08" y="1094.00" font-size="25.20" textLength="50.95" lengthAdjust="spacingAndGlyphs">(UT)</text></g><rect x="207.6" y="852.2" width="87.6" height="67" rx="2.8" fill="#fff" fill-opacity="0.8" stroke="#ccc" stroke-width="1.1"/><rect x="213" y="858.9" width="28" height="10.6" fill="#008000"/><text x="252.80" y="869.00" font-size="13.97" textLength="36.77" lengthAdjust="spacingAndGlyphs">Kp&lt;3</text><rect x="213" y="879.9" width="28" height="10.6" fill="#bfbf00"/><text x="252.80" y="890.00" font-size="13.97" textLength="36.77" lengthAdjust="spacingAndGlyphs">Kp&lt;5</text><rect x="213" y="900.9" width="28" height="10.6" fill="#f00"/><text x="252.80" y="911.00" font-size="13.97" textLength="36.77" lengthAdjust="spacingAndGlyphs">Kp&gt;5</text><g clip-path="url(#r1)" fill="none" stroke-linejoin="round"><line x1="1205.2" y1="282.4" x2="1800.2" y2="282.4" stroke="#000" stroke-width="2.08" stroke-dasharray="2.08 3.43"/><path d="M1205.4,244 1205.8,263.3 1206.2,265.5 1206.5,244.1 1206.9,243.6 1207.3,241.4 1207.7,256.7 1208.1,253.2 1208.4,260.1 1208.8,229.6 1209.2,266.8 1209.6,253.7 1210,219.8 1210.3,247.6 1210.7,240.5 1211.1,250.2 1211.5,264.1 1211.9,321 1212.2,262.8 1212.6,285.1 1213,267.2 1213.4,250.2 1213.8,280.9 1214.1,269.2 1214.5,249.4 1214.9,257.2 1215.3,266.8 1215.7,257 1216,249.9 1216.4,272.6 1216.8,290.9 1217.2,276.8 1217.6,264.2 1217.9,281.6 1218.3,292.4 1218.7,276 1219.1,287.2 1219.5,296.9 1219.8,280.1 1220.2,265.2 1220.6,277.8 1221,281.7 1221.4,296.4 1221.7,260.2 1222.1,258.5 1222.5,255.5 1222.9,249.7 1223.3,264.3 1223.6,278.1 1224,264.2 1224.4,292.3 1224.8,293 1225.2,321 1225.5,286.4 1225.9,291 1226.3,259.7 1226.7,281.8 1227.1,290.4 1227.4,258.3 1227.8,282.2 1228.2,281.3 1228.6,293.7 1229,279.3 1229.3,281.1 1229.7,289.3 1230.1,273.6 1230.5,286 1230.9,282 1231.2,287.6 1231.6,275.7 1232,294.8 1232.4,293 1232.8,282 1233.1,290.8 1233.5,300.3 1233.9,303.3 1234.3,267.4 1234.7,290.8 1235,291.6 1235.4,282.6 1235.8,270.1 1236.2,298.5 1236.6,270.1 1236.9,289 1237.3,302.4 1237.7,263.2 1238.1,272.4 1238.5,260.8 1238.8,281.4 1239.2,302.3 1239.6,302.3 1240,265.6 1240.4,270.9 1240.7,290.9 1241.1,302 1241.5,294 1241.9,276.2 1242.3,284.5 1242.6,283.1 1243,277.5 1243.4,270.3 1243.8,282.5 1244.2,286.1 1244.5,283.4 1244.9,281.7 1245.3,264.3 1245.7,269.9 1246.1,293.3 1246.4,281.2 1246.8,261.2 1247.2,294 1247.6,291.4 1248,300.8 1248.3,290.8 1248.7,280.1 1249.1,263.1 1249.5,296.4 1249.9,300.4 1250.2,277 1250.6,268.4 1251,281.5 1251.4,266.4 1251.8,271.4 1252.1,270.5 1252.5,277 1252.9,290 1253.3,279.3 1253.7,287.8 1254,272.9 1254.4,279.3 1254.8,250.2 1255.2,250.3 1255.6,273.9 1255.9,258.6 1256.3,265.1 1256.7,260.6 1257.1,265.6 1257.5,262.8 1257.8,263.3 1258.2,252.6 1258.6,243.9 1259,241.5 1259.4,242.5 1259.7,236.7 1260.1,241.7 1260.5,246.6 1260.9,251.9 1261.3,247.8 1261.6,233.2 1262,245.3 1262.4,251.1 1262.8,262.5 1263.2,260.7 1263.5,250 1263.9,246.4 1264.3,264.1 1264.7,263.4 1265.1,264 1265.4,263.9 1265.8,251.1 1266.2,254.9 1266.6,256.2 1267,257 1267.3,256.8 1267.7,252.6 1268.1,250.3 1268.5,237.9 1268.9,251.6 1269.2,252.8 1269.6,269.5 1270,268.9 1270.4,287.6 1270.8,294.7 1271.1,288.8 1271.5,286.4 1271.9,282.2 1272.3,274.9 1272.7,278.3 1273,274.3 1273.4,287.1 1273.8,280.5 1274.2,278.5 1274.6,247.8 1274.9,261 1275.3,236.8 1275.7,233 1276.1,239.1 1276.5,234.5 1276.8,246.6 1277.2,238.1 1277.6,229.1 1278,224.2 1278.4,262.4 1278.7,250.8 1279.1,237.4 1279.5,259.2 1279.9,249.5 1280.3,309.4 1280.6,274.4 1281,301.4 1281.4,308.8 1281.8,273.3 1282.2,298.2 1282.5,316.7 1282.9,311.2 1283.3,305.8 1283.7,320.3 1284.1,310.2 1284.4,311.6 1284.8,301.2 1285.2,314.3 1285.6,286.4 1286,312.6 1286.3,293.5 1286.7,338.6 1287.1,302.2 1287.5,334.4 1287.9,330.2 1288.2,299 1288.6,313.6 1289,299.5 1289.4,303.5 1289.8,304.7 1290.1,275.2 1290.5,294.4 1290.9,279.7 1291.3,338.6 1291.7,260.5 1292,248 1292.4,236.6 1292.8,246.1 1293.2,255.2 1293.6,240.9 1293.9,248.6 1294.3,237.4 1294.7,218 1295.1,232.1 1295.5,240.5 1295.8,234.7 1296.2,240.6 1296.6,245.5 1297,232.1 1297.4,222.2 1297.7,234.9 1298.1,239 1298.5,238.3 1298.9,253.8 1299.3,260.9 1299.6,245.4 1300,254.3 1300.4,256.4 1300.8,253.8 1301.2,258.7 1301.5,243.8 1301.9,251.8 1302.3,262.1 1302.7,262.6 1303.1,246 1303.4,257.5 1303.8,266.7 1304.2,259.2 1304.6,247.2 1305,267.6 1305.3,241.5 1305.7,253.3 1306.1,251.5 1306.5,236.9 1306.9,257.3 1307.2,254.3 1307.6,237.3 1308,251.5 1308.4,244.3 1308.8,228.7 1309.1,237.5 1309.5,248.5 1309.9,254.9 1310.3,250.1 1310.7,247.5 1311,253.2 1311.4,247 1311.8,260.7 1312.2,252.5 1312.6,254 1312.9,256.6 1313.3,238.9 1313.7,239.3 1314.1,262.3 1314.5,256.2 1314.8,248 1315.2,252.7 1315.6,245.2 1316,250.3 1316.4,240.1 1316.7,249 1317.1,231.2 1317.5,257.8 1317.9,244.4 1318.3,228.7 1318.6,237 1319,239.8 1319.4,244.8 1319.8,232.2 1320.2,243.9 1320.5,268.1 1320.9,238.2 1321.3,244.6 1321.7,239.5 1322.1,243 1322.4,228.7 1322.8,228.7 1323.2,242.6 1323.6,241.8 1324,261.3 1324.3,241.3 1324.7,245.7 1325.1,268.1 1325.5,244.9 1325.9,234.6 1326.2,239.7 1326.6,240.2 1327,250.6 1327.4,243.9 1327.8,234.1 1328.1,241.6 1328.5,267.2 1328.9,260.5 1329.3,224.2 1329.7,230.8 1330,225 1330.4,241.9 1330.8,238 1331.2,263 1331.6,256.7 1331.9,255 1332.3,246.6 1332.7,243.2 1333.1,249.1 1333.5,260.8 1333.8,256.3 1334.2,243.9 1334.6,260.4 1335,250.5 1335.4,244.2 1335.7,235.1 1336.1,234.2 1336.5,234.5 1336.9,222.6 1337.3,246.3 1337.6,250.3 1338,242.1 1338.4,254.5 1338.8,251.9 1339.2,253.7 1339.5,223 1339.9,236.9 1340.3,249.4 1340.7,263.5 1341.1,264.8 1341.4,264.8 1341.8,236.1 1342.2,223.3 1342.6,242.2 1343,243 1343.3,253.8 1343.7,243.3 1344.1,318.8 1344.5,227.3 1344.9,243.6 1345.2,239.3 1345.6,245 1346,248.7 1346.4,242.9 1346.8,245 1347.1,242.1 1347.5,249.4 1347.9,249.4 1348.3,236.4 1348.7,233 1349,256.5 1349.4,247.9 1349.8,263.3 1350.2,269.1 1350.6,267.1 1350.9,273.2 1351.3,288.4 1351.7,295.1 1352.1,297.8 1352.5,283.7 1352.8,284.4 1353.2,289.5 1353.6,303 1354,282.6 1354.4,292 1354.7,288 1355.1,293.7 1355.5,287.9 1355.9,293.7 1356.3,304.9 1356.6,298.2 1357,297.5 1357.4,297.6 1357.8,291.2 1358.2,296.5 1358.5,293.2 1358.9,288.7 1359.3,291.8 1359.7,291.9 1360.1,298.8 1360.4,295.5 1360.8,290.9 1361.2,303.7 1361.6,303.2 1362,305.6 1362.3,301.7 1362.7,295.6 1363.1,291.2 1363.5,292.5 1363.9,301.5 1364.2,298.5 1364.6,286.6 1365,293.1 1365.4,279.6 1365.8,281.9 1366.1,260.8 1366.5,246.3 1366.9,254.9 1367.3,256.1 1367.7,231.8 1368,262.7 1368.4,285.4 1368.8,244.4 1369.2,278.1 1369.6,249.7 1369.9,245.4 1370.3,229.9 1370.7,231.6 1371.1,268.5 1371.5,265.5 1371.8,245.3 1372.2,243 1372.6,228.2 1373,234 1373.4,263.7 1373.7,247.3 1374.1,265.1 1374.5,284.9 1374.9,304.4 1375.3,314.3 1375.6,295.1 1376,286.7 1376.4,298.5 1376.8,290.4 1377.2,290.4 1377.5,306.9 1377.9,319.9 1378.3,307.5 1378.7,299.9 1379.1,307.9 1379.4,281 1379.8,295.2 1380.2,286.9 1380.6,321.1 1381,312.7 1381.3,303.4 1381.7,298.3 1382.1,279.4 1382.5,297.9 1382.9,315.5 1383.2,295.5 1383.6,303.6 1384,305.8 1384.4,281.9 1384.8,301.7 1385.1,311.1 1385.5,301.6 1385.9,294.8 1386.3,303.2 1386.7,281 1387,291.5 1387.4,305 1387.8,285.4 1388.2,305.1 1388.6,298.8 1388.9,291.1 1389.3,302.4 1389.7,302.7 1390.1,313 1390.5,302.7 1390.8,318.4 1391.2,308.8 1391.6,315.6 1392,309 1392.4,310 1392.7,323.3 1393.1,318.8 1393.5,313.7 1393.9,306.4 1394.3,323.2 1394.6,244 1395,316 1395.4,319.2 1395.8,309.5 1396.2,306.7 1396.5,307.5 1396.9,316.9 1397.3,319.1 1397.7,311.6 1398.1,320.3 1398.4,322.5 1398.8,314.8 1399.2,317.4 1399.6,298.7 1400,294.5 1400.3,299 1400.7,292.7 1401.1,305.2 1401.5,277.7 1401.9,312.7 1402.2,283.5 1402.6,286.6 1403,268.3 1403.4,297.8 1403.8,311.5 1404.1,313.1 1404.5,310.7 1404.9,274.2 1405.3,276 1405.7,281.5 1406,277.2 1406.4,307 1406.8,301.4 1407.2,296 1407.6,301.6 1407.9,280.8 1408.3,275.4 1408.7,274.4 1409.1,296.8 1409.5,297.5 1409.8,298.9 1410.2,307.3 1410.6,275.8 1411,280.5 1411.4,293.6 1411.7,276 1412.1,281.8 1412.5,306.1 1412.9,309.2 1413.3,309.6 1413.6,295.9 1414,287.7 1414.4,299.8 1414.8,287.3 1415.2,293 1415.5,303.1 1415.9,294 1416.3,290.3 1416.7,292.6 1417.1,296.4 1417.4,297.1 1417.8,295.5 1418.2,296.7 1418.6,279.9 1419,281.4 1419.3,290.1 1419.7,283.5 1420.1,279.1 1420.5,279.8 1420.9,282.2 1421.2,289.3 1421.6,285.8 1422,293.6 1422.4,306.5 1422.8,295.8 1423.1,305.7 1423.5,300.1 1423.9,288.4 1424.3,291.7 1424.7,287.6 1425,299.6 1425.4,288 1425.8,304.9 1426.2,303.4 1426.6,283.3 1426.9,301 1427.3,307.2 1427.7,295.3 1428.1,303.8 1428.5,285 1428.8,297.2 1429.2,284.9 1429.6,298.8 1430,284.3 1430.4,277.6 1430.7,295.4 1431.1,307.2 1431.5,297.6 1431.9,306.4 1432.3,301.1 1432.6,293.6 1433,302.6 1433.4,312.9 1433.8,285 1434.2,299.8 1434.5,302.3 1434.9,276.1 1435.3,313 1435.7,313 1436.1,289 1436.4,313 1436.8,296.8 1437.2,289.4 1437.6,313 1438,299.4 1438.3,297 1438.7,313 1439.1,313.1 1439.5,309.4 1439.9,273.2 1440.2,259.7 1440.6,300.8 1441,277.2 1441.4,288.3 1441.8,271.5 1442.1,280.1 1442.5,266.3 1442.9,309.8 1443.3,280.9 1443.7,288 1444,287.6 1444.4,313.3 1444.8,286.7 1445.2,309.3 1445.6,320.8 1445.9,340.5 1446.3,344.1 1446.7,331.9 1447.1,339.1 1447.5,332.6 1447.8,338.6 1448.2,332.5 1448.6,354 1449,331.5 1449.4,337.2 1449.7,352.6 1450.1,335.8 1450.5,338.9 1450.9,352.2 1451.3,315.1 1451.6,297.9 1452,286.4 1452.4,283.4 1452.8,291.8 1453.2,270 1453.5,272.9 1453.9,253.8 1454.3,225 1454.7,222.5 1455.1,247.8 1455.4,244.8 1455.8,225.4 1456.2,247.3 1456.6,217.5 1457,237 1457.3,240.5 1457.7,216.3 1458.1,205.3 1458.5,200 1458.9,209.4 1459.2,227.7 1459.6,213.6 1460,233.7 1460.4,232.1 1460.8,226 1461.1,221.6 1461.5,234.5 1461.9,215.1 1462.3,230.7 1462.7,236.6 1463,256.2 1463.4,234.9 1463.8,282.9 1464.2,259.2 1464.6,239.3 1464.9,291.3 1465.3,314 1465.7,282 1466.1,261.9 1466.5,278.8 1466.8,266.9 1467.2,278.4 1467.6,324.6 1468,313 1468.4,309.7 1468.7,316.5 1469.1,312.7 1469.5,355.3 1469.9,308.8 1470.3,275.4 1470.6,271.2 1471,288.6 1471.4,261.6 1471.8,244.5 1472.2,268.9 1472.5,249.5 1472.9,231.2 1473.3,249 1473.7,232.5 1474.1,234.7 1474.4,245.9 1474.8,243.3 1475.2,233 1475.6,233.7 1476,232 1476.3,253.4 1476.7,237 1477.1,235.1 1477.5,270.4 1477.9,243.5 1478.2,264.3 1478.6,267.1 1479,246.8 1479.4,226.5 1479.8,245.2 1480.1,253 1480.5,257.1 1480.9,248.5 1481.3,262.2 1481.7,275.3 1482,248.3 1482.4,280.9 1482.8,278.2 1483.2,270.2 1483.6,277.1 1483.9,318.1 1484.3,311 1484.7,268.7 1485.1,283.9 1485.5,285.6 1485.8,285.4 1486.2,277.8 1486.6,264.3 1487,295.8 1487.4,276.5 1487.7,279.3 1488.1,277.8 1488.5,277.3 1488.9,299.5 1489.3,302.2 1489.6,287.7 1490,281 1490.4,288.2 1490.8,309.7 1491.2,302 1491.5,323.2 1491.9,295 1492.3,296.2 1492.7,304.4 1493.1,274.9 1493.4,312 1493.8,287.6 1494.2,282.4 1494.6,299.8 1495,293.8 1495.3,289.4 1495.7,281.4 1496.1,269.2 1496.5,283.9 1496.9,298.1 1497.2,277.2 1497.6,296.9 1498,275.1 1498.4,274.1 1498.8,287.3 1499.1,283.1 1499.5,292.6 1499.9,279.3 1500.3,273 1500.7,263.9 1501,265.8 1501.4,268.8 1501.8,265.3 1502.2,283.3 1502.6,278.8 1502.9,263.9 1503.3,303.3 1503.7,282.8 1504.1,272.6 1504.5,296.2 1504.8,303.3 1505.2,280.8 1505.6,271.3 1506,274.2 1506.4,296.9 1506.7,287.7 1507.1,280.2 1507.5,285.7 1507.9,300 1508.3,276.6 1508.6,281.7 1509,272.9 1509.4,303.3 1509.8,303.3 1510.2,303.3 1510.5,292.6 1510.9,297.3 1511.3,315.3 1511.7,286.2 1512.1,274.1 1512.4,273.9 1512.8,278 1513.2,284.7 1513.6,293.7 1514,298 1514.3,296.1 1514.7,282.8 1515.1,296.3 1515.5,289.7 1515.9,300.4 1516.2,282.1 1516.6,263.9 1517,275.3 1517.4,303.3 1517.8,298.3 1518.1,289.4 1518.5,298.4 1518.9,294.7 1519.3,296.5 1519.7,285.7 1520,293.5 1520.4,297.8 1520.8,292 1521.2,284.9 1521.6,296 1521.9,307.7 1522.3,306.9 1522.7,303.9 1523.1,304.6 1523.5,316.5 1523.8,308.3 1524.2,256.3 1524.6,316.5 1525,304.4 1525.4,303.2 1525.7,309.9 1526.1,316.5 1526.5,307.5 1526.9,303.8 1527.3,299.4 1527.6,285 1528,304.6 1528.4,292.8 1528.8,316.6 1529.2,286.2 1529.5,277.1 1529.9,278.5 1530.3,291 1530.7,282.8 1531.1,303 1531.4,282.4 1531.8,294.6 1532.2,302 1532.6,312.8 1533,310.2 1533.3,302.7 1533.7,297.5 1534.1,296.8 1534.5,308 1534.9,292 1535.2,300 1535.6,296.2 1536,299.2 1536.4,294.6 1536.8,316.5 1537.1,297.2 1537.5,300.5 1537.9,298.5 1538.3,302.2 1538.7,301.3 1539,300 1539.4,305 1539.8,281 1540.2,292.1 1540.6,283.6 1540.9,297.7 1541.3,284.5 1541.7,283 1542.1,288.5 1542.5,301.9 1542.8,296.3 1543.2,292.5 1543.6,300.5 1544,283.7 1544.4,273.2 1544.7,281 1545.1,287.2 1545.5,300.6 1545.9,302.8 1546.3,286.9 1546.6,302.8 1547,302.8 1547.4,302.8 1547.8,299.2 1548.2,302.8 1548.5,299.3 1548.9,291 1549.3,294.2 1549.7,281.7 1550.1,293.3 1550.4,292.6 1550.8,294.7 1551.2,295 1551.6,285 1552,301.3 1552.3,287.5 1552.7,297 1553.1,280.2 1553.5,290.5 1553.9,282.7 1554.2,288.2 1554.6,284.9 1555,273.2 1555.4,274.7 1555.8,285 1556.1,292 1556.5,276.1 1556.9,273.2 1557.3,259.4 1557.7,284.2 1558,282.2 1558.4,282.4 1558.8,296.8 1559.2,300.4 1559.6,299.8 1559.9,287.2 1560.3,290.8 1560.7,289.2 1561.1,280.2 1561.5,295.3 1561.8,292.5 1562.2,286.2 1562.6,299.4 1563,298.2 1563.4,298.9 1563.7,302.6 1564.1,300.9 1564.5,287.8 1564.9,292.6 1565.3,303.9 1565.6,293 1566,296.9 1566.4,300.8 1566.8,308.5 1567.2,309.9 1567.5,306.9 1567.9,298.3 1568.3,303.6 1568.7,303 1569.1,296.8 1569.4,306 1569.8,303 1570.2,291.6 1570.6,305.3 1571,296.4 1571.3,301.9 1571.7,287.1 1572.1,296 1572.5,291.2 1572.9,288.2 1573.2,282 1573.6,309.3 1574,297.9 1574.4,298.8 1574.8,305.9 1575.1,296.8 1575.5,299 1575.9,284.1 1576.3,292.3 1576.7,289.6 1577,296.9 1577.4,297.3 1577.8,283.9 1578.2,282 1578.6,283 1578.9,298.9 1579.3,300.4 1579.7,298.7 1580.1,282 1580.5,282 1580.8,282.4 1581.2,289.9 1581.6,289.4 1582,297.1 1582.4,293.9 1582.7,284.5 1583.1,284.3 1583.5,292.1 1583.9,293.5 1584.3,293.2 1584.6,311.6 1585,297.3 1585.4,295.4 1585.8,286.7 1586.2,289.7 1586.5,298.8 1586.9,301 1587.3,296.1 1587.7,298.5 1588.1,297 1588.4,282 1588.8,282 1589.2,306.2 1589.6,304.2 1590,294 1590.3,273.8 1590.7,270.2 1591.1,290.1 1591.5,264.2 1591.9,274.3 1592.2,288.5 1592.6,284.9 1593,292.1 1593.4,285.6 1593.8,298.6 1594.1,280.8 1594.5,271 1594.9,284.3 1595.3,298.5 1595.7,287.4 1596,296 1596.4,283.5 1596.8,273.3 1597.2,295.6 1597.6,298.6 1597.9,298.6 1598.3,285.7 1598.7,274.9 1599.1,270.3 1599.5,278.5 1599.8,286.4 1600.2,288.2 1600.6,268.4 1601,279 1601.4,280.7 1601.7,282.1 1602.1,282.5 1602.5,279.6 1602.9,287.9 1603.3,286.8 1603.6,285.8 1604,276.7 1604.4,284 1604.8,281.2 1605.2,264.7 1605.5,279.2 1605.9,277.7 1606.3,287.9 1606.7,279.7 1607.1,279.4 1607.4,281.7 1607.8,281.4 1608.2,277.6 1608.6,264.8 1609,294.8 1609.3,272 1609.7,276.7 1610.1,285.5 1610.5,285.1 1610.9,287.5 1611.2,289.5 1611.6,296.2 1612,289 1612.4,298.6 1612.8,281.2 1613.1,284 1613.5,279.5 1613.9,276.1 1614.3,280.7 1614.7,258.5 1615,275.8 1615.4,271.4 1615.8,283.3 1616.2,283.4 1616.6,296 1616.9,291.9 1617.3,283.7 1617.7,276.3 1618.1,280.9 1618.5,278.3 1618.8,266.7 1619.2,277.3 1619.6,276.5 1620,276.8 1620.4,274.1 1620.7,291.9 1621.1,287.2 1621.5,288.6 1621.9,275.4 1622.3,268.7 1622.6,273.9 1623,281.2 1623.4,279.1 1623.8,280.2 1624.2,291.2 1624.5,287.5 1624.9,274.2 1625.3,276.7 1625.7,275.1 1626.1,282.9 1626.4,271 1626.8,279.7 1627.2,287.8 1627.6,284.2 1628,275.9 1628.3,274.9 1628.7,281 1629.1,284 1629.5,287.1 1629.9,277.9 1630.2,266 1630.6,287.5 1631,257.2 1631.4,283.9 1631.8,284.4 1632.1,272.4 1632.5,275.5 1632.9,281.3 1633.3,289.2 1633.7,284 1634,265.8 1634.4,272.4 1634.8,281.9 1635.2,293.1 1635.6,290.4 1635.9,298.6 1636.3,298.6 1636.7,298.6 1637.1,296.2 1637.5,273.5 1637.8,287.5 1638.2,289.5 1638.6,279.6 1639,287.7 1639.4,288.3 1639.7,281.2 1640.1,282.2 1640.5,281.4 1640.9,285.9 1641.3,279.8 1641.6,286.2 1642,266.1 1642.4,276.6 1642.8,267 1643.2,275.3 1643.5,286.1 1643.9,283.9 1644.3,281.7 1644.7,283.6 1645.1,296.5 1645.4,278.1 1645.8,290.5 1646.2,272.9 1646.6,277.2 1647,283.7 1647.3,276.5 1647.7,285.2 1648.1,293.5 1648.5,277.3 1648.9,283.3 1649.2,282.7 1649.6,268 1650,279 1650.4,276.1 1650.8,291.7 1651.1,277.9 1651.5,303.9 1651.9,291.3 1652.3,322.5 1652.7,318.7 1653,321.6 1653.4,326 1653.8,329.8 1654.2,335.2 1654.6,335.2 1654.9,313.3 1655.3,290.8 1655.7,276 1656.1,288.9 1656.5,315.1 1656.8,316.5 1657.2,313.1 1657.6,303.5 1658,297.2 1658.4,297 1658.7,310.2 1659.1,279 1659.5,311.1 1659.9,334.2 1660.3,299.4 1660.6,296.9 1661,299.3 1661.4,290.1 1661.8,285.1 1662.2,299.1 1662.5,291.3 1662.9,335.2 1663.3,310.3 1663.7,297.9 1664.1,297 1664.4,290.8 1664.8,262.9 1665.2,277.2 1665.6,295.3 1666,241 1666.3,270.3 1666.7,242.3 1667.1,268 1667.5,285.2 1667.9,288.4 1668.2,290.2 1668.6,254.2 1669,297.3 1669.4,270.9 1669.8,339.9 1670.1,298.9 1670.5,273.1 1670.9,240 1671.3,282.8 1671.7,243.5 1672,246.5 1672.4,239.5 1672.8,296.3 1673.2,280.7 1673.6,230 1673.9,286.7 1674.3,340 1674.7,339.8 1675.1,286.1 1675.5,290.4 1675.8,297.8 1676.2,313.9 1676.6,290.8 1677,253.2 1677.4,295.5 1677.7,300.1 1678.1,248.5 1678.5,263 1678.9,284.3 1679.3,281.3 1679.6,296.4 1680,308 1680.4,296.8 1680.8,274.7 1681.2,234.2 1681.5,283.3 1681.9,321.7 1682.3,337.5 1682.7,299 1683.1,286.6 1683.4,327.1 1683.8,335.1 1684.2,304.6 1684.6,312.4 1685,270.9 1685.3,298.5 1685.7,269.1 1686.1,285 1686.5,283.8 1686.9,274.3 1687.2,231.6 1687.6,255.2 1688,300.4 1688.4,298.3 1688.8,289.3 1689.1,311.7 1689.5,327.6 1689.9,329.9 1690.3,291.3 1690.7,300.9 1691,290.9 1691.4,279.6 1691.8,269.2 1692.2,289.6 1692.6,278.3 1692.9,321.5 1693.3,297.5 1693.7,284.2 1694.1,280.7 1694.5,317.6 1694.8,277.1 1695.2,282.2 1695.6,273.5 1696,284.2 1696.4,288.4 1696.7,307.1 1697.1,272.4 1697.5,287.5 1697.9,317.3 1698.3,291.2 1698.6,287.7 1699,277.1 1699.4,262.8 1699.8,282.5 1700.2,310.9 1700.5,291.9 1700.9,264.4 1701.3,292.5 1701.7,296 1702.1,310.5 1702.4,315.7 1702.8,300.5 1703.2,305.8 1703.6,270.7 1704,310.4 1704.3,303.7 1704.7,321.3 1705.1,322 1705.5,304.5 1705.9,299.2 1706.2,286.7 1706.6,266.4 1707,292.1 1707.4,301.9 1707.8,286.6 1708.1,310.9 1708.5,307.2 1708.9,311.9 1709.3,293.7 1709.7,273.4 1710,308.6 1710.4,314.8 1710.8,303.8 1711.2,297.5 1711.6,297.9 1711.9,300.3 1712.3,294.9 1712.7,269.8 1713.1,305.9 1713.5,276.2 1713.8,286 1714.2,287.3 1714.6,296.3 1715,266.8 1715.4,307.8 1715.7,308.7 1716.1,310.8 1716.5,313.4 1716.9,286.7 1717.3,249.4 1717.6,285.8 1718,313.4 1718.4,313.4 1718.8,291.1 1719.2,291.7 1719.5,296.4 1719.9,262.7 1720.3,273.4 1720.7,275.9 1721.1,313.4 1721.4,284.8 1721.8,313.4 1722.2,294.8 1722.6,263.9 1723,313.4 1723.3,281.8 1723.7,297.7 1724.1,313.4 1724.5,288.5 1724.9,268 1725.2,303.8 1725.6,294.6 1726,269.9 1726.4,267" stroke="#000" stroke-width="2.3"/><path d="M1205.3,350 1205.9,347.3 1205.9,347.7 1206.5,347.7 1207.1,348.5 1207.7,349.7 1208.3,347.1 1208.9,347.3 1209.5,347.4 1210.1,348.3 1210.7,349.7 1211.3,348.2 1211.9,348 1212.5,349.1 1213.1,346.5 1213.7,346.3 1214.3,346.6 1214.9,347.3 1215.5,347.8 1216.1,347 1216.7,349.6 1217.3,347.3 1217.9,347.2 1218.5,348.8 1218.6,348.9 1219.1,347.5 1219.7,347.1 1220.3,347.1 1220.9,345.6 1221.5,345.6 1222.1,343.2 1222.7,343.3 1223.3,340.7 1223.9,340.5 1224.1,340.1 1224.5,342.7 1225.1,341 1225.7,341.2 1226.3,339.3 1226.9,339.4 1227.5,339 1228.1,337.9 1228.7,339.3 1229.3,336.3 1229.9,338 1230.5,340.7 1231.1,336.8 1231.4,336.7 1231.7,334.8 1232.3,336.5 1232.9,335 1233.5,337.7 1234.1,337.4 1234.7,335.7 1235.3,336.2 1235.9,336.1 1236.5,338 1237.1,340.2 1237.7,339.4 1238.3,338.4 1238.6,338.6 1238.9,340 1239.5,337.5 1240.1,340.8 1240.7,341.8 1241.3,338.7 1241.9,342.7 1242.5,340.5 1243.1,341.9 1243.7,344.3 1244.3,341.8 1244.9,341 1245.5,341.9 1246.1,342.4 1246.7,344.1 1247.3,344.3 1247.9,344.6 1248.5,345 1249.1,345.7 1249.5,345.2 1249.7,346.5 1250.3,346.4 1250.9,345 1251.5,348.1 1252.1,345.1 1252.7,346.6 1253.3,345.2 1253.9,346.1 1254.5,346.5 1255.1,347 1255.7,347.8 1256.3,345.1 1256.9,348.9 1257.5,346.9 1258.1,344.7 1258.6,343.3 1258.7,347.6 1259.3,347.9 1259.9,345.9 1260.5,346.2 1261.1,347 1261.7,345.6 1262.3,344.5 1262.9,344.6 1263.5,345.7 1264.1,344.9 1264.7,343.1 1265.3,345 1265.9,342.3 1266.5,342.7 1267.1,345.3 1267.7,344.8 1268.3,344.6 1268.9,344.3 1269.5,345.4 1270.1,344.2 1270.7,341.5 1271.3,343.3 1271.4,339.7 1271.9,339.8 1272.5,344.4 1273.1,345 1273.7,343.2 1274.3,343.1 1274.9,343.1 1275.5,344.3 1276.1,342.3 1276.7,341.4 1277.3,341.4 1277.9,342.3 1278.5,342.7 1279.1,341.9 1279.7,343 1280.3,341 1280.9,341.5 1281.5,340.8 1282.1,340.2 1282.7,342.7 1283.3,341.4 1283.9,340.1 1284.5,340.9 1285.1,339.8 1285.7,341.4 1285.9,342.2 1286.3,342.7 1286.9,340.2 1287.5,340.6 1288.1,343.2 1288.7,341.4 1289.3,342.7 1289.9,343.5 1290.5,340 1291.1,342.3 1291.7,342.4 1292.3,342.5 1292.9,343.6 1293.5,342.4 1294.1,341.5 1294.7,342 1295.3,340.9 1295.9,341.6 1296.5,338.7 1296.8,342.5 1297.1,340.9 1297.7,341.9 1298.3,342 1298.9,341.9 1299.5,341.9 1300.1,342 1300.7,340 1301.3,340.8 1301.9,343.4 1302.5,341.5 1303.1,341 1303.7,344.9 1304.1,345 1304.3,345.4 1304.9,343.3 1305.5,342.9 1306.1,343.3 1306.7,343 1307.3,342 1307.9,339.8 1308.5,339.9 1309.1,338.8 1309.7,342.3 1310.3,340.6 1310.9,340.3 1311.5,340.6 1312.1,340.3 1312.7,340.7 1313.3,339.2 1313.9,337.5 1314.5,340.9 1315,338.8 1315.1,338.2 1315.7,336.4 1316.3,335.2 1316.9,334.6 1317.5,334.3 1318.1,331 1318.6,331 1318.7,330.3 1319.3,333.3 1319.9,331.7 1320.5,333.6 1321.1,335.5 1321.7,334.1 1322.3,336.2 1322.3,336.6 1322.9,334.6 1323.5,334.1 1324.1,334.8 1324.7,333.4 1325.3,331.5 1325.9,330.6 1325.9,331.4 1326.5,332.8 1327.1,332.7 1327.7,332.6 1328.3,333.7 1328.9,330.2 1329.5,329.4 1330.1,328.1 1330.7,331.7 1331.3,329 1331.9,331 1332.5,332.7 1333.1,330.6 1333.7,330.9 1334.3,331.6 1334.9,333.1 1335.5,330.8 1336.1,332.5 1336.7,333.5 1336.8,333.2 1337.3,333 1337.9,334.2 1338.5,333.3 1339.1,332.6 1339.7,331.9 1340.3,332.9 1340.9,332 1341.5,332.8 1342.1,332.3 1342.7,333.4 1343.3,331.3 1343.9,331.6 1344.5,332 1345.1,332.2 1345.7,333.1 1346.3,332.3 1346.9,332.7 1347.5,334.1 1348.1,333 1348.7,330.3 1349.3,328.9 1349.5,331.1 1349.9,330.5 1350.5,331.1 1351.1,330.8 1351.7,332.5 1352.3,332.9 1352.9,330.1 1353.5,331 1354.1,330.6 1354.7,329.2 1355.3,331.2 1355.9,330.8 1356.5,331.4 1357.1,334.1 1357.7,333.5 1358.3,333.1 1358.6,331 1358.9,329.6 1359.5,332.4 1360.1,331.5 1360.7,331.8 1361.3,331.5 1361.9,332.2 1362.5,335.4 1363.1,333.2 1363.7,332.7 1364.3,333.3 1364.9,333.8 1365.5,332.3 1366.1,331.3 1366.7,332.6 1367.3,333.6 1367.7,333.3 1367.9,331.9 1368.5,328.9 1369.1,326.6 1369.7,324.1 1369.9,321.4 1370.3,326.1 1370.9,333.3 1371.4,338 1371.5,336.4 1372.1,336.6 1372.7,336.8 1373.3,337.5 1373.9,334.4 1374.5,336 1375.1,334.7 1375.7,334.8 1376.3,335.1 1376.9,332.9 1377.5,332 1378.1,332.3 1378.7,333 1379.3,331.4 1379.9,329.4 1380.5,329.4 1380.5,330.9 1381.1,332.3 1381.7,330.6 1382.3,330.4 1382.9,330.5 1383.5,330.6 1384.1,329.6 1384.7,329.9 1385.3,330.8 1385.9,330.9 1386.5,330.9 1387.1,329.6 1387.7,329.8 1388.3,329.6 1388.9,331.8 1389.5,332.9 1390.1,331.9 1390.7,333.1 1391.3,331.1 1391.9,330.6 1392.5,329.1 1393.1,330.6 1393.7,330.2 1394.3,330.8 1394.9,331.4 1395,330.7 1395.5,329.3 1396.1,330.2 1396.7,330.4 1397.3,330.5 1397.9,331.3 1398.5,330.4 1399.1,330 1399.7,332.3 1400.3,332.1 1400.9,330.6 1401.5,329 1402.1,329.1 1402.7,330.1 1403.3,330.9 1403.9,333 1404.5,330.4 1405.1,330 1405.7,329.2 1406.3,329.5 1406.9,328.9 1407.5,327.9 1408.1,330.1 1408.7,329.6 1409.3,330.8 1409.5,329 1409.9,329.6 1410.5,330.6 1411.1,328 1411.7,328.2 1412.3,331 1412.9,331.3 1413.5,329.3 1414.1,330.3 1414.7,330.4 1415.3,331.4 1415.9,334.5 1416.5,333 1417.1,336 1417.7,334.4 1418.3,333.6 1418.6,336.2 1418.9,336.3 1419.5,336.9 1420.1,338 1420.7,337.3 1421.3,337.4 1421.9,333.9 1422.5,334.1 1423.1,335.8 1423.7,336.2 1424.3,337 1424.9,335.9 1425.5,337.6 1425.9,339.3 1426.1,337.8 1426.7,337 1427.3,335.9 1427.9,335.6 1428.5,334.2 1429.1,332.3 1429.7,332.2 1430.3,331.5 1430.9,328.8 1431.4,329.8 1431.5,330 1432.1,330.3 1432.7,329.3 1433.3,330.3 1433.9,330.7 1434.5,329.2 1435.1,329.9 1435.7,330.7 1436.3,330.8 1436.9,328.7 1437.5,328 1438.1,329 1438.7,327.9 1439.3,331.9 1439.9,329 1440,328.1 1440.5,328.1 1441.1,325.4 1441.7,321.1 1442.3,321.2 1442.9,318.9 1443.5,317.6 1444.1,314.6 1444.7,313.3 1445.3,312.5 1445.5,312.4 1445.9,311.7 1446.5,312.7 1447.1,313.4 1447.7,315.4 1448.3,316.2 1448.9,315.6 1449.5,318.3 1450.1,318.1 1450.7,319.9 1450.9,318.9 1451.3,319.7 1451.9,319 1452.5,318.7 1453.1,318.9 1453.7,318.5 1454.3,317.8 1454.9,317.2 1455.5,315 1456.1,315.5 1456.7,312.7 1457.3,311.5 1457.9,313.2 1458.2,313.7 1458.5,314.6 1459.1,311.5 1459.7,309.1 1460.3,304.7 1460.9,302.3 1460.9,303.3 1461.5,303.2 1462.1,303.2 1462.7,303.1 1463.3,302.1 1463.9,302.1 1464.5,301.6 1465.1,304 1465.7,304.1 1466.3,303.9 1466.9,305.4 1467.3,304.8 1467.5,306.1 1468.1,306.3 1468.7,303.6 1469.3,300.5 1469.9,297.6 1470.5,300 1471.1,297.9 1471.7,294.3 1472.3,295.1 1472.9,291 1473.5,290.3 1474.1,289.4 1474.5,288.4 1474.7,287.3 1475.3,290.9 1475.9,288.2 1476.5,288 1477.1,287.2 1477.7,284.6 1478.3,284.8 1478.9,285.4 1479.5,286.2 1480.1,284.5 1480.7,284.5 1481.3,283.3 1481.9,283.8 1482.5,279.8 1483.1,282.1 1483.6,281 1483.7,280.5 1484.3,275.7 1484.9,275.1 1485.5,275.6 1486.1,276.5 1486.4,272.7 1486.7,273.3 1487.3,277.5 1487.9,280.5 1488.5,282.4 1489,285.1 1489.1,284.6 1489.7,284 1490.3,282.8 1490.9,282.3 1491.5,279.9 1492.1,277.7 1492.7,275.1 1492.7,275.8 1493.3,273.5 1493.9,276.5 1494.5,275 1495.1,275.8 1495.7,273.1 1496.3,274.5 1496.9,274 1497.5,272.9 1498.1,271.9 1498.2,271.4 1498.7,275.4 1499.3,276.6 1499.9,276.3 1500.5,277 1501.1,276.8 1501.7,276.1 1502.3,276.6 1502.9,279 1503.5,280.9 1503.6,280.1 1504.1,281.8 1504.7,281.5 1505.3,280.6 1505.9,277.5 1506.5,278.1 1507.1,278.1 1507.7,276.1 1508.3,274 1508.9,278 1509.5,277.2 1510,275.4 1510.1,277.6 1510.7,278.7 1511.3,279 1511.9,279.5 1512.5,281.2 1513.1,283.2 1513.7,282.9 1514.3,283.2 1514.5,284.3 1514.9,280.8 1515.5,284 1516.1,284.8 1516.7,286.1 1517.3,286.8 1517.9,288.2 1518.5,288.8 1519.1,289.5 1519.7,290 1520.3,291.4 1520.9,291.1 1521.5,293.4 1521.8,290.9 1522.1,292.4 1522.7,293 1523.3,291 1523.9,291.3 1524.5,293.5 1525.1,292.3 1525.7,290.9 1526.3,287.8 1526.9,290.9 1527.5,291.5 1528.1,292.2 1528.7,294.1 1529.3,292 1529.9,291.5 1530.5,290.3 1530.9,290.6 1531.1,290.6 1531.7,291 1532.3,290.5 1532.9,288.2 1533.5,287.5 1534.1,289.2 1534.7,286.4 1535.3,287.2 1535.9,288.1 1536.5,286.8 1537.1,285.5 1537.7,286 1538.2,284.6 1538.3,284.1 1538.9,284.6 1539.5,287.2 1540.1,288.1 1540.7,290.1 1541.3,289.1 1541.9,289.5 1542.5,290.2 1543.1,292 1543.6,291.9 1543.7,293.7 1544.3,293.9 1544.9,292.7 1545.5,290.2 1546.1,291.1 1546.7,295.8 1547.3,295.6 1547.9,296.2 1548.5,295.9 1549.1,297.2 1549.7,295 1550.3,294.6 1550.9,295.2 1550.9,297.4 1551.5,299.1 1552.1,299.4 1552.7,299 1553.3,297.6 1553.9,299.9 1554.5,299.4 1555.1,299.8 1555.7,300 1556.3,299.7 1556.9,299.5 1557.5,299.7 1558.1,299.1 1558.7,301 1559.3,301.2 1559.9,302.9 1560,299.9 1560.5,303.4 1561.1,303.6 1561.7,304.2 1562.3,304.2 1562.9,304.8 1563.5,304.8 1564.1,308.4 1564.7,308.7 1565.3,310.6 1565.9,311.9 1566.5,311.3 1567.1,312 1567.3,312.2 1567.7,313.9 1568.3,313.4 1568.9,313.5 1569.5,314.3 1570.1,313.6 1570.7,316.2 1571.3,313.4 1571.9,315.3 1572.5,316.2 1573.1,313.4 1573.7,315.2 1574.3,315.1 1574.9,315.9 1575.5,313.7 1576.1,314.9 1576.7,313.9 1577.3,314.5 1577.9,316.9 1578.2,315.8 1578.5,312.4 1579.1,311.7 1579.7,311.3 1580.3,313.3 1580.9,311.2 1581.5,308.9 1582.1,311 1582.7,310 1583.3,309.2 1583.6,307.4 1583.9,310.3 1584.5,310.3 1585.1,308.8 1585.7,310.2 1586.3,311.9 1586.9,314 1587.5,316.7 1588.1,316.4 1588.2,316.4 1588.7,319.5 1589.3,317.5 1589.9,315.9 1590.5,315.9 1591.1,314 1591.7,315.4 1592.3,316.1 1592.9,314.2 1593.5,315.3 1594.1,313.8 1594.5,314 1594.7,312.7 1595.3,311.9 1595.9,310.5 1596.5,312 1597.1,311.6 1597.7,311.3 1598.3,309.8 1598.9,309.1 1599.1,309.5 1599.5,311.3 1600.1,311.9 1600.7,311.1 1601.3,312.3 1601.9,314.7 1602.5,313.6 1603.1,315.9 1603.7,314.8 1604.3,315.9 1604.9,314.1 1605.5,315.9 1606.1,313.8 1606.7,315.2 1607.3,315.1 1607.3,312.9 1607.9,313.3 1608.5,316.6 1609.1,317 1609.7,318.2 1610.3,317.4 1610.9,313.5 1611.5,316.4 1612.1,316.4 1612.7,316.6 1613.3,316.9 1613.9,316.8 1614.5,316.6 1615.1,319.5 1615.7,319.5 1616.3,318.3 1616.9,318.4 1617.5,320.3 1618.1,320.3 1618.7,320.2 1619.3,318.6 1619.9,319.2 1620.5,318.7 1621.1,317.7 1621.7,321.1 1621.8,320.6 1622.3,320.2 1622.9,319.2 1623.5,321 1624.1,323.1 1624.7,321.7 1625.3,321.6 1625.9,318.8 1626.5,319.6 1627.1,319.8 1627.7,321.4 1628.3,319.9 1628.9,318.1 1629.1,318.7 1629.5,318.7 1630.1,321.4 1630.7,321.6 1631.3,321.5 1631.9,321.6 1632.5,322.8 1633.1,321.8 1633.7,321.3 1634.3,320.2 1634.9,324 1635.5,324.6 1636.1,325.3 1636.4,324.8 1636.7,326.6 1637.3,323.7 1637.9,325.4 1638.5,323.3 1639.1,323 1639.7,321.9 1640.3,323.1 1640.9,322.9 1641.5,323.6 1642.1,322.4 1642.7,321 1643.3,322.9 1643.6,324.3 1643.9,324.2 1644.5,323.3 1645.1,323.7 1645.7,321.4 1646.3,322.5 1646.9,324.8 1647.5,324.8 1648.1,323.3 1648.7,325.1 1649.3,324.5 1649.9,325.5 1650.5,323.3 1651.1,323.9 1651.7,325.2 1652.3,325.7 1652.7,326.3 1652.9,325.6 1653.5,324.8 1654.1,325.1 1654.7,325.5 1655.3,322.4 1655.9,322.7 1656.5,322.7 1657.1,322.8 1657.7,323.7 1658.3,320.8 1658.9,322 1659.5,319.3 1660.1,319.4 1660.7,319.5 1661.3,319.6 1661.8,319 1661.9,319 1662.5,319.1 1663.1,319.1 1663.7,317.1 1664.3,316.9 1664.9,318 1665.5,319.4 1666.1,320.3 1666.7,322.8 1667.3,320.1 1667.9,318 1668.5,318.5 1669.1,319.2 1669.7,318.7 1670.3,316.9 1670.9,317.5 1671.5,317.6 1672.1,315.9 1672.7,315.5 1673.3,318.3 1673.9,314.8 1674.5,316.6 1675.1,316.6 1675.7,318.5 1676.3,318 1676.9,316 1677.5,317.9 1678.1,316.1 1678.2,318.7 1678.7,319.4 1679.3,317.8 1679.9,318.6 1680.5,318.4 1681.1,317.2 1681.7,319.6 1682.3,319.7 1682.9,320.6 1683.5,321.3 1684.1,322.3 1684.7,322.3 1685.3,321.2 1685.5,321.1 1685.9,321.1 1686.5,319.9 1687.1,319 1687.7,320.9 1688.3,319.4 1688.9,320.2 1689.5,316.8 1690.1,316.2 1690.7,315.1 1690.9,314.8 1691.3,314.9 1691.9,315 1692.5,314.6 1693.1,317.1 1693.7,316.4 1694.3,314.4 1694.9,314 1695.5,315.4 1696.1,315.5 1696.7,314 1697.3,315.4 1697.9,312.8 1698.5,313.2 1699.1,315.9 1699.7,311.3 1700.3,312.8 1700.9,314.7 1701.5,313.7 1701.8,312.7 1702.1,311.9 1702.7,309.7 1703.3,309.6 1703.9,310.9 1704.5,310 1705.1,310.1 1705.7,309.5 1706.3,309.4 1706.9,306.6 1707.5,307 1708.1,306.7 1708.2,306.7 1708.7,306.2 1709.3,304.7 1709.9,307.9 1710.5,309.3 1711.1,311.8 1711.7,310.7 1712.3,311.7 1712.9,310.9 1713.5,309.6 1714.1,310.5 1714.7,308.9 1715.3,310.3 1715.9,310.5 1716.4,309.6 1716.5,312.1 1717.1,313.5 1717.7,313.6 1718.3,314.7 1718.9,316.5 1719.5,315.4 1720,314 1720.1,313.9 1720.7,315.9 1721.3,315.9 1721.9,313.8 1722.5,316.6 1723.1,316.1 1723.7,317.7 1724.3,317.5 1724.9,315.6 1725.5,315.6 1726.1,314.6 1726.4,314.2" stroke="#f00" stroke-width="2.9"/></g><line x1="1725.8" y1="110.0" x2="1725.8" y2="454.7" stroke="#1f77b4" stroke-width="2.08" stroke-dasharray="2.08 3.43"/><rect x="1205.2" y="110.0" width="595.0" height="344.7" fill="none" stroke="#000" stroke-width="2.08"/><line x1="1800.2" y1="109.0" x2="1800.2" y2="455.7" stroke="#f00" stroke-width="2.08"/><path d="M1205.2,153.1h5.5M1205.2,196.2h5.5M1205.2,239.3h5.5M1205.2,282.4h5.5M1205.2,325.4h5.5M1205.2,368.5h5.5M1205.2,411.6h5.5" stroke="#000" stroke-width="1.1" fill="none"/><path d="M1245.0,454.7v-5.5M1319.4,454.7v-5.5M1393.7,454.7v-5.5M1468.1,454.7v-5.5M1542.5,454.7v-5.5M1616.9,454.7v-5.5M1691.2,454.7v-5.5M1765.6,454.7v-5.5" stroke="#000" stroke-width="1.1" fill="none"/><text x="1200.20" y="117.80" font-size="20.58" textLength="24.94" lengthAdjust="spacingAndGlyphs" text-anchor="end">20</text><text x="1200.20" y="160.89" font-size="20.58" textLength="24.94" lengthAdjust="spacingAndGlyphs" text-anchor="end">15</text><text x="1200.20" y="203.98" font-size="20.58" textLength="24.94" lengthAdjust="spacingAndGlyphs" text-anchor="end">10</text><text x="1200.20" y="247.06" font-size="20.58" textLength="12.47" lengthAdjust="spacingAndGlyphs" text-anchor="end">5</text><text x="1200.20" y="290.15" font-size="20.58" textLength="12.47" lengthAdjust="spacingAndGlyphs" text-anchor="end">0</text><text x="1200.20" y="333.24" font-size="20.58" textLength="28.89" lengthAdjust="spacingAndGlyphs" text-anchor="end">−5</text><text x="1200.20" y="376.32" font-size="20.58" textLength="41.36" lengthAdjust="spacingAndGlyphs" text-anchor="end">−10</text><text x="1200.20" y="419.41" font-size="20.58" textLength="41.36" lengthAdjust="spacingAndGlyphs" text-anchor="end">−15</text><text x="1200.20" y="462.50" font-size="20.58" textLength="41.36" lengthAdjust="spacingAndGlyphs" text-anchor="end">−20</text><path d="M1800.2,385.8h-5.5M1800.2,316.8h-5.5M1800.2,247.9h-5.5M1800.2,178.9h-5.5" stroke="#f00" stroke-width="1.1" fill="none"/><text x="1805.60" y="462.50" font-size="20.58" textLength="12.47" lengthAdjust="spacingAndGlyphs" fill="#f00">0</text><text x="1805.60" y="393.56" font-size="20.58" textLength="37.41" lengthAdjust="spacingAndGlyphs" fill="#f00">200</text><text x="1805.60" y="324.62" font-size="20.58" textLength="37.41" lengthAdjust="spacingAndGlyphs" fill="#f00">400</text><text x="1805.60" y="255.68" font-size="20.58" textLength="37.41" lengthAdjust="spacingAndGlyphs" fill="#f00">600</text><text x="1805.60" y="186.74" font-size="20.58" textLength="37.41" lengthAdjust="spacingAndGlyphs" fill="#f00">800</text><text x="1805.60" y="117.80" font-size="20.58" textLength="49.88" lengthAdjust="spacingAndGlyphs" fill="#f00">1000</text><g transform="translate(1115.50 282.30) rotate(-90)"><text x="-39.14" y="0" font-size="25.20" textLength="41.59" lengthAdjust="spacingAndGlyphs">IMF</text><text x="10.08" y="0" font-size="25.20" textLength="29.06" lengthAdjust="spacingAndGlyphs">Bz</text></g><g transform="translate(1146.50 282.30) rotate(-90)"><text x="-31.93" y="0" font-size="25.20" textLength="9.36" lengthAdjust="spacingAndGlyphs">(</text><text x="-14.94" y="0" font-size="25.20" textLength="29.87" lengthAdjust="spacingAndGlyphs">nT</text><text x="22.56" y="0" font-size="25.20" textLength="9.36" lengthAdjust="spacingAndGlyphs">)</text></g><g transform="translate(1880.00 282.30) rotate(-90)" fill="#f00"><text x="-70.37" y="0" font-size="25.20" textLength="38.96" lengthAdjust="spacingAndGlyphs">SW</text><text x="-23.78" y="0" font-size="25.20" textLength="94.15" lengthAdjust="spacingAndGlyphs">Velocity</text></g><g transform="translate(1910.0 282.3) rotate(-90)"><text x="-56.64" y="0.00" font-size="25.20" textLength="9.36" lengthAdjust="spacingAndGlyphs" fill="#f00">(</text><text x="-39.77" y="0.00" font-size="25.20" textLength="37.28" lengthAdjust="spacingAndGlyphs" fill="#f00">km</text><text x="1.00" y="0.00" font-size="25.20" textLength="12.50" lengthAdjust="spacingAndGlyphs" fill="#f00">s</text><text x="13.51" y="-9.30" font-size="17.64" textLength="24.77" lengthAdjust="spacingAndGlyphs" fill="#f00">−1</text><text x="47.27" y="0.00" font-size="25.20" textLength="9.36" lengthAdjust="spacingAndGlyphs" fill="#f00">)</text></g><g clip-path="url(#r2)" fill="none" stroke-linejoin="round"><line x1="1205.2" y1="512.4" x2="1800.2" y2="512.4" stroke="#000" stroke-width="2.08" stroke-dasharray="2.08 3.43"/><path d="M1205.3,490.5 1206.1,491.2 1212.9,498.6 1219.6,503.7 1226.3,504.7 1231.4,507 1241.5,507 1248.2,511.1 1254.9,508.1 1265,508.1 1272.4,504.4 1281.8,506 1288.6,510.4 1294.3,516.5 1300.3,512.8 1315.5,511.4 1325.6,511.1 1328.9,509.4 1337.3,512.1 1345.7,508.1 1349.1,508.7 1355.8,503.7 1364.3,508.1 1371,509.4 1377.7,508.7 1382.8,516.1 1389.5,519.8 1402.9,514.8 1414.7,518.8 1419.8,515.5 1429.9,509.7 1437.3,505.4 1441.6,508.7 1446.7,515.5 1452.4,521.5 1461.8,517.1 1466.9,519.8 1474.3,521.5 1478.6,516.1 1483.7,517.8 1489.7,520.5 1498.8,517.8 1508.9,509.7 1514,511.1 1518.7,515.5 1523.7,515.5 1527.1,517.8 1537.2,517.8 1547.3,516.1 1554,517.8 1558,522.2 1564.1,519.8 1572.5,513.8 1580.9,513.8 1591,519.5 1597.7,517.1 1601.8,518.2 1607.8,516.1 1612.9,518.2 1621.3,514.5 1628,511.1 1634.7,513.8 1643.2,514.5 1649.9,512.8 1656.6,509.4 1661.7,512.8 1666.7,519.8 1671.7,518.8 1675.1,520.5 1681.8,516.1 1690.2,517.1 1695.3,523.9 1703.7,521.5 1712.1,522.2 1718.8,519.5 1722.9,518.8" stroke="#000" stroke-width="2.08"/><path d="M1205.3,590 1205.7,590.5 1206,592.1 1206.1,585.2 1206.4,598 1206.7,606.5 1207.1,616.2 1207.2,623.1 1207.5,619.7 1207.8,626.1 1208.2,622.4 1208.5,622 1208.9,628.3 1209.3,623 1209.5,624.7 1209.6,627.8 1210,628.6 1210.3,628 1210.7,623.2 1211.1,625.3 1211.4,631 1211.8,631.4 1212.1,627 1212.5,631 1212.9,631.1 1213.2,633.7 1213.6,628.7 1213.9,635.5 1214.3,630.5 1214.6,635.9 1214.7,634.3 1215,628.1 1215.4,629.7 1215.7,631 1216.1,632.8 1216.5,625.1 1216.8,627.3 1217.2,630.2 1217.5,629.3 1217.9,624.3 1218.3,624.3 1218.6,627.8 1219,623.1 1219.3,626.4 1219.7,627.9 1220.1,624.8 1220.4,616.3 1220.8,627.4 1221.1,626.8 1221.3,627.4 1221.5,625.9 1221.9,618.5 1222.2,628 1222.6,625.1 1222.9,627.1 1223.3,624.1 1223.7,624 1224,624.3 1224.4,630 1224.7,626.3 1225.1,625.1 1225.5,622.1 1225.8,627.6 1226.2,626.5 1226.5,627.1 1226.9,629.9 1227.3,629.3 1227.6,627.4 1228,628.3 1228.3,628.1 1228.7,630.3 1229.1,630.4 1229.4,629 1229.8,626.3 1230.1,631.6 1230.5,632 1230.9,626.3 1231.2,630.9 1231.4,628.7 1231.6,623.3 1231.9,629.6 1232.3,632.4 1232.7,627.3 1233,627.3 1233.4,632.3 1233.7,625.8 1234.1,626.2 1234.5,627.9 1234.8,630.6 1235.2,630.5 1235.5,626.9 1235.9,627.5 1236.3,628.6 1236.6,627 1237,625.5 1237.3,624.7 1237.7,629.9 1238.1,627 1238.4,636.1 1238.8,629.3 1239.1,625.1 1239.5,627.2 1239.9,628.1 1240.2,628.2 1240.6,628.2 1240.9,628.1 1241.3,626.2 1241.5,628.5 1241.7,633.5 1242,626.7 1242.4,627.8 1242.7,632 1243.1,634.6 1243.5,634.3 1243.8,636.5 1244.2,633.7 1244.5,634.1 1244.9,637.7 1245.3,638.7 1245.6,642.7 1246,643.3 1246.3,634.2 1246.5,642.4 1246.7,637.3 1247.1,631.5 1247.4,637.6 1247.8,634.5 1248.1,632.5 1248.5,628.3 1248.9,627.6 1249.2,628.6 1249.6,623.3 1249.9,626 1250.3,625.3 1250.7,623 1251,623 1251.4,620.4 1251.6,616 1251.7,616.3 1252.1,619.7 1252.5,622 1252.8,619 1253.2,616.5 1253.5,618.4 1253.9,611.2 1254.3,613.6 1254.6,615.4 1255,616.1 1255.3,614.8 1255.7,614.6 1256.1,610.8 1256.4,612.7 1256.8,615.5 1257.1,607.1 1257.5,609.1 1257.9,612.1 1258.2,619 1258.3,615.7 1258.6,619.7 1258.9,619.4 1259.3,612.7 1259.7,614.8 1260,610.7 1260.4,621.1 1260.7,619.7 1261.1,619.7 1261.5,620.5 1261.8,620.2 1262.2,619.7 1262.5,620.5 1262.9,625 1263.3,617.2 1263.6,616.6 1264,621.6 1264.3,627 1264.7,623.7 1265,622.2 1265.1,626.4 1265.4,622.3 1265.8,612.8 1266.1,615.5 1266.5,609.9 1266.9,616.7 1267.2,614.7 1267.6,617.3 1267.9,623.2 1268.3,610.8 1268.7,612.3 1269,609.6 1269.4,598.4 1269.7,605.9 1270.1,605 1270.1,609.2 1270.5,603.9 1270.8,601.5 1271.2,608.8 1271.5,605.5 1271.9,601.4 1272.3,601.4 1272.6,602.8 1273,606.9 1273.3,608.8 1273.7,596.9 1274.1,606.6 1274.4,601.5 1274.4,602.9 1274.8,607.6 1275.1,601.8 1275.5,611.6 1275.9,604.8 1276.2,610.5 1276.6,611.1 1276.9,624 1277.3,626 1277.7,624.5 1278,625.7 1278.4,623.6 1278.5,633.8 1278.7,631.9 1279.1,629.1 1279.5,624.1 1279.8,622.4 1280.2,622.8 1280.5,628 1280.9,617.8 1281.3,621.5 1281.6,627.1 1282,623.3 1282.3,626.1 1282.7,619.9 1283.1,619.2 1283.4,622.5 1283.8,618.7 1284.1,616.7 1284.5,612.4 1284.9,607.6 1285.2,619.4 1285.2,611.4 1285.6,610.5 1285.9,617.7 1286.3,610.8 1286.7,609.4 1287,613.1 1287.4,615.6 1287.7,617.5 1288.1,618.9 1288.5,621.3 1288.8,617.2 1289.2,619.7 1289.5,618.2 1289.9,616.4 1290.3,621.2 1290.6,621.4 1291,627.9 1291.3,623.3 1291.7,618.6 1291.9,623.9 1292.1,620.6 1292.4,627.8 1292.8,615.2 1293.1,619.3 1293.5,619.4 1293.9,622.4 1294.2,621.5 1294.6,616.3 1294.9,615.4 1295.3,622.8 1295.7,627.3 1296,627.3 1296.4,621 1296.7,623.9 1297.1,619.6 1297.5,617.8 1297.8,626.5 1298.2,624.8 1298.5,621.6 1298.9,621.6 1299.3,625.6 1299.6,623.8 1300,621.9 1300.3,623.8 1300.7,623 1301.1,621.9 1301.4,621 1301.8,626 1302,621.9 1302.1,619.9 1302.5,628.9 1302.9,627.5 1303.2,625.6 1303.6,624.1 1303.9,625.1 1304.3,620.5 1304.7,625 1305,626.1 1305.4,624.9 1305.7,627 1306.1,623.7 1306.5,626.8 1306.8,621.8 1307.2,626.6 1307.5,625.1 1307.9,623.2 1308.3,626.2 1308.6,627.7 1309,626.1 1309.3,630.8 1309.7,626.3 1310.1,631.3 1310.4,631 1310.8,627.3 1311.1,633.5 1311.5,625.5 1311.9,631.3 1312.1,630.1 1312.2,632.2 1312.6,625.5 1312.9,626.8 1313.3,628.1 1313.7,630.7 1314,631.1 1314.4,631.1 1314.7,630.4 1315.1,629.3 1315.5,627.5 1315.8,630.5 1316.2,633.5 1316.5,635.1 1316.9,630.8 1317.3,635.6 1317.6,628.7 1318,635.1 1318.3,629.8 1318.7,633.9 1318.8,630.4 1319.1,631.1 1319.4,633.3 1319.8,640 1320.1,634.8 1320.5,639.6 1320.9,639.1 1321.2,640.5 1321.6,641.5 1321.9,643.4 1322.3,639 1322.7,643.6 1323,645.4 1323.4,643.6 1323.7,647.4 1323.9,643.7 1324.1,648.5 1324.5,643.7 1324.8,644.4 1325.2,646.9 1325.5,647.1 1325.9,641.7 1326.3,640.9 1326.6,645 1327,633.1 1327.3,644.8 1327.7,644.1 1328.1,636.5 1328.4,642.5 1328.8,639.5 1328.9,639.6 1329.1,631.8 1329.5,637.8 1329.9,639.3 1330.2,639.2 1330.6,639.9 1330.9,640.8 1331.3,633.8 1331.7,642.2 1332,641.4 1332.4,643.8 1332.7,643.2 1333.1,645.2 1333.5,646.7 1333.8,651.6 1334,644.3 1334.2,651.5 1334.5,645.5 1334.9,643.2 1335.3,641.2 1335.6,647.6 1336,640.3 1336.3,647 1336.7,645 1337.1,641.9 1337.4,641.3 1337.8,644.3 1338.1,643 1338.5,644.3 1338.9,641.8 1339.2,639.9 1339.6,642.6 1339.9,637.2 1340.3,642.8 1340.7,640.1 1340.7,636.6 1341,634.9 1341.4,634.6 1341.7,627.9 1342.1,635 1342.5,631.4 1342.8,623 1343.2,623.6 1343.5,626.6 1343.9,620.5 1344.1,615 1344.3,613 1344.6,617.7 1345,629.2 1345.3,629.7 1345.7,628.1 1346.1,637.1 1346.4,637.1 1346.8,639.3 1347.1,642.9 1347.4,645.3 1347.5,650.3 1347.9,637.5 1348.2,634.2 1348.6,634.3 1348.9,629.8 1349.3,617.5 1349.7,621.5 1350,613.7 1350.4,601 1350.7,605.8 1350.8,595.2 1351.1,601.4 1351.5,595.7 1351.8,593.6 1352.2,601.2 1352.5,599.7 1352.9,597.9 1353.3,598.5 1353.6,597.4 1354,596.7 1354.3,594 1354.7,598.7 1355.1,596.8 1355.4,595.7 1355.8,594.5 1355.8,595.4 1356.1,591.8 1356.5,595.6 1356.9,593.7 1357.2,600.6 1357.6,594.1 1357.9,595.8 1358.3,597.3 1358.7,599.8 1359,598.9 1359.4,597.8 1359.7,604.3 1360.1,598 1360.5,599.1 1360.8,606.5 1361.2,595.8 1361.5,601.5 1361.9,600.1 1362.3,595 1362.6,597.2 1363,601.7 1363.3,595.1 1363.7,599 1364.1,602.5 1364.4,599.1 1364.8,600.8 1365.1,598.2 1365.5,598.5 1365.9,598.6 1366.2,599.6 1366.6,602.7 1366.9,601.1 1367.3,606.9 1367.6,602.8 1367.7,603.5 1368,618.3 1368.4,620.2 1368.7,627 1369.1,638.8 1369.3,640.1 1369.5,644.8 1369.8,647.4 1370.2,645.2 1370.5,642.1 1370.9,642.9 1371.3,644.7 1371.6,646.8 1372,642.1 1372.3,642.1 1372.7,646.5 1372.7,644 1373.1,630.8 1373.4,617.6 1373.7,603.3 1373.8,605.2 1374.1,608.8 1374.5,605.1 1374.9,605 1375.2,606.5 1375.6,606.8 1375.9,613.2 1376.3,603.2 1376.7,606 1377,611.6 1377.4,605.7 1377.7,606.7 1377.7,602.4 1378.1,619.6 1378.5,629.2 1378.7,635.7 1378.8,632.7 1379.2,634.5 1379.5,633.3 1379.9,636.1 1380.3,633.7 1380.6,636.2 1381,630 1381.3,633.1 1381.7,625.7 1382.1,633.8 1382.4,636.7 1382.8,633.7 1383.1,641.6 1383.5,631.8 1383.9,633.8 1384.2,632.2 1384.6,633.6 1384.9,633.8 1385.3,630.9 1385.7,632.5 1386,641.6 1386.4,634.9 1386.7,638.5 1387.1,632.1 1387.5,635.6 1387.8,637.7 1388.2,635.7 1388.5,634.8 1388.9,635.9 1389.3,636.6 1389.5,639.1 1389.6,640.1 1390,632.1 1390.3,629.4 1390.7,634.5 1391.1,634.7 1391.4,636.3 1391.8,636.9 1392.1,631.3 1392.5,639 1392.9,633.2 1393.2,626.7 1393.6,634.4 1393.9,631.9 1394.3,631.4 1394.7,625.4 1395,628.8 1395.4,629.7 1395.7,628.3 1396.1,630.4 1396.2,632 1396.5,632.8 1396.8,632 1397.2,627.9 1397.5,633.5 1397.9,629.2 1398.3,631 1398.6,627.8 1399,624.4 1399.3,621.9 1399.7,629.2 1400.1,626.7 1400.4,628.8 1400.8,631.5 1401.1,624.3 1401.5,623.7 1401.9,629.8 1402.2,630.1 1402.6,628.3 1402.9,627.6 1403.3,624.4 1403.7,629 1404,627.1 1404.4,630.6 1404.7,632.2 1405.1,627.8 1405.5,630.7 1405.8,630.1 1406.2,631.7 1406.5,634.2 1406.9,631.6 1407.3,631.8 1407.6,632.1 1408,628.5 1408,629.8 1408.3,631.2 1408.7,634.2 1409.1,634.7 1409.4,638 1409.8,628.4 1410.1,631.9 1410.5,627.2 1410.9,631.1 1411.2,628.2 1411.6,636.9 1411.9,636.1 1412.3,631 1412.7,635.6 1413,637.1 1413,640.1 1413.4,637.2 1413.7,635 1414.1,634.2 1414.5,636.1 1414.8,635 1415.2,632.5 1415.5,630.2 1415.9,636.8 1416.3,631.4 1416.6,632.5 1417,635.6 1417.3,632.9 1417.7,636.3 1418.1,629.4 1418.4,634.8 1418.8,628.4 1419.1,627.8 1419.5,629 1419.9,632.3 1420.2,629.8 1420.6,627.5 1420.9,635.1 1421.3,628.5 1421.7,630.8 1422,631.8 1422.4,629.4 1422.7,631.8 1423.1,632.4 1423.5,630.1 1423.8,633.3 1424.2,628.3 1424.5,626.8 1424.8,630.4 1424.9,626.6 1425.3,629.6 1425.6,627 1426,624.7 1426.3,627.1 1426.7,626 1427.1,612.5 1427.4,620.8 1427.8,621.4 1428.1,621.7 1428.5,616.5 1428.9,613 1429.2,617.1 1429.6,618.4 1429.9,605.4 1430.3,606.6 1430.7,609.5 1431,599.1 1431.4,607.2 1431.5,613.6 1431.7,604.3 1432.1,609.9 1432.5,604.4 1432.8,610.8 1433.2,611.7 1433.5,615 1433.9,608.1 1434.3,613.2 1434.6,609.3 1435,604 1435.3,614.9 1435.7,602.6 1436.1,606.8 1436.4,619.6 1436.8,610.2 1437.1,600.1 1437.5,606.3 1437.9,601.1 1438.2,603.1 1438.6,594.9 1438.9,604.6 1439.3,594 1439.7,604.8 1440,604.6 1440.4,607 1440.7,614.7 1441.1,591.9 1441.5,594.3 1441.8,595.1 1442.2,597.3 1442.5,605.3 1442.9,598 1443.3,596.2 1443.3,593.1 1443.6,595.9 1444,596.9 1444.3,598.8 1444.7,591 1445.1,598.8 1445.4,602.4 1445.8,601.1 1446.1,591.8 1446.5,603.7 1446.9,603.5 1447.2,600.5 1447.6,591.6 1447.9,590.1 1448.3,598.8 1448.7,592.5 1449,590.7 1449.4,603.5 1449.7,603.6 1450.1,601.9 1450.5,605.7 1450.8,603.3 1451.2,591.3 1451.5,604.6 1451.7,598.6 1451.9,601 1452.3,608.6 1452.6,603.2 1453,610.8 1453.3,603.1 1453.7,601.7 1454.1,600.9 1454.4,605.3 1454.8,597.4 1455.1,607.8 1455.5,608.6 1455.9,607.3 1456.2,598.5 1456.6,600.1 1456.9,617.7 1457.3,609.1 1457.7,623.7 1458,612.7 1458.4,620 1458.7,610.6 1459.1,616.4 1459.5,619.9 1459.8,625.6 1460.1,632.8 1460.2,628.2 1460.5,612.1 1460.9,618.4 1461.3,615.2 1461.6,610.4 1462,615.3 1462.3,618.9 1462.7,605 1463.1,612 1463.4,611.5 1463.5,596.7 1463.8,614.4 1464.1,615.5 1464.5,609 1464.9,618.8 1465.2,611.9 1465.6,618.7 1465.9,617.4 1466.3,610.2 1466.7,618.3 1467,617.3 1467.4,617 1467.7,614.8 1468.1,618.5 1468.5,617.5 1468.5,631.4 1468.8,611.7 1469.2,621.7 1469.5,615.8 1469.9,610.2 1470.3,619.7 1470.6,609 1471,618.7 1471.3,608.8 1471.7,609.9 1472.1,605.3 1472.4,607.9 1472.8,607.7 1473.1,597.7 1473.5,598.4 1473.6,608.1 1473.9,594.8 1474.2,608.9 1474.6,596.4 1474.9,595.8 1475.3,589.5 1475.7,594.7 1476,589.8 1476.4,596.9 1476.7,604.5 1477.1,600.5 1477.5,597.6 1477.8,595.5 1478.2,597.7 1478.5,593.7 1478.9,595.2 1479.3,613.4 1479.6,604.2 1480,598.3 1480.3,607.1 1480.7,611.6 1481.1,600.8 1481.4,603.9 1481.8,598.5 1482.1,597.2 1482.5,611.9 1482.9,621.8 1483.2,602.5 1483.6,598.8 1483.7,612.8 1483.9,611.3 1484.3,609 1484.7,613.7 1485,606.2 1485.4,609.2 1485.7,611.7 1486.1,607.6 1486.5,611.1 1486.8,608.6 1487.2,611.7 1487.5,610.9 1487.9,603.5 1488.3,611.4 1488.6,606.3 1489,608.8 1489.3,606.2 1489.7,615.5 1490.1,611.8 1490.1,611.6 1490.4,617.4 1490.8,615.4 1491.1,612 1491.5,605.2 1491.9,614.9 1492.2,611.5 1492.6,611.1 1492.9,614.9 1493.3,609.9 1493.7,611.8 1494,615.2 1494.4,614 1494.7,609.6 1495.1,617 1495.5,615.8 1495.8,618.4 1496.2,611.3 1496.5,612.2 1496.9,615.1 1497.3,612.8 1497.6,611.6 1498,610.7 1498.3,609.9 1498.7,608.5 1499.1,608.5 1499.4,612.2 1499.8,609.5 1500.1,605.5 1500.5,610.6 1500.9,616.3 1501.2,615.2 1501.6,602.9 1501.9,607 1502.3,612.8 1502.7,610.2 1503,610.1 1503.4,609.3 1503.5,609.9 1503.7,606.4 1504.1,614.9 1504.5,607.5 1504.8,611.3 1505.2,617.9 1505.5,616.8 1505.9,613.5 1506.3,614 1506.6,612.5 1507,613.4 1507.3,614.9 1507.7,621.1 1508.1,615.4 1508.4,619.5 1508.8,619.6 1509.1,620.1 1509.5,618.2 1509.9,622.4 1510.2,620.9 1510.6,621.3 1510.9,619.8 1511.3,614.3 1511.7,625.2 1512,625.9 1512,621.1 1512.4,616.9 1512.7,613.3 1513.1,603.5 1513.5,604.3 1513.6,602.2 1513.8,603.3 1514.2,604.5 1514.5,595.4 1514.9,605 1515.3,602.5 1515.6,609 1516,609.7 1516.3,609.8 1516.7,607.5 1517.1,618.8 1517.4,609.5 1517.8,607 1518.1,615.1 1518.5,607.4 1518.7,620 1518.9,616.9 1519.2,618.3 1519.6,617.6 1519.9,615.6 1520.3,609.8 1520.7,612.7 1521,617.1 1521.4,614.7 1521.7,617.1 1522.1,613.6 1522.5,613.6 1522.8,617.7 1523.2,619.6 1523.5,617.3 1523.9,614.1 1524.3,612 1524.6,625.4 1525,614.4 1525.3,615.7 1525.7,616.5 1526.1,622.6 1526.4,617 1526.8,622 1527.1,621.4 1527.5,616.6 1527.9,621.5 1528.2,616.9 1528.6,621 1528.9,624.5 1529.3,621.3 1529.7,619.2 1530,621.3 1530.4,622.4 1530.5,624.4 1530.7,614.8 1531.1,616.2 1531.5,624.3 1531.8,621.8 1532.2,622.1 1532.5,622.5 1532.9,620.9 1533.3,619.7 1533.6,621.4 1534,623.2 1534.3,621.8 1534.7,620.4 1535.1,616.3 1535.4,620.7 1535.8,615.3 1536.1,616.8 1536.5,619.7 1536.9,619.3 1537.2,623 1537.6,622 1537.9,620.2 1538.3,616.5 1538.7,617.6 1539,616.4 1539.4,624.9 1539.7,619 1540.1,613.7 1540.5,612.6 1540.6,622.2 1540.8,614.8 1541.2,624.8 1541.5,628.1 1541.9,636.7 1542.2,630.5 1542.3,637.1 1542.6,635.2 1543,637.7 1543.3,640.1 1543.7,633 1544.1,630.6 1544.4,636 1544.8,622.9 1545.1,631.1 1545.5,624 1545.9,622.2 1546.2,619.6 1546.6,618.6 1546.9,631.7 1547.3,631.4 1547.3,627.1 1547.7,633 1548,628.1 1548.4,626 1548.7,623.4 1549.1,634.4 1549.5,635.4 1549.8,638.6 1550.2,627.9 1550.5,631.5 1550.9,626.3 1551.3,640.8 1551.6,639.1 1552,638.8 1552.3,636.6 1552.7,636.6 1553.1,636.1 1553.4,644.9 1553.8,636.1 1554,644.9 1554.1,642 1554.5,635.9 1554.9,634.5 1555.2,639.3 1555.6,644.4 1555.9,638.6 1556.3,650.3 1556.7,654.1 1557,651.9 1557.4,640.6 1557.7,638 1558.1,656.9 1558.5,661.4 1558.8,652 1559.2,658.2 1559.5,654.8 1559.7,653.3 1559.9,661.7 1560.3,651.9 1560.6,658.5 1561,662.1 1561.3,650.7 1561.7,660.6 1562.1,641.8 1562.4,652.9 1562.8,646.7 1563.1,659.7 1563.5,644.5 1563.9,638.7 1564.2,650.9 1564.6,632.2 1564.9,642 1565.3,634.1 1565.7,644.9 1565.8,636.1 1566,641.2 1566.4,635.8 1566.7,629.4 1567.1,623.1 1567.5,644.6 1567.8,635.5 1568.2,627.3 1568.5,631.5 1568.9,638.3 1569.3,624.1 1569.6,644.5 1570,630.1 1570.3,629 1570.7,637.7 1571.1,631.3 1571.4,624.1 1571.8,634.3 1572.1,631.2 1572.5,634.6 1572.5,623.1 1572.9,623.3 1573.2,634.4 1573.6,629.8 1573.9,621.5 1574.3,631.5 1574.7,639.6 1575,633.3 1575.4,645.8 1575.7,637.2 1576.1,640.8 1576.5,633.5 1576.8,639.4 1577.2,644.2 1577.5,649.7 1577.6,647.8 1577.9,651.8 1578.3,632.7 1578.6,644 1579,642.1 1579.3,636.1 1579.7,640.7 1580.1,635.7 1580.4,641.3 1580.8,636 1581.1,639.8 1581.5,630.8 1581.9,642 1582.2,636.2 1582.6,642.9 1582.9,631.2 1583.3,628.2 1583.7,630.7 1584,626.4 1584.3,622.4 1584.4,628.5 1584.7,628.8 1585.1,626.4 1585.5,628.7 1585.8,626.2 1586.2,633.2 1586.5,625.7 1586.9,643.6 1587.3,635 1587.6,641 1588,629.8 1588.3,639.2 1588.7,637.4 1589.1,644.4 1589.4,644.6 1589.8,631.4 1590.1,647.8 1590.5,633.8 1590.9,650.5 1591,643 1591.2,636.9 1591.6,648 1591.9,644.7 1592.3,639.4 1592.7,641.2 1593,648.5 1593.4,638.6 1593.7,641.9 1594.1,657.6 1594.5,643.3 1594.8,650.2 1595.2,651.1 1595.5,654.4 1595.9,654.4 1596.3,635.7 1596.6,647.6 1597,657.5 1597.3,646.8 1597.7,661.9 1597.7,653.1 1598.1,644.9 1598.4,654.9 1598.8,662.4 1599.1,648.4 1599.5,654.9 1599.9,647.5 1600.2,649.2 1600.6,652.8 1600.9,654.8 1601.3,654 1601.7,653.4 1602,663.5 1602.4,647.6 1602.7,644.4 1603.1,655 1603.5,653.5 1603.8,646.8 1604.2,659.7 1604.5,650.1 1604.9,647.5 1605.3,654.6 1605.6,655.4 1606,661.5 1606.3,647.9 1606.7,648.9 1607.1,652.4 1607.4,652 1607.8,653.2 1607.8,651.2 1608.1,648.7 1608.5,652.1 1608.9,655.6 1609.2,655.8 1609.6,651.4 1609.9,655 1610.3,654.7 1610.7,651.9 1611,652.4 1611.4,653.6 1611.7,661.9 1612.1,653.9 1612.5,650.7 1612.8,652.9 1613.2,651.7 1613.5,656.9 1613.9,646.9 1614.3,650.1 1614.6,655.9 1614.6,654.7 1615,654.4 1615.3,657.4 1615.7,652 1616.1,658 1616.4,654.3 1616.8,654.7 1617.1,660.9 1617.5,657.9 1617.9,660 1618.2,663.9 1618.6,659.7 1618.9,665.5 1619.3,671.3 1619.6,664.6 1619.7,668.2 1620,667.8 1620.4,661.8 1620.7,661.7 1621.1,666 1621.5,659.7 1621.8,666.5 1622.2,667.3 1622.5,668.1 1622.9,668.2 1623.3,671.1 1623.6,666.2 1624,671.5 1624.3,669.2 1624.7,669.4 1625.1,667.5 1625.4,671 1625.8,666 1626.1,670.7 1626.3,672 1626.5,665.6 1626.9,662.9 1627.2,661.7 1627.6,662.1 1627.9,661.6 1628.3,661.4 1628.7,662.7 1628.7,661.7 1629,658.3 1629.4,657.2 1629.7,655.5 1630.1,662.5 1630.5,662.4 1630.8,660.8 1631.2,662 1631.5,662.9 1631.9,656.3 1632.3,664.8 1632.6,666.8 1633,666.2 1633.1,663.6 1633.3,667.6 1633.7,669.7 1634.1,674.6 1634.4,673.2 1634.8,672.6 1635.1,671.5 1635.5,668.4 1635.9,671.9 1636.2,670 1636.6,674.7 1636.9,679.1 1637.3,679.9 1637.4,679.7 1637.7,677.1 1638,680.2 1638.4,676.6 1638.7,671.6 1639.1,678.1 1639.5,677.9 1639.8,672.7 1640.2,676.5 1640.5,670.8 1640.9,677 1641.3,682.2 1641.5,676.7 1641.6,681.1 1642,673.2 1642.3,665.6 1642.7,657.8 1643.1,660.9 1643.2,658.8 1643.4,651.7 1643.8,653.9 1644.1,657.6 1644.5,651 1644.9,653.5 1645.2,645.4 1645.6,647.6 1645.9,651.6 1646.3,644.9 1646.7,643.1 1647,642.3 1647.4,644.4 1647.7,639.8 1648.1,643.3 1648.2,645.1 1648.5,646.8 1648.8,639.2 1649.2,643.6 1649.5,638.7 1649.9,634.7 1650.3,635.2 1650.6,636.6 1651,634.8 1651.3,630.8 1651.7,626.6 1652.1,627.7 1652.4,624.1 1652.8,622.3 1653.1,620.8 1653.2,625.3 1653.5,614.6 1653.9,616.3 1654.2,611.4 1654.6,615.6 1654.9,614.5 1655.3,613.5 1655.7,606.5 1656,606 1656.4,606.4 1656.7,602.8 1657.1,601.3 1657.5,599.3 1657.6,598.8 1657.8,597.5 1658.2,598.9 1658.5,592.9 1658.9,595.8 1659.3,592.8 1659.6,596.3 1660,594.1 1660,597.9 1660.3,623 1660.6,632.9 1660.7,633.9 1661.1,635.9 1661.4,637.9 1661.8,634.5 1662.1,632.1 1662.5,629.2 1662.9,626.7 1663.2,627.8 1663.6,626.8 1663.9,624.3 1664.3,620.7 1664.7,616.2 1665,617.2 1665,618.6 1665.4,616 1665.7,620.2 1666.1,614.6 1666.5,617.7 1666.8,619.4 1667.2,620.5 1667.5,618.5 1667.9,621.1 1668.3,615.4 1668.6,614.5 1669,619.9 1669.3,613.7 1669.7,615.6 1670.1,610.5 1670.4,618.9 1670.8,617.3 1671.1,612.6 1671.5,609.3 1671.9,615.1 1672.2,614.8 1672.6,617.3 1672.9,619.1 1673.3,613.9 1673.4,612.4 1673.7,612.2 1674,611.8 1674.4,608.4 1674.7,609.6 1675.1,611.8 1675.5,606.9 1675.8,607.7 1676.2,615.2 1676.5,609.2 1676.9,613.5 1677.3,614.2 1677.6,610.7 1678,612.9 1678.3,609.7 1678.7,607.4 1679.1,609.5 1679.1,610 1679.4,610.6 1679.8,610.9 1680.1,610 1680.5,614.9 1680.9,611.6 1681.2,611.4 1681.6,616 1681.9,610.7 1682.3,614.2 1682.7,619.1 1683,615.4 1683.4,620 1683.7,615.4 1684.1,615.1 1684.5,616.7 1684.8,616 1685.2,617.1 1685.2,616.9 1685.5,622.3 1685.9,622.9 1686.3,622.8 1686.6,623 1686.9,636.3 1687,626.1 1687.3,631.1 1687.7,623.6 1688.1,625.2 1688.4,631.3 1688.8,624.5 1689.1,624.9 1689.5,628.2 1689.9,626.4 1690.2,627.9 1690.6,629.5 1690.9,631.9 1691.3,630.1 1691.7,630.6 1691.9,633.9 1692,634.2 1692.4,628.9 1692.7,624.3 1693.1,626.9 1693.5,633.1 1693.8,628.5 1694.2,627.8 1694.5,628.6 1694.9,634.7 1695.3,630.1 1695.6,628.8 1696,627.8 1696.3,626.6 1696.7,638.4 1697.1,629.8 1697.4,630.4 1697.8,629 1698.1,633.2 1698.5,626.9 1698.9,624.1 1699.2,628.2 1699.6,630.9 1699.9,636.8 1700.3,629.7 1700.7,627.3 1701,629.3 1701.4,627.6 1701.7,627.6 1702,630.2 1702.1,630.9 1702.5,628.1 1702.8,633.5 1703.2,630.1 1703.5,630.8 1703.9,629 1704.3,631.8 1704.6,632.1 1705,632.9 1705.3,628.6 1705.7,633.1 1706.1,629.6 1706.4,631.7 1706.8,633.8 1707.1,636.3 1707.5,630.5 1707.9,628.6 1708.2,632.5 1708.6,635.9 1708.9,631.3 1709.3,639.8 1709.7,626.9 1710,637.2 1710.4,636.3 1710.7,636.3 1711.1,630.5 1711.5,637.3 1711.8,636.8 1712.1,637.1 1712.2,632.7 1712.5,632.9 1712.9,637.8 1713.3,635.1 1713.6,633.2 1714,632 1714.3,635.5 1714.7,630.8 1715.1,636.9 1715.4,635.8 1715.8,630.9 1716.1,637.2 1716.5,639.6 1716.9,637 1717.2,632.4 1717.6,634.8 1717.9,639.4 1718.3,633.1 1718.7,636.2 1718.8,640.8 1719,636.5 1719.4,635.6 1719.7,639.7 1720.1,642.1 1720.5,638.4 1720.8,633.2 1721.2,632.3 1721.5,636.4 1721.9,631.7 1722.3,636.9 1722.6,639.8 1723,629 1723.3,636.5 1723.7,638 1724.1,635.3 1724.4,638.1 1724.8,638.4 1725.1,640.1 1725.5,645 1725.9,637.8 1726.2,634.1 1726.6,633.7 1726.9,633 1727.2,638.9" stroke="#f00" stroke-width="2.08"/></g><line x1="1725.8" y1="478.0" x2="1725.8" y2="821.8" stroke="#1f77b4" stroke-width="2.08" stroke-dasharray="2.08 3.43"/><rect x="1205.2" y="478.0" width="595.0" height="343.8" fill="none" stroke="#000" stroke-width="2.08"/><line x1="1800.2" y1="477.0" x2="1800.2" y2="822.8" stroke="#f00" stroke-width="2.08"/><path d="M1205.2,512.4h5.5M1205.2,581.1h5.5M1205.2,649.9h5.5M1205.2,718.7h5.5M1205.2,787.4h5.5" stroke="#000" stroke-width="1.1" fill="none"/><path d="M1245.0,821.8v-5.5M1319.4,821.8v-5.5M1393.7,821.8v-5.5M1468.1,821.8v-5.5M1542.5,821.8v-5.5M1616.9,821.8v-5.5M1691.2,821.8v-5.5M1765.6,821.8v-5.5" stroke="#000" stroke-width="1.1" fill="none"/><text x="1200.20" y="520.18" font-size="20.58" textLength="12.47" lengthAdjust="spacingAndGlyphs" text-anchor="end">0</text><text x="1200.20" y="588.94" font-size="20.58" textLength="53.83" lengthAdjust="spacingAndGlyphs" text-anchor="end">−100</text><text x="1200.20" y="657.70" font-size="20.58" textLength="53.83" lengthAdjust="spacingAndGlyphs" text-anchor="end">−200</text><text x="1200.20" y="726.46" font-size="20.58" textLength="53.83" lengthAdjust="spacingAndGlyphs" text-anchor="end">−300</text><text x="1200.20" y="795.22" font-size="20.58" textLength="53.83" lengthAdjust="spacingAndGlyphs" text-anchor="end">−400</text><path d="M1800.2,735.8h-5.5M1800.2,649.9h-5.5M1800.2,564.0h-5.5" stroke="#f00" stroke-width="1.1" fill="none"/><path d="M1800.2,795.9h-3.7M1800.2,780.8h-3.7M1800.2,770.1h-3.7M1800.2,761.7h-3.7M1800.2,754.9h-3.7M1800.2,749.2h-3.7M1800.2,744.2h-3.7M1800.2,739.8h-3.7M1800.2,710.0h-3.7M1800.2,694.8h-3.7M1800.2,684.1h-3.7M1800.2,675.8h-3.7M1800.2,669.0h-3.7M1800.2,663.2h-3.7M1800.2,658.2h-3.7M1800.2,653.8h-3.7M1800.2,624.0h-3.7M1800.2,608.9h-3.7M1800.2,598.2h-3.7M1800.2,589.8h-3.7M1800.2,583.0h-3.7M1800.2,577.3h-3.7M1800.2,572.3h-3.7M1800.2,567.9h-3.7M1800.2,538.1h-3.7M1800.2,522.9h-3.7M1800.2,512.2h-3.7M1800.2,503.9h-3.7M1800.2,497.1h-3.7M1800.2,491.3h-3.7M1800.2,486.3h-3.7M1800.2,481.9h-3.7" stroke="#f00" stroke-width="1.0" fill="none"/><text x="1806.80" y="829.60" font-size="20.58" textLength="24.94" lengthAdjust="spacingAndGlyphs" fill="#f00">10</text><text x="1832.24" y="821.76" font-size="13.79" textLength="19.36" lengthAdjust="spacingAndGlyphs" fill="#f00">−2</text><text x="1806.80" y="743.65" font-size="20.58" textLength="24.94" lengthAdjust="spacingAndGlyphs" fill="#f00">10</text><text x="1832.24" y="735.81" font-size="13.79" textLength="19.36" lengthAdjust="spacingAndGlyphs" fill="#f00">−1</text><text x="1806.80" y="657.70" font-size="20.58" textLength="24.94" lengthAdjust="spacingAndGlyphs" fill="#f00">10</text><text x="1832.24" y="649.86" font-size="13.79" textLength="8.36" lengthAdjust="spacingAndGlyphs" fill="#f00">0</text><text x="1806.80" y="571.75" font-size="20.58" textLength="24.94" lengthAdjust="spacingAndGlyphs" fill="#f00">10</text><text x="1832.24" y="563.91" font-size="13.79" textLength="8.36" lengthAdjust="spacingAndGlyphs" fill="#f00">1</text><text x="1806.80" y="485.80" font-size="20.58" textLength="24.94" lengthAdjust="spacingAndGlyphs" fill="#f00">10</text><text x="1832.24" y="477.96" font-size="13.79" textLength="8.36" lengthAdjust="spacingAndGlyphs" fill="#f00">2</text><text x="0" y="0" font-size="25.20" textLength="40.39" lengthAdjust="spacingAndGlyphs" text-anchor="middle" transform="translate(1105.50 651.50) rotate(-90)">Dst</text><g transform="translate(1134.00 650.50) rotate(-90)"><text x="-31.93" y="0" font-size="25.20" textLength="9.36" lengthAdjust="spacingAndGlyphs">(</text><text x="-14.94" y="0" font-size="25.20" textLength="29.87" lengthAdjust="spacingAndGlyphs">nT</text><text x="22.56" y="0" font-size="25.20" textLength="9.36" lengthAdjust="spacingAndGlyphs">)</text></g><g transform="translate(1874.50 650.00) rotate(-90)" fill="#f00"><text x="-74.54" y="0" font-size="25.20" textLength="38.96" lengthAdjust="spacingAndGlyphs">SW</text><text x="-27.94" y="0" font-size="25.20" textLength="102.48" lengthAdjust="spacingAndGlyphs">Pressure</text></g><g transform="translate(1906.00 650.00) rotate(-90)" fill="#f00"><text x="-38.65" y="0" font-size="25.20" textLength="9.36" lengthAdjust="spacingAndGlyphs">(</text><text x="-21.66" y="0" font-size="25.20" textLength="43.31" lengthAdjust="spacingAndGlyphs">nPa</text><text x="29.29" y="0" font-size="25.20" textLength="9.36" lengthAdjust="spacingAndGlyphs">)</text></g><g clip-path="url(#r3)" fill="none" stroke-linejoin="round"><line x1="1205.2" y1="931.0" x2="1800.2" y2="931.0" stroke="#000" stroke-width="2.08" stroke-dasharray="2.08 3.43"/><path d="M1205.2,993.4 1205.5,985.1 1205.9,994.4 1206.2,1004.2 1206.5,999.3 1206.8,1006 1207.2,1000.6 1207.5,989.7 1207.8,994.2 1208.2,997.8 1208.5,993.4 1208.8,1001.1 1209.2,989.8 1209.5,995.2 1209.8,991.9 1210.1,991.1 1210.5,1004.9 1210.8,999.7 1211.1,1007.2 1211.5,993.9 1211.8,993 1212.1,993 1212.5,992.5 1212.8,996.5 1213.1,998.4 1213.4,995.8 1213.8,994.9 1214.1,997.6 1214.4,991.8 1214.8,1006.9 1215.1,1001 1215.4,999.8 1215.8,999 1216.1,1000.7 1216.4,1010.4 1216.7,997.3 1217.1,1000.9 1217.4,992.9 1217.7,997.1 1218.1,989.7 1218.4,1005.6 1218.7,1003.1 1219.1,1004.8 1219.4,1005.8 1219.7,993.4 1220,1001.9 1220.4,991.6 1220.7,1002.5 1221,990.9 1221.4,994.6 1221.7,992.3 1222,1000.3 1222.4,990.7 1222.7,997 1223,998.4 1223.3,1006.5 1223.7,1006.7 1224,1001.7 1224.3,1004.4 1224.7,988.9 1225,996.9 1225.3,995.7 1225.7,1002.4 1226,992.2 1226.3,1007.4 1226.6,996 1227,1007 1227.3,1006.3 1227.6,999.1 1228,988.1 1228.3,990.9 1228.6,996.9 1229,1003.5 1229.3,999.1 1229.6,1009 1229.9,1008.8 1230.3,996.2 1230.6,1009.1 1230.9,1000.3 1231.3,991.4 1231.6,987.7 1231.9,997 1232.3,998.1 1232.6,993.7 1232.9,1008.7 1233.2,995.8 1233.6,1005.9 1233.9,993.1 1234.2,998.3 1234.6,996.9 1234.9,1004.2 1235.2,997.4 1235.6,993.1 1235.9,1004.6 1236.2,1001.8 1236.5,994.6 1236.9,994.7 1237.2,993.5 1237.5,1005 1237.9,997.8 1238.2,1004.8 1238.5,1001.2 1238.9,1005.8 1239.2,1006.1 1239.5,999 1239.8,995.9 1240.2,997 1240.5,1000.1 1240.8,1011.1 1241.2,996.3 1241.5,1002.9 1241.8,993.7 1242.2,1002.5 1242.5,1003.2 1242.8,991.1 1243.1,1005 1243.5,1005.2 1243.8,1009.5 1244.1,1005.3 1244.5,997.2 1244.8,993.9 1245.1,996.3 1245.5,1005.7 1245.8,1002.3 1246.1,999.7 1246.4,988.5 1246.8,990.9 1247.1,1000.7 1247.4,1007.1 1247.8,1001.9 1248.1,997.4 1248.4,990 1248.8,995.2 1249.1,1001.4 1249.4,996.1 1249.7,1000.1 1250.1,992.3 1250.4,1000.3 1250.7,999 1251.1,987.3 1251.4,1007.5 1251.7,1006.1 1252.1,993 1252.4,1002.3 1252.7,1005.4 1253,999.9 1253.4,1005.3 1253.7,992.5 1254,991 1254.4,994.7 1254.7,1006.1 1255,995.1 1255.4,1004.9 1255.7,993 1256,993.1 1256.3,998.5 1256.7,1005.6 1257,1003.2 1257.3,1003.9 1257.7,1002.1 1258,991.9 1258.3,1003.5 1258.7,1004.2 1259,1005.4 1259.3,993.6 1259.6,998.3 1260,993.5 1260.3,1007.3 1260.6,998.1 1261,1007.4 1261.3,995 1261.6,999.3 1262,996.1 1262.3,1001.2 1262.6,1006.3 1262.9,992.4 1263.3,997.7 1263.6,996.2 1263.9,989.8 1264.3,988.1 1264.6,1010 1264.9,996.9 1265.3,1003.1 1265.6,1004.2 1265.9,1001.6 1266.2,996.2 1266.6,1002.9 1266.9,1008.4 1267.2,998.9 1267.6,1005.2 1267.9,1005.5 1268.2,1003.7 1268.6,1002.5 1268.9,1007.4 1269.2,999.6 1269.5,1006 1269.9,993.3 1270.2,1002.6 1270.5,992.1 1270.9,997.7 1271.2,1001.4 1271.5,1004.4 1271.9,1002.6 1272.2,994.3 1272.5,990.2 1272.8,992.3 1273.2,1001.3 1273.5,991.5 1273.8,1005.6 1274.2,1003.3 1274.5,996.3 1274.8,1002.6 1275.2,992.9 1275.5,1001.7 1275.8,992.8 1276.1,1002.1 1276.5,995.3 1276.8,1000.6 1277.1,1003.1 1277.5,994.1 1277.8,992.7 1278.1,994 1278.5,1006.6 1278.8,1008.4 1279.1,1001.2 1279.4,991.1 1279.8,1001.7 1280.1,996.8 1280.4,991.2 1280.8,1003.8 1281.1,1005.8 1281.4,1000.2 1281.8,1000.7 1282.1,1011.2 1282.4,987.6 1282.7,1008.7 1283.1,1008 1283.4,1008 1283.7,1000.8 1284.1,1006.1 1284.4,999.5 1284.7,997.7 1285.1,999.6 1285.4,991.3 1285.7,988.3 1286,1000 1286.4,1001.5 1286.7,992.2 1287,1005.8 1287.4,993.8 1287.7,995.1 1288,999.2 1288.4,1005.7 1288.7,999.3 1289,1005.6 1289.3,1006.1 1289.7,1000.6 1290,1008.7 1290.3,996.4 1290.7,1001.6 1291,1001.8 1291.3,991 1291.7,994.9 1292,1007.4 1292.3,995.1 1292.6,1007.6 1293,988.7 1293.3,993.6 1293.6,995.1 1294,990.7 1294.3,1003.4 1294.6,993.5 1295,1001.6 1295.3,990.1 1295.6,1000.6 1295.9,999.5 1296.3,999.2 1296.6,1007.1 1296.9,995.9 1297.3,1003.6 1297.6,1005.2 1297.9,995.7 1298.3,995.4 1298.6,1002 1298.9,992.4 1299.2,991.8 1299.6,1001.8 1299.9,1004.2 1300.2,990.2 1300.6,1000.6 1300.9,999.1 1301.2,999.8 1301.6,1008.6 1301.9,990.2 1302.2,993.7 1302.5,988.9 1302.9,1002.2 1303.2,1006 1303.5,1000.5 1303.9,991.1 1304.2,999.7 1304.5,990.6 1304.9,993.1 1305.2,996 1305.5,1005.5 1305.8,1004.6 1306.2,1008.9 1306.5,999.2 1306.8,992.9 1307.2,996.4 1307.5,992.6 1307.8,997.7 1308.2,1002.1 1308.5,1003.1 1308.8,1011.4 1309.1,996.8 1309.5,990.5 1309.8,1007.6 1310.1,994 1310.5,996.8 1310.8,992.1 1311.1,1004 1311.5,1008.9 1311.8,994.7 1312.1,1000.9 1312.4,987.7 1312.8,1003.3 1313.1,992.6 1313.4,995.5 1313.8,1000.3 1314.1,999 1314.4,1006.4 1314.8,992.4 1315.1,992.3 1315.4,992.1 1315.7,997.9 1316.1,1003 1316.4,1007.8 1316.7,1009.8 1317.1,991.7 1317.4,994.4 1317.7,996.3 1318.1,1001.9 1318.4,1007.4 1318.7,999.8 1319,988.4 1319.4,1003.3 1319.7,1001.4 1320,997.3 1320.4,1000.4 1320.7,995 1321,995.2 1321.4,1001 1321.7,996.6 1322,997 1322.3,993.2 1322.7,1008.4 1323,999.9 1323.3,1006.7 1323.7,1001.8 1324,990.4 1324.3,992.7 1324.7,994.7 1325,996.6 1325.3,994.8 1325.6,997.2 1326,1005.7 1326.3,991.7 1326.6,990.5 1327,1003.3 1327.3,1002.9 1327.6,994.3 1328,990.7 1328.3,996.3 1328.6,1003.7 1328.9,994.8 1329.3,999.7 1329.6,998.7 1329.9,1007 1330.3,1001.3 1330.6,996.7 1330.9,997.1 1331.3,993.9 1331.6,1006.2 1331.9,993 1332.2,990.3 1332.6,996.1 1332.9,1003.2 1333.2,1000.2 1333.6,978.4 1333.9,994 1334.2,1005.7 1334.6,1004.2 1334.9,994.7 1335.2,989.3 1335.5,996.9 1335.9,994.3 1336.2,1004.9 1336.5,1003.2 1336.9,995.4 1337.2,1007.5 1337.5,1001 1337.9,989 1338.2,986.8 1338.5,993.8 1338.8,1010.4 1339.2,1002.3 1339.5,994.3 1339.8,1006 1340.2,998 1340.5,1010.3 1340.8,1000.4 1341.2,987.7 1341.5,997.1 1341.8,1002.9 1342.1,998.1 1342.5,1002.4 1342.8,989.1 1343.1,987.5 1343.5,990.7 1343.8,992.2 1344.1,995.6 1344.5,1007.7 1344.8,1003.7 1345.1,990.3 1345.4,990.9 1345.8,1004 1346.1,1003.3 1346.4,1006.6 1346.8,996.3 1347.1,988.8 1347.4,1005 1347.8,1001 1348.1,1006.9 1348.4,995.9 1348.7,990.8 1349.1,989.9 1349.4,1009.4 1349.7,996.5 1350.1,990.7 1350.4,992.7 1350.7,1002 1351.1,996.3 1351.4,1005.4 1351.7,1001.3 1352,993.6 1352.4,1002.2 1352.7,997 1353,1002.9 1353.4,994.8 1353.7,996.7 1354,993.8 1354.4,994.1 1354.7,997.6 1355,1001.5 1355.3,1001.7 1355.7,994.6 1356,998 1356.3,998 1356.7,993.6 1357,1002.2 1357.3,996.1 1357.7,993.7 1358,1002.3 1358.3,993.8 1358.6,996.8 1359,1005 1359.3,991.1 1359.6,1000.7 1360,1001.4 1360.3,994.2 1360.6,991.6 1361,998.2 1361.3,994.2 1361.6,997.5 1361.9,993 1362.3,998 1362.6,1009 1362.9,991.4 1363.3,1000.7 1363.6,997.8 1363.9,1007.8 1364.3,1006.3 1364.6,998.8 1364.9,996.2 1365.2,1008.7 1365.6,1007.9 1365.9,1006 1366.2,992.1 1366.6,997 1366.9,998.9 1367.2,995.2 1367.6,993.3 1367.9,996.8 1368.2,993.2 1368.5,1007.2 1368.9,1008.1 1369.2,1002.2 1369.5,1001.1 1369.9,1010.9 1370.2,989.2 1370.5,1004.7 1370.9,993 1371.2,998.3 1371.5,994.9 1371.8,992.3 1372.2,1008.1 1372.5,1005.4 1372.8,997.1 1373.2,991.8 1373.5,1004.8 1373.8,997.1 1374.2,1005.2 1374.5,1002.3 1374.8,1005.1 1375.1,1002 1375.5,1011.2 1375.8,993.3 1376.1,1005.5 1376.5,1001.4 1376.8,1003.1 1377.1,1006.7 1377.5,991.8 1377.8,995.8 1378.1,1004.1 1378.4,1006.9 1378.8,994 1379.1,999 1379.4,1006.6 1379.8,1011.1 1380.1,1010 1380.4,992.1 1380.8,997.8 1381.1,998.3 1381.4,999.3 1381.7,1006.1 1382.1,999.3 1382.4,995.8 1382.7,1002.7 1383.1,1004.4 1383.4,1002 1383.7,1006.6 1384.1,998.7 1384.4,1004.8 1384.7,1005.9 1385,990.8 1385.4,1000.9 1385.7,989.7 1386,994.5 1386.4,1002 1386.7,1002.7 1387,1005.2 1387.4,1004.5 1387.7,994.9 1388,998.4 1388.3,1006.4 1388.7,995.2 1389,1006.4 1389.3,987.6 1389.7,997.1 1390,990.6 1390.3,995.4 1390.7,1006.6 1391,1004.4 1391.3,998.5 1391.6,994.4 1392,997 1392.3,1004.8 1392.6,993.9 1393,1003.9 1393.3,996.5 1393.6,994.7 1394,1009.3 1394.3,992.5 1394.6,1008.4 1394.9,998.6 1395.3,1009.8 1395.6,1003.8 1395.9,1007.6 1396.3,1000.7 1396.6,999.4 1396.9,1002.7 1397.3,998.2 1397.6,988.3 1397.9,994.3 1398.2,1007.5 1398.6,1005.9 1398.9,988.9 1399.2,997.8 1399.6,998.2 1399.9,987 1400.2,992.4 1400.6,1005.5 1400.9,1006.7 1401.2,1005.7 1401.5,995.3 1401.9,1008.6 1402.2,1009.3 1402.5,1005.3 1402.9,995.6 1403.2,991 1403.5,999.6 1403.9,1008.6 1404.2,999.6 1404.5,998.4 1404.8,990.1 1405.2,995.6 1405.5,994.4 1405.8,999.1 1406.2,999.2 1406.5,992.1 1406.8,991.4 1407.2,1001.9 1407.5,993.4 1407.8,1002.7 1408.1,1001.2 1408.5,1005.9 1408.8,994.6 1409.1,1008.3 1409.5,1005.2 1409.8,999.5 1410.1,996.1 1410.5,993.4 1410.8,1000.9 1411.1,992.4 1411.4,997.4 1411.8,993.3 1412.1,1002.4 1412.4,1001.9 1412.8,1003.3 1413.1,1005.7 1413.4,1000.7 1413.8,997.3 1414.1,995.1 1414.4,1000.1 1414.7,998 1415.1,998 1415.4,995.6 1415.7,993.2 1416.1,1004.5 1416.4,1007.3 1416.7,1002.4 1417.1,1002 1417.4,992 1417.7,998.6 1418,1007.4 1418.4,1007.7 1418.7,991.9 1419,1007.7 1419.4,994.3 1419.7,1007.1 1420,993 1420.4,1003.9 1420.7,1011.2 1421,991.1 1421.3,988.2 1421.7,1000.3 1422,998.1 1422.3,1009.3 1422.7,995.2 1423,987.5 1423.3,1007.2 1423.7,1001.7 1424,999.9 1424.3,1002.2 1424.6,1007.1 1425,994.4 1425.3,994.8 1425.6,1007.5 1426,1000 1426.3,991.1 1426.6,1004.9 1427,1001.1 1427.3,988 1427.6,996.3 1427.9,1001 1428.3,1008.7 1428.6,1003.7 1428.9,991.1 1429.3,1004.2 1429.6,998.1 1429.9,1004.3 1430.3,1004.6 1430.6,992.8 1430.9,1003.3 1431.2,1007.3 1431.6,1010.2 1431.9,998.7 1432.2,991.8 1432.6,1001.3 1432.9,989.8 1433.2,1000.8 1433.6,1003.9 1433.9,1000.9 1434.2,1004.1 1434.5,1003.3 1434.9,999.1 1435.2,993.8 1435.5,1006 1435.9,999.8 1436.2,1003.8 1436.5,998 1436.9,1006.1 1437.2,997 1437.5,1001.2 1437.8,1002 1438.2,1000.2 1438.5,1006.3 1438.8,993.6 1439.2,989.4 1439.5,994.2 1439.8,998.5 1440.2,1003.6 1440.5,994.2 1440.8,998.1 1441.1,1002.4 1441.5,983 1441.8,1002.2 1442.1,1002.4 1442.5,992.6 1442.8,1008.7 1443.1,1006.6 1443.5,1008.1 1443.8,993.4 1444.1,995.1 1444.4,1000.4 1444.8,1007.1 1445.1,988.6 1445.4,995.8 1445.8,1001.8 1446.1,995.5 1446.4,995.4 1446.8,1010.7 1447.1,1001.2 1447.4,1004 1447.7,991 1448.1,994.5 1448.4,993 1448.7,993.4 1449.1,990.4 1449.4,991.9 1449.7,1004.6 1450.1,995 1450.4,1009 1450.7,987.6 1451,995.7 1451.4,996.3 1451.7,998.2 1452,1001.5 1452.4,999.7 1452.7,996.8 1453,996.8 1453.4,1004.7 1453.7,996.2 1454,1002.7 1454.3,999.7 1454.7,992.8 1455,1005 1455.3,1000.2 1455.7,1001.8 1456,992 1456.3,998.5 1456.7,999.8 1457,998.1 1457.3,997.7 1457.6,993.1 1458,999.5 1458.3,1004.5 1458.6,1001.5 1459,994.7 1459.3,994.8 1459.6,997.4 1460,996.2 1460.3,995.2 1460.6,998.3 1460.9,996 1461.3,1000.4 1461.6,1006 1461.9,996 1462.3,1002.5 1462.6,993.4 1462.9,993.8 1463.3,1005.9 1463.6,1005 1463.9,1004.1 1464.2,1007.8 1464.6,1009 1464.9,1007.5 1465.2,1004.3 1465.6,1008.1 1465.9,994.9 1466.2,999.1 1466.6,993.5 1466.9,993.9 1467.2,998 1467.5,996.9 1467.9,1002.9 1468.2,997.3 1468.5,992 1468.9,989.3 1469.2,995.6 1469.5,1005.3 1469.9,1002.8 1470.2,1007 1470.5,1006.3 1470.8,1001.5 1471.2,995.3 1471.5,1001.2 1471.8,996.7 1472.2,1000 1472.5,1006.2 1472.8,1002.9 1473.2,987.8 1473.5,995.1 1473.8,991.4 1474.1,1008.8 1474.5,1007.4 1474.8,1001.4 1475.1,1007.3 1475.5,994.4 1475.8,1003.5 1476.1,994.6 1476.5,1006.7 1476.8,997.6 1477.1,999.2 1477.4,997.4 1477.8,998.2 1478.1,1005.4 1478.4,1009.2 1478.8,994.7 1479.1,1006.5 1479.4,1008.1 1479.8,1000 1480.1,1001.9 1480.4,1005.6 1480.7,1002.1 1481.1,1000.5 1481.4,1005.9 1481.7,1000.5 1482.1,1004.4 1482.4,1009.7 1482.7,995.4 1483.1,1004.7 1483.4,992.8 1483.7,1000.6 1484,1003.5 1484.4,1006.9 1484.7,995.1 1485,1008.2 1485.4,1003.2 1485.7,1006.3 1486,995.4 1486.4,1000.3 1486.7,998.4 1487,1011.6 1487.3,1007.3 1487.7,992.8 1488,1007.5 1488.3,997.1 1488.7,999 1489,992.7 1489.3,999.8 1489.7,1006.9 1490,998.7 1490.3,992.5 1490.6,1005.5 1491,998.9 1491.3,990.3 1491.6,1003.9 1492,993 1492.3,1002.4 1492.6,997.8 1493,995.1 1493.3,998.5 1493.6,995.7 1493.9,998.9 1494.3,1001 1494.6,999.7 1494.9,989.3 1495.3,1000.7 1495.6,1005.9 1495.9,1004.8 1496.3,998 1496.6,996.6 1496.9,992.1 1497.2,1003.9 1497.6,993.6 1497.9,990.9 1498.2,1003.3 1498.6,996.4 1498.9,999.9 1499.2,991.9 1499.6,995.1 1499.9,990.6 1500.2,1010.5 1500.5,992.1 1500.9,1005.8 1501.2,991.6 1501.5,994.4 1501.9,1003.7 1502.2,1003 1502.5,988.1 1502.9,990.2 1503.2,991.2 1503.5,997.3 1503.8,996.6 1504.2,1000.4 1504.5,1005.6 1504.8,990.6 1505.2,1003 1505.5,1010 1505.8,997 1506.2,1003.7 1506.5,998.4 1506.8,994.6 1507.1,1000.4 1507.5,988 1507.8,1004.1 1508.1,1000.5 1508.5,994.5 1508.8,992.3 1509.1,1008.2 1509.5,1002.8 1509.8,992.4 1510.1,1004.8 1510.4,991.9 1510.8,998.9 1511.1,993.2 1511.4,1007.5 1511.8,1001.8 1512.1,1002.9 1512.4,996.7 1512.8,996.6 1513.1,992.3 1513.4,1006.8 1513.7,991.5 1514.1,1001.2 1514.4,994.4 1514.7,992.5 1515.1,990.1 1515.4,997 1515.7,993.7 1516.1,1008.2 1516.4,1001.9 1516.7,992.9 1517,992.1 1517.4,999.2 1517.7,1004.8 1518,995.9 1518.4,1001.1 1518.7,995.2 1519,1011.6 1519.4,995.9 1519.7,995.5 1520,1001.3 1520.3,996.6 1520.7,1006.8 1521,1004.6 1521.3,1003 1521.7,1011.2 1522,998 1522.3,992.1 1522.7,996.8 1523,993.5 1523.3,991.8 1523.6,998.1 1524,989 1524.3,989 1524.6,1000.2 1525,991.6 1525.3,1005.4 1525.6,990.2 1526,993.7 1526.3,1001.8 1526.6,1004.1 1526.9,1005.8 1527.3,1006.7 1527.6,998.8 1527.9,993.3 1528.3,988.8 1528.6,1008.4 1528.9,1001.6 1529.3,998 1529.6,1004.9 1529.9,1002.1 1530.2,1004.2 1530.6,991.4 1530.9,1007.3 1531.2,1007.5 1531.6,999.2 1531.9,998.1 1532.2,999.5 1532.6,1000.8 1532.9,994.7 1533.2,1010.1 1533.5,997.2 1533.9,988.9 1534.2,1001.1 1534.5,991.2 1534.9,1010.8 1535.2,1006.5 1535.5,1004.5 1535.9,990.1 1536.2,1005.2 1536.5,994.4 1536.8,1001.7 1537.2,994.8 1537.5,1005.1 1537.8,1003 1538.2,996.5 1538.5,995.4 1538.8,1005.5 1539.2,1010.5 1539.5,994.2 1539.8,1007 1540.1,1001.2 1540.5,996.1 1540.8,999.3 1541.1,988.6 1541.5,999.8 1541.8,1002 1542.1,999.9 1542.5,990.6 1542.8,1005.1 1543.1,999.4 1543.4,994.9 1543.8,1005.3 1544.1,1002.5 1544.4,991 1544.8,998.2 1545.1,1005.2 1545.4,1003.1 1545.8,997.4 1546.1,1006.2 1546.4,999.1 1546.7,993.8 1547.1,994.2 1547.4,1009 1547.7,996 1548.1,1001.3 1548.4,994.1 1548.7,996.5 1549.1,996.1 1549.4,988 1549.7,979.3 1550,992.1 1550.4,1005.2 1550.7,994.2 1551,998.2 1551.4,1001.6 1551.7,999.8 1552,1009.8 1552.4,1005.5 1552.7,1006 1553,995.8 1553.3,1008.5 1553.7,1009 1554,1002.4 1554.3,1007.3 1554.7,993.3 1555,1009 1555.3,995.2 1555.7,1004.5 1556,991.9 1556.3,1004.7 1556.6,1000.7 1557,997.9 1557.3,994.1 1557.6,999.1 1558,994.4 1558.3,997 1558.6,1009.9 1559,996.4 1559.3,1006.4 1559.6,998.6 1559.9,1006.5 1560.3,1003.9 1560.6,1005.8 1560.9,1004.7 1561.3,1001.6 1561.6,1005.3 1561.9,1002.2 1562.3,1004.9 1562.6,1003.1 1562.9,998.7 1563.2,995.5 1563.6,996.8 1563.9,1004.7 1564.2,994 1564.6,995.7 1564.9,1006.4 1565.2,1003.5 1565.6,995.7 1565.9,1004.5 1566.2,998.2 1566.5,993.3 1566.9,1008.6 1567.2,990.3 1567.5,1007.8 1567.9,998.3 1568.2,1000.3 1568.5,999.3 1568.9,998.9 1569.2,1007 1569.5,996.2 1569.8,1010.7 1570.2,1001.4 1570.5,1005.7 1570.8,994.4 1571.2,993.3 1571.5,996.4 1571.8,1008.1 1572.2,997.7 1572.5,1005.9 1572.8,1003.7 1573.1,992.4 1573.5,999.5 1573.8,990.8 1574.1,999.7 1574.5,991.8 1574.8,1002.2 1575.1,998.6 1575.5,1001.5 1575.8,998.6 1576.1,1001.2 1576.4,997.6 1576.8,994.8 1577.1,1006.2 1577.4,1000.3 1577.8,994 1578.1,996.5 1578.4,1006.5 1578.8,1000.4 1579.1,999.2 1579.4,1000.9 1579.7,1003.2 1580.1,1011.2 1580.4,991.2 1580.7,1010.5 1581.1,988.8 1581.4,1001.6 1581.7,998.5 1582.1,999 1582.4,997.5 1582.7,1005.9 1583,999.2 1583.4,1003.4 1583.7,992.5 1584,991.1 1584.4,993 1584.7,995 1585,993.9 1585.4,998.7 1585.7,1002.3 1586,1008.4 1586.3,1009.8 1586.7,1002.6 1587,1006 1587.3,1000 1587.7,1005.5 1588,1006.2 1588.3,1003.6 1588.7,997.9 1589,1004.7 1589.3,1006.5 1589.6,1009.5 1590,1004.4 1590.3,1001.2 1590.6,995 1591,987 1591.3,994.9 1591.6,1003.7 1592,984.7 1592.3,1002.7 1592.6,993.8 1592.9,992.1 1593.3,1008.7 1593.6,990.5 1593.9,1007.1 1594.3,1001.8 1594.6,994.4 1594.9,994.7 1595.3,1001.6 1595.6,995.9 1595.9,1001.7 1596.2,1002.2 1596.6,992.2 1596.9,984.7 1597.2,1004 1597.6,991.2 1597.9,1004 1598.2,1004 1598.6,1006.8 1598.9,1008.3 1599.2,997.2 1599.5,1006.7 1599.9,990.8 1600.2,992.5 1600.5,1000.9 1600.9,989.1 1601.2,1000 1601.5,996.5 1601.9,1002.8 1602.2,998.4 1602.5,996.3 1602.8,1003.6 1603.2,1010.7 1603.5,995.5 1603.8,989.9 1604.2,993 1604.5,1006.7 1604.8,1003 1605.2,988.9 1605.5,981.2 1605.8,1003.5 1606.1,990.7 1606.5,999.3 1606.8,994 1607.1,994.7 1607.5,998.4 1607.8,999.2 1608.1,1007.4 1608.5,999.2 1608.8,1010.6 1609.1,999.9 1609.4,998.9 1609.8,994.4 1610.1,997.9 1610.4,1009.4 1610.8,1000.5 1611.1,986.8 1611.4,991.5 1611.8,1002.4 1612.1,1000.5 1612.4,999.7 1612.7,1001.7 1613.1,990.1 1613.4,988.9 1613.7,994 1614.1,994.1 1614.4,1003.3 1614.7,1005.9 1615.1,1000.7 1615.4,1006.8 1615.7,1005.7 1616,997.8 1616.4,1001.1 1616.7,995.4 1617,1009.8 1617.4,1004.6 1617.7,997.9 1618,993.8 1618.4,995.2 1618.7,1000.2 1619,993.3 1619.3,994.3 1619.7,994.4 1620,998.4 1620.3,998.1 1620.7,1012.1 1621,997.9 1621.3,1003.3 1621.7,1006.9 1622,1005.2 1622.3,1002.8 1622.6,1004.9 1623,997.3 1623.3,993.5 1623.6,994.3 1624,993.3 1624.3,991.2 1624.6,1005.9 1625,1007.4 1625.3,1004.8 1625.6,992.7 1625.9,988.6 1626.3,1005.7 1626.6,1000.5 1626.9,1001.2 1627.3,997.4 1627.6,1002 1627.9,1003.4 1628.3,999.4 1628.6,998.6 1628.9,998.7 1629.2,991.9 1629.6,997.3 1629.9,997.4 1630.2,994.1 1630.6,1004.1 1630.9,1007.1 1631.2,997.1 1631.6,1003.8 1631.9,999.9 1632.2,996.1 1632.5,992.2 1632.9,994.9 1633.2,1009.2 1633.5,1006 1633.9,1006.8 1634.2,1004.7 1634.5,1003.1 1634.9,992.9 1635.2,989.9 1635.5,1004.5 1635.8,991.7 1636.2,990.7 1636.5,1008.4 1636.8,998.4 1637.2,993.5 1637.5,994.2 1637.8,993.5 1638.2,999.5 1638.5,991.7 1638.8,999.9 1639.1,997.1 1639.5,988.9 1639.8,998.6 1640.1,1001.1 1640.5,994.9 1640.8,995.3 1641.1,995.8 1641.5,1006 1641.8,1005.5 1642.1,995.1 1642.4,1004.5 1642.8,1007.8 1643.1,1003.7 1643.4,1003.8 1643.8,992.6 1644.1,1005.1 1644.4,988.8 1644.8,1012.1 1645.1,994.7 1645.4,993.5 1645.7,998.8 1646.1,997.7 1646.4,991.7 1646.7,992.2 1647.1,1008.3 1647.4,994.1 1647.7,991.3 1648.1,995.4 1648.4,999 1648.7,990.5 1649,1002.4 1649.4,999 1649.7,1005.7 1650,993.2 1650.4,990.8 1650.7,1000.7 1651,1010.1 1651.4,988.2 1651.7,1005 1652,998.4 1652.3,1004 1652.7,996.5 1653,1007.1 1653.3,1001.1 1653.7,996.2 1654,996.3 1654.3,1003.1 1654.7,994.3 1655,995.2 1655.3,1009.5 1655.6,993.7 1656,1002.5 1656.3,994.6 1656.6,994.9 1657,1004 1657.3,997.8 1657.6,998.8 1658,993.7 1658.3,1007.4 1658.6,1002.7 1658.9,985.6 1659.3,996.2 1659.6,996.3 1659.9,1005.7 1660.3,1002.6 1660.6,996.9 1660.9,1000.4 1661.3,1004.7 1661.6,993 1661.9,998 1662.2,998.2 1662.6,1000.7 1662.9,990.6 1663.2,996.4 1663.6,993.4 1663.9,993.3 1664.2,996.1 1664.6,994.4 1664.9,1003.7 1665.2,993.7 1665.5,1006.7 1665.9,1005.6 1666.2,1009.3 1666.5,991.6 1666.9,992.3 1667.2,997.2 1667.5,991.4 1667.9,991.5 1668.2,992.1 1668.5,1001.9 1668.8,1006.9 1669.2,990.5 1669.5,996.6 1669.8,997.7 1670.2,1009.5 1670.5,1002.6 1670.8,998.9 1671.2,996.7 1671.5,996.5 1671.8,995.9 1672.1,1003.1 1672.5,992.8 1672.8,990.2 1673.1,1003.7 1673.5,999.8 1673.8,998.1 1674.1,1001.9 1674.5,979.8 1674.8,992.9 1675.1,992 1675.4,994.5 1675.8,997.8 1676.1,995.1 1676.4,996.4 1676.8,1003.7 1677.1,1006.7 1677.4,1004.9 1677.8,1002.8 1678.1,990.3 1678.4,995.4 1678.7,997.9 1679.1,1001.5 1679.4,997.9 1679.7,1001.6 1680.1,1006.4 1680.4,1001.2 1680.7,995.5 1681.1,1009.8 1681.4,1005.5 1681.7,999.1 1682,1004.5 1682.4,991.6 1682.7,1001.3 1683,1002 1683.4,1010.1 1683.7,1003.1 1684,987.2 1684.4,999.5 1684.7,1011.2 1685,991.8 1685.3,1002.8 1685.7,996.4 1686,997.5 1686.3,1007.4 1686.7,1007.6 1687,996 1687.3,1002.9 1687.7,994.4 1688,1000.7 1688.3,993 1688.6,1005.5 1689,993.8 1689.3,989.2 1689.6,989.1 1690,1004.6 1690.3,1003.4 1690.6,1002.3 1691,1007.6 1691.3,1004.3 1691.6,992.9 1691.9,989.8 1692.3,991.2 1692.6,993.6 1692.9,993.7 1693.3,993.4 1693.6,996.1 1693.9,1000.6 1694.3,998.8 1694.6,1002.9 1694.9,997.4 1695.2,1009.7 1695.6,1002.9 1695.9,989.2 1696.2,997.6 1696.6,995.5 1696.9,1003.6 1697.2,991.5 1697.6,1005.5 1697.9,1001.3 1698.2,1008 1698.5,995.8 1698.9,1006 1699.2,991.3 1699.5,1004.6 1699.9,993.2 1700.2,1007.9 1700.5,996.6 1700.9,1001.3 1701.2,995.1 1701.5,993.9 1701.8,998.6 1702.2,994.3 1702.5,989.3 1702.8,1006 1703.2,999 1703.5,997.5 1703.8,1005.9 1704.2,1003.6 1704.5,1006.8 1704.8,1006.1 1705.1,999.2 1705.5,1004.2 1705.8,1002.1 1706.1,1006.2 1706.5,1007 1706.8,992.6 1707.1,997.5 1707.5,998.8 1707.8,1003.9 1708.1,993.5 1708.4,1001 1708.8,997.7 1709.1,983.3 1709.4,995 1709.8,1009.4 1710.1,992.9 1710.4,993.4 1710.8,997.7 1711.1,989.6 1711.4,996 1711.7,1005.9 1712.1,996.8 1712.4,1000.7 1712.7,999.7 1713.1,1007.7 1713.4,1004.3 1713.7,1002.4 1714.1,997.5 1714.4,999.7 1714.7,988.1 1715,990.4 1715.4,1000.4 1715.7,1004.4 1716,997.1 1716.4,992 1716.7,1003.8 1717,997.1 1717.4,996.7 1717.7,1005.4 1718,1000.3 1718.3,1006.2 1718.7,1012.3 1719,992.7 1719.3,1003.7 1719.7,1000.1 1720,988.1 1720.3,1002.4 1720.7,997.3 1721,1002.7 1721.3,990.8 1721.6,993.6 1722,1004.1 1722.3,1000.6 1722.6,990.8 1723,1001.3 1723.3,1002.1 1723.6,1000.2 1724,1002.9 1724.3,990.1 1724.6,1007.4 1724.9,994.6 1725.3,991 1725.6,1001.2 1725.9,1005 1726.3,1007.4" stroke="#000" stroke-width="2.08"/><line x1="1336.3" y1="1000" x2="1336.3" y2="1017.0" stroke="#000" stroke-width="2.08"/></g><line x1="1725.8" y1="845.1" x2="1725.8" y2="1017.0" stroke="#1f77b4" stroke-width="2.08" stroke-dasharray="2.08 3.43"/><rect x="1205.2" y="845.1" width="595.0" height="171.9" fill="none" stroke="#000" stroke-width="2.08"/><path d="M1205.2,974.0h5.5M1205.2,931.0h5.5M1205.2,888.1h5.5" stroke="#000" stroke-width="1.1" fill="none"/><path d="M1205.2,1004.1h3.7M1205.2,996.5h3.7M1205.2,991.1h3.7M1205.2,987.0h3.7M1205.2,983.6h3.7M1205.2,980.7h3.7M1205.2,978.2h3.7M1205.2,976.0h3.7M1205.2,961.1h3.7M1205.2,953.5h3.7M1205.2,948.2h3.7M1205.2,944.0h3.7M1205.2,940.6h3.7M1205.2,937.7h3.7M1205.2,935.2h3.7M1205.2,933.0h3.7M1205.2,918.1h3.7M1205.2,910.5h3.7M1205.2,905.2h3.7M1205.2,901.0h3.7M1205.2,897.6h3.7M1205.2,894.7h3.7M1205.2,892.2h3.7M1205.2,890.0h3.7M1205.2,875.1h3.7M1205.2,867.6h3.7M1205.2,862.2h3.7M1205.2,858.0h3.7M1205.2,854.6h3.7M1205.2,851.8h3.7M1205.2,849.3h3.7M1205.2,847.1h3.7" stroke="#000" stroke-width="1.0" fill="none"/><path d="M1800.2,974.0h-5.5M1800.2,931.0h-5.5M1800.2,888.1h-5.5" stroke="#000" stroke-width="1.1" fill="none"/><path d="M1800.2,1004.1h-3.7M1800.2,996.5h-3.7M1800.2,991.1h-3.7M1800.2,987.0h-3.7M1800.2,983.6h-3.7M1800.2,980.7h-3.7M1800.2,978.2h-3.7M1800.2,976.0h-3.7M1800.2,961.1h-3.7M1800.2,953.5h-3.7M1800.2,948.2h-3.7M1800.2,944.0h-3.7M1800.2,940.6h-3.7M1800.2,937.7h-3.7M1800.2,935.2h-3.7M1800.2,933.0h-3.7M1800.2,918.1h-3.7M1800.2,910.5h-3.7M1800.2,905.2h-3.7M1800.2,901.0h-3.7M1800.2,897.6h-3.7M1800.2,894.7h-3.7M1800.2,892.2h-3.7M1800.2,890.0h-3.7M1800.2,875.1h-3.7M1800.2,867.6h-3.7M1800.2,862.2h-3.7M1800.2,858.0h-3.7M1800.2,854.6h-3.7M1800.2,851.8h-3.7M1800.2,849.3h-3.7M1800.2,847.1h-3.7" stroke="#000" stroke-width="1.0" fill="none"/><path d="M1245.0,1017.0v-5.5M1319.4,1017.0v-5.5M1393.7,1017.0v-5.5M1468.1,1017.0v-5.5M1542.5,1017.0v-5.5M1616.9,1017.0v-5.5M1691.2,1017.0v-5.5M1765.6,1017.0v-5.5" stroke="#000" stroke-width="1.1" fill="none"/><text x="1154.70" y="1024.80" font-size="20.58" textLength="24.94" lengthAdjust="spacingAndGlyphs">10</text><text x="1180.14" y="1016.96" font-size="13.79" textLength="19.36" lengthAdjust="spacingAndGlyphs">−1</text><text x="1165.70" y="981.82" font-size="20.58" textLength="24.94" lengthAdjust="spacingAndGlyphs">10</text><text x="1191.14" y="973.98" font-size="13.79" textLength="8.36" lengthAdjust="spacingAndGlyphs">0</text><text x="1165.70" y="938.85" font-size="20.58" textLength="24.94" lengthAdjust="spacingAndGlyphs">10</text><text x="1191.14" y="931.01" font-size="13.79" textLength="8.36" lengthAdjust="spacingAndGlyphs">1</text><text x="1165.70" y="895.88" font-size="20.58" textLength="24.94" lengthAdjust="spacingAndGlyphs">10</text><text x="1191.14" y="888.03" font-size="13.79" textLength="8.36" lengthAdjust="spacingAndGlyphs">2</text><text x="1165.70" y="852.90" font-size="20.58" textLength="24.94" lengthAdjust="spacingAndGlyphs">10</text><text x="1191.14" y="845.06" font-size="13.79" textLength="8.36" lengthAdjust="spacingAndGlyphs">3</text><text x="1244.59" y="1037.30" font-size="20.58" textLength="24.94" lengthAdjust="spacingAndGlyphs" text-anchor="middle">25</text><text x="1318.96" y="1037.30" font-size="20.58" textLength="24.94" lengthAdjust="spacingAndGlyphs" text-anchor="middle">26</text><text x="1393.34" y="1037.30" font-size="20.58" textLength="24.94" lengthAdjust="spacingAndGlyphs" text-anchor="middle">27</text><text x="1467.71" y="1037.30" font-size="20.58" textLength="24.94" lengthAdjust="spacingAndGlyphs" text-anchor="middle">28</text><text x="1542.09" y="1037.30" font-size="20.58" textLength="24.94" lengthAdjust="spacingAndGlyphs" text-anchor="middle">29</text><text x="1616.46" y="1037.30" font-size="20.58" textLength="24.94" lengthAdjust="spacingAndGlyphs" text-anchor="middle">30</text><text x="1690.84" y="1037.30" font-size="20.58" textLength="24.94" lengthAdjust="spacingAndGlyphs" text-anchor="middle">31</text><text x="1765.21" y="1037.30" font-size="20.58" textLength="24.94" lengthAdjust="spacingAndGlyphs" text-anchor="middle">01</text><text x="1498.60" y="1065.30" font-size="25.20" textLength="136.10" lengthAdjust="spacingAndGlyphs" text-anchor="middle">March/April</text><g><text x="1442.37" y="1094.00" font-size="25.20" textLength="61.08" lengthAdjust="spacingAndGlyphs">2019</text><text x="1511.08" y="1094.00" font-size="25.20" textLength="50.95" lengthAdjust="spacingAndGlyphs">(UT)</text></g><g transform="translate(1105.80 931.00) rotate(-90)"><text x="-126.35" y="0" font-size="25.20" textLength="50.65" lengthAdjust="spacingAndGlyphs">&gt;10</text><text x="-68.07" y="0" font-size="25.20" textLength="51.89" lengthAdjust="spacingAndGlyphs">MeV</text><text x="-8.55" y="0" font-size="25.20" textLength="77.38" lengthAdjust="spacingAndGlyphs">Proton</text><text x="76.46" y="0" font-size="25.20" textLength="49.89" lengthAdjust="spacingAndGlyphs">Flux</text></g><g transform="translate(1138.5 931.0) rotate(-90)"><text x="-88.00" y="0.00" font-size="25.20" textLength="8.48" lengthAdjust="spacingAndGlyphs">(</text><text x="-69.69" y="0.00" font-size="25.20" textLength="33.12" lengthAdjust="spacingAndGlyphs">cm</text><text x="-34.31" y="-9.30" font-size="17.64" textLength="9.68" lengthAdjust="spacingAndGlyphs">2</text><text x="-18.29" y="0.00" font-size="25.20" textLength="11.32" lengthAdjust="spacingAndGlyphs">s</text><text x="-5.16" y="-9.30" font-size="17.64" textLength="22.43" lengthAdjust="spacingAndGlyphs">−1</text><text x="22.98" y="0.00" font-size="25.20" textLength="20.26" lengthAdjust="spacingAndGlyphs">sr</text><text x="45.05" y="-9.30" font-size="17.64" textLength="22.43" lengthAdjust="spacingAndGlyphs">−1</text><text x="79.52" y="0.00" font-size="25.20" textLength="8.48" lengthAdjust="spacingAndGlyphs">)</text></g></svg></body></html>
